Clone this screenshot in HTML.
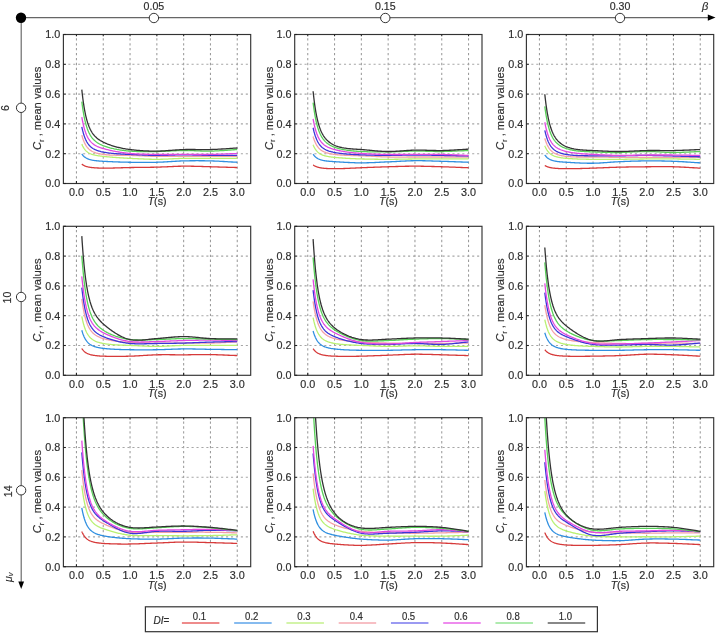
<!DOCTYPE html><html><head><meta charset="utf-8"><style>html,body{margin:0;padding:0;background:#fff;width:716px;height:635px;overflow:hidden}svg{display:block;will-change:transform;filter:blur(0.35px)}text{font-family:"Liberation Sans", sans-serif;fill:#2e2e2e;stroke:#2e2e2e;stroke-width:0.18px}</style></head><body>
<svg width="716" height="635" viewBox="0 0 716 635">
<defs>
<clipPath id="c0"><rect x="63.4" y="34.5" width="187.3" height="149"/></clipPath>
<clipPath id="c1"><rect x="294.7" y="34.5" width="187.3" height="149"/></clipPath>
<clipPath id="c2"><rect x="526.4" y="34.5" width="187.3" height="149"/></clipPath>
<clipPath id="c3"><rect x="63.4" y="226.3" width="187.3" height="149"/></clipPath>
<clipPath id="c4"><rect x="294.7" y="226.3" width="187.3" height="149"/></clipPath>
<clipPath id="c5"><rect x="526.4" y="226.3" width="187.3" height="149"/></clipPath>
<clipPath id="c6"><rect x="63.4" y="417.7" width="187.3" height="149"/></clipPath>
<clipPath id="c7"><rect x="294.7" y="417.7" width="187.3" height="149"/></clipPath>
<clipPath id="c8"><rect x="526.4" y="417.7" width="187.3" height="149"/></clipPath>
</defs>
<line x1="21" y1="17.6" x2="709" y2="17.6" stroke="#666" stroke-width="1.1"/>
<path d="M715.5 17.6 L707.8 14.4 L707.8 20.8 Z" fill="#000"/>
<text x="702.0" y="9.6" font-size="11" font-style="italic">&#946;</text>
<line x1="21.2" y1="17.6" x2="21.2" y2="583" stroke="#666" stroke-width="1.15"/>
<path d="M21.2 589 L18.3 581.5 L24.1 581.5 Z" fill="#000"/>
<circle cx="21" cy="17.8" r="5.2" fill="#000"/>
<circle cx="153.9" cy="18" r="4.7" fill="#fff" stroke="#333" stroke-width="1"/>
<text x="153.9" y="10" font-size="10.6" text-anchor="middle">0.05</text>
<circle cx="385.3" cy="18" r="4.7" fill="#fff" stroke="#333" stroke-width="1"/>
<text x="385.3" y="10" font-size="10.6" text-anchor="middle">0.15</text>
<circle cx="620" cy="18" r="4.7" fill="#fff" stroke="#333" stroke-width="1"/>
<text x="620" y="10" font-size="10.6" text-anchor="middle">0.30</text>
<circle cx="21.1" cy="107.8" r="4.7" fill="#fff" stroke="#333" stroke-width="1"/>
<text x="0" y="0" font-size="10.6" text-anchor="middle" transform="translate(9.2 108) rotate(-90)">6</text>
<circle cx="21.1" cy="297" r="4.7" fill="#fff" stroke="#333" stroke-width="1"/>
<text x="0" y="0" font-size="10.6" text-anchor="middle" transform="translate(10.7 297.6) rotate(-90)">10</text>
<circle cx="21.1" cy="490.3" r="4.7" fill="#fff" stroke="#333" stroke-width="1"/>
<text x="0" y="0" font-size="10.6" text-anchor="middle" transform="translate(11.6 491.3) rotate(-90)">14</text>
<text x="0" y="0" font-size="10.5" font-style="italic" transform="translate(12.0 581.9) rotate(-90)" style="stroke-width:0.1px">&#956;<tspan font-size="7.5" dy="0.8">v</tspan></text>
<line x1="76.45" y1="38.2" x2="76.45" y2="183.5" stroke="#9a9a9a" stroke-width="1.05" stroke-dasharray="2.3 2.63"/>
<line x1="103.25" y1="38.2" x2="103.25" y2="183.5" stroke="#9a9a9a" stroke-width="1.05" stroke-dasharray="2.3 2.63"/>
<line x1="130.05" y1="38.2" x2="130.05" y2="183.5" stroke="#9a9a9a" stroke-width="1.05" stroke-dasharray="2.3 2.63"/>
<line x1="156.85" y1="38.2" x2="156.85" y2="183.5" stroke="#9a9a9a" stroke-width="1.05" stroke-dasharray="2.3 2.63"/>
<line x1="183.65" y1="38.2" x2="183.65" y2="183.5" stroke="#9a9a9a" stroke-width="1.05" stroke-dasharray="2.3 2.63"/>
<line x1="210.45" y1="38.2" x2="210.45" y2="183.5" stroke="#9a9a9a" stroke-width="1.05" stroke-dasharray="2.3 2.63"/>
<line x1="237.25" y1="38.2" x2="237.25" y2="183.5" stroke="#9a9a9a" stroke-width="1.05" stroke-dasharray="2.3 2.63"/>
<line x1="68.3" y1="153.7" x2="248.7" y2="153.7" stroke="#a6a6a6" stroke-width="1.1" stroke-dasharray="2.1 2.83"/>
<line x1="68.3" y1="123.9" x2="248.7" y2="123.9" stroke="#a6a6a6" stroke-width="1.1" stroke-dasharray="2.1 2.83"/>
<line x1="68.3" y1="94.1" x2="248.7" y2="94.1" stroke="#a6a6a6" stroke-width="1.1" stroke-dasharray="2.1 2.83"/>
<line x1="68.3" y1="64.3" x2="248.7" y2="64.3" stroke="#a6a6a6" stroke-width="1.1" stroke-dasharray="2.1 2.83"/>
<polyline clip-path="url(#c0)" points="81.81,164.13 81.83,164.14 81.87,164.18 81.93,164.22 82.01,164.29 82.11,164.36 82.23,164.45 82.37,164.55 82.52,164.65 82.68,164.76 82.87,164.88 83.07,165.01 83.28,165.13 83.51,165.26 83.75,165.39 84.00,165.52 84.27,165.66 84.56,165.79 84.86,165.92 85.17,166.04 85.49,166.17 85.83,166.29 86.18,166.41 86.54,166.52 86.92,166.63 87.31,166.74 87.71,166.84 88.13,166.94 88.56,167.03 89.00,167.12 89.45,167.20 89.91,167.28 90.39,167.35 90.88,167.42 91.38,167.49 91.89,167.55 92.41,167.61 92.95,167.67 93.50,167.72 94.06,167.76 94.63,167.81 95.21,167.85 95.81,167.89 96.41,167.93 97.03,167.96 97.66,167.99 98.30,168.02 98.95,168.04 99.61,168.06 100.28,168.08 100.97,168.10 101.66,168.11 102.37,168.12 103.08,168.13 103.81,168.13 104.55,168.14 105.30,168.14 106.06,168.13 106.83,168.13 107.61,168.12 108.41,168.11 109.21,168.10 110.02,168.09 110.85,168.07 111.68,168.05 112.53,168.03 113.38,168.01 114.25,167.99 115.13,167.97 116.01,167.94 116.91,167.92 117.82,167.89 118.74,167.86 119.67,167.83 120.60,167.80 121.55,167.77 122.51,167.74 123.48,167.72 124.46,167.69 125.45,167.66 126.45,167.63 127.46,167.60 128.48,167.58 129.51,167.56 130.55,167.53 131.60,167.51 132.65,167.50 133.72,167.48 134.80,167.46 135.89,167.45 136.99,167.43 138.10,167.42 139.22,167.41 140.35,167.40 141.48,167.39 142.63,167.37 143.79,167.36 144.95,167.35 146.13,167.34 147.32,167.32 148.51,167.31 149.72,167.29 150.93,167.27 152.16,167.25 153.39,167.23 154.64,167.21 155.89,167.18 157.15,167.14 158.42,167.11 159.71,167.06 161.00,167.02 162.30,166.96 163.61,166.91 164.93,166.85 166.26,166.79 167.59,166.73 168.94,166.66 170.30,166.60 171.66,166.54 173.04,166.48 174.42,166.42 175.82,166.36 177.22,166.31 178.63,166.27 180.05,166.23 181.48,166.20 182.92,166.18 184.37,166.17 185.83,166.17 187.30,166.17 188.78,166.19 190.26,166.21 191.76,166.23 193.26,166.26 194.77,166.30 196.29,166.34 197.83,166.38 199.37,166.43 200.91,166.47 202.47,166.52 204.04,166.57 205.62,166.62 207.20,166.67 208.79,166.72 210.40,166.76 212.01,166.80 213.63,166.85 215.26,166.89 216.90,166.94 218.55,166.98 220.20,167.03 221.87,167.08 223.54,167.13 225.22,167.18 226.92,167.23 228.62,167.29 230.33,167.34 232.04,167.39 233.77,167.44 235.51,167.49 237.25,167.54" fill="none" stroke="#d63a3a" stroke-width="1.3" stroke-linejoin="round"/>
<polyline clip-path="url(#c0)" points="81.81,153.85 81.83,153.87 81.87,153.93 81.93,154.02 82.01,154.14 82.11,154.28 82.23,154.44 82.37,154.61 82.52,154.81 82.68,155.01 82.87,155.23 83.07,155.46 83.28,155.69 83.51,155.93 83.75,156.17 84.00,156.41 84.27,156.65 84.56,156.89 84.86,157.12 85.17,157.36 85.49,157.58 85.83,157.80 86.18,158.02 86.54,158.23 86.92,158.42 87.31,158.62 87.71,158.80 88.13,158.97 88.56,159.14 89.00,159.30 89.45,159.45 89.91,159.59 90.39,159.72 90.88,159.84 91.38,159.96 91.89,160.07 92.41,160.18 92.95,160.28 93.50,160.37 94.06,160.45 94.63,160.54 95.21,160.61 95.81,160.68 96.41,160.75 97.03,160.82 97.66,160.88 98.30,160.94 98.95,160.99 99.61,161.04 100.28,161.09 100.97,161.14 101.66,161.19 102.37,161.23 103.08,161.28 103.81,161.32 104.55,161.36 105.30,161.40 106.06,161.44 106.83,161.48 107.61,161.52 108.41,161.56 109.21,161.60 110.02,161.64 110.85,161.67 111.68,161.71 112.53,161.75 113.38,161.78 114.25,161.82 115.13,161.85 116.01,161.89 116.91,161.92 117.82,161.95 118.74,161.99 119.67,162.02 120.60,162.05 121.55,162.08 122.51,162.10 123.48,162.13 124.46,162.16 125.45,162.18 126.45,162.20 127.46,162.22 128.48,162.24 129.51,162.26 130.55,162.27 131.60,162.28 132.65,162.30 133.72,162.31 134.80,162.32 135.89,162.34 136.99,162.35 138.10,162.36 139.22,162.37 140.35,162.38 141.48,162.39 142.63,162.39 143.79,162.40 144.95,162.40 146.13,162.40 147.32,162.40 148.51,162.39 149.72,162.38 150.93,162.37 152.16,162.36 153.39,162.34 154.64,162.32 155.89,162.29 157.15,162.26 158.42,162.22 159.71,162.17 161.00,162.11 162.30,162.05 163.61,161.98 164.93,161.91 166.26,161.83 167.59,161.75 168.94,161.66 170.30,161.57 171.66,161.49 173.04,161.40 174.42,161.32 175.82,161.24 177.22,161.16 178.63,161.09 180.05,161.02 181.48,160.96 182.92,160.92 184.37,160.88 185.83,160.84 187.30,160.81 188.78,160.79 190.26,160.77 191.76,160.75 193.26,160.74 194.77,160.73 196.29,160.72 197.83,160.72 199.37,160.73 200.91,160.74 202.47,160.75 204.04,160.77 205.62,160.79 207.20,160.82 208.79,160.86 210.40,160.89 212.01,160.94 213.63,160.99 215.26,161.06 216.90,161.13 218.55,161.21 220.20,161.29 221.87,161.38 223.54,161.48 225.22,161.57 226.92,161.67 228.62,161.78 230.33,161.88 232.04,161.98 233.77,162.08 235.51,162.17 237.25,162.26" fill="none" stroke="#2f8fe0" stroke-width="1.3" stroke-linejoin="round"/>
<polyline clip-path="url(#c0)" points="81.81,144.16 81.83,144.20 81.87,144.30 81.93,144.45 82.01,144.64 82.11,144.86 82.23,145.12 82.37,145.41 82.52,145.72 82.68,146.06 82.87,146.41 83.07,146.78 83.28,147.16 83.51,147.54 83.75,147.94 84.00,148.33 84.27,148.72 84.56,149.11 84.86,149.50 85.17,149.88 85.49,150.25 85.83,150.61 86.18,150.96 86.54,151.30 86.92,151.62 87.31,151.94 87.71,152.24 88.13,152.52 88.56,152.79 89.00,153.05 89.45,153.30 89.91,153.53 90.39,153.75 90.88,153.96 91.38,154.15 91.89,154.33 92.41,154.51 92.95,154.67 93.50,154.82 94.06,154.97 94.63,155.10 95.21,155.23 95.81,155.35 96.41,155.47 97.03,155.58 97.66,155.68 98.30,155.78 98.95,155.88 99.61,155.97 100.28,156.05 100.97,156.14 101.66,156.22 102.37,156.30 103.08,156.38 103.81,156.46 104.55,156.53 105.30,156.61 106.06,156.68 106.83,156.75 107.61,156.83 108.41,156.90 109.21,156.97 110.02,157.03 110.85,157.10 111.68,157.17 112.53,157.24 113.38,157.31 114.25,157.37 115.13,157.44 116.01,157.50 116.91,157.57 117.82,157.63 118.74,157.70 119.67,157.76 120.60,157.82 121.55,157.88 122.51,157.94 123.48,158.00 124.46,158.06 125.45,158.12 126.45,158.17 127.46,158.23 128.48,158.28 129.51,158.33 130.55,158.38 131.60,158.43 132.65,158.48 133.72,158.53 134.80,158.58 135.89,158.64 136.99,158.69 138.10,158.75 139.22,158.80 140.35,158.86 141.48,158.91 142.63,158.96 143.79,159.01 144.95,159.06 146.13,159.11 147.32,159.15 148.51,159.19 149.72,159.23 150.93,159.26 152.16,159.29 153.39,159.31 154.64,159.32 155.89,159.33 157.15,159.33 158.42,159.32 159.71,159.30 161.00,159.27 162.30,159.24 163.61,159.19 164.93,159.14 166.26,159.09 167.59,159.03 168.94,158.96 170.30,158.90 171.66,158.83 173.04,158.76 174.42,158.69 175.82,158.63 177.22,158.56 178.63,158.50 180.05,158.45 181.48,158.41 182.92,158.37 184.37,158.34 185.83,158.32 187.30,158.30 188.78,158.29 190.26,158.28 191.76,158.28 193.26,158.28 194.77,158.28 196.29,158.29 197.83,158.30 199.37,158.30 200.91,158.31 202.47,158.32 204.04,158.33 205.62,158.34 207.20,158.35 208.79,158.35 210.40,158.35 212.01,158.35 213.63,158.35 215.26,158.35 216.90,158.35 218.55,158.35 220.20,158.35 221.87,158.35 223.54,158.35 225.22,158.35 226.92,158.35 228.62,158.35 230.33,158.35 232.04,158.35 233.77,158.35 235.51,158.35 237.25,158.35" fill="none" stroke="#b8f070" stroke-width="1.3" stroke-linejoin="round"/>
<polyline clip-path="url(#c0)" points="81.81,135.07 81.83,135.14 81.87,135.29 81.93,135.52 82.01,135.81 82.11,136.17 82.23,136.57 82.37,137.02 82.52,137.52 82.68,138.04 82.87,138.59 83.07,139.17 83.28,139.77 83.51,140.37 83.75,140.99 84.00,141.61 84.27,142.23 84.56,142.84 84.86,143.45 85.17,144.05 85.49,144.64 85.83,145.21 86.18,145.77 86.54,146.31 86.92,146.83 87.31,147.33 87.71,147.81 88.13,148.27 88.56,148.71 89.00,149.12 89.45,149.52 89.91,149.90 90.39,150.25 90.88,150.59 91.38,150.91 91.89,151.21 92.41,151.49 92.95,151.76 93.50,152.01 94.06,152.25 94.63,152.47 95.21,152.68 95.81,152.88 96.41,153.07 97.03,153.25 97.66,153.41 98.30,153.57 98.95,153.71 99.61,153.85 100.28,153.98 100.97,154.10 101.66,154.21 102.37,154.32 103.08,154.42 103.81,154.51 104.55,154.60 105.30,154.68 106.06,154.75 106.83,154.82 107.61,154.88 108.41,154.93 109.21,154.98 110.02,155.03 110.85,155.07 111.68,155.11 112.53,155.14 113.38,155.17 114.25,155.19 115.13,155.21 116.01,155.23 116.91,155.25 117.82,155.26 118.74,155.28 119.67,155.29 120.60,155.30 121.55,155.31 122.51,155.32 123.48,155.33 124.46,155.34 125.45,155.35 126.45,155.36 127.46,155.37 128.48,155.39 129.51,155.41 130.55,155.43 131.60,155.46 132.65,155.49 133.72,155.52 134.80,155.56 135.89,155.60 136.99,155.64 138.10,155.69 139.22,155.74 140.35,155.79 141.48,155.84 142.63,155.89 143.79,155.94 144.95,156.00 146.13,156.05 147.32,156.10 148.51,156.15 149.72,156.20 150.93,156.24 152.16,156.28 153.39,156.32 154.64,156.35 155.89,156.38 157.15,156.40 158.42,156.42 159.71,156.43 161.00,156.45 162.30,156.45 163.61,156.46 164.93,156.46 166.26,156.46 167.59,156.46 168.94,156.46 170.30,156.45 171.66,156.45 173.04,156.44 174.42,156.43 175.82,156.43 177.22,156.42 178.63,156.41 180.05,156.41 181.48,156.40 182.92,156.40 184.37,156.40 185.83,156.40 187.30,156.40 188.78,156.40 190.26,156.40 191.76,156.40 193.26,156.40 194.77,156.40 196.29,156.40 197.83,156.40 199.37,156.40 200.91,156.40 202.47,156.40 204.04,156.40 205.62,156.40 207.20,156.40 208.79,156.40 210.40,156.40 212.01,156.40 213.63,156.40 215.26,156.40 216.90,156.40 218.55,156.40 220.20,156.40 221.87,156.40 223.54,156.40 225.22,156.40 226.92,156.40 228.62,156.40 230.33,156.40 232.04,156.40 233.77,156.40 235.51,156.40 237.25,156.40" fill="none" stroke="#f4a0a6" stroke-width="1.3" stroke-linejoin="round"/>
<polyline clip-path="url(#c0)" points="81.81,126.88 81.83,126.96 81.87,127.16 81.93,127.45 82.01,127.83 82.11,128.28 82.23,128.81 82.37,129.39 82.52,130.02 82.68,130.70 82.87,131.41 83.07,132.15 83.28,132.92 83.51,133.70 83.75,134.49 84.00,135.29 84.27,136.09 84.56,136.89 84.86,137.67 85.17,138.45 85.49,139.21 85.83,139.95 86.18,140.67 86.54,141.36 86.92,142.04 87.31,142.68 87.71,143.30 88.13,143.90 88.56,144.47 89.00,145.01 89.45,145.52 89.91,146.01 90.39,146.48 90.88,146.92 91.38,147.33 91.89,147.73 92.41,148.10 92.95,148.45 93.50,148.78 94.06,149.09 94.63,149.39 95.21,149.67 95.81,149.93 96.41,150.18 97.03,150.42 97.66,150.64 98.30,150.85 98.95,151.05 99.61,151.24 100.28,151.42 100.97,151.60 101.66,151.76 102.37,151.91 103.08,152.06 103.81,152.20 104.55,152.34 105.30,152.47 106.06,152.59 106.83,152.71 107.61,152.82 108.41,152.92 109.21,153.02 110.02,153.12 110.85,153.21 111.68,153.30 112.53,153.38 113.38,153.46 114.25,153.54 115.13,153.61 116.01,153.68 116.91,153.74 117.82,153.81 118.74,153.87 119.67,153.93 120.60,153.98 121.55,154.04 122.51,154.09 123.48,154.14 124.46,154.19 125.45,154.24 126.45,154.28 127.46,154.33 128.48,154.37 129.51,154.42 130.55,154.46 131.60,154.51 132.65,154.56 133.72,154.61 134.80,154.66 135.89,154.71 136.99,154.76 138.10,154.81 139.22,154.87 140.35,154.92 141.48,154.97 142.63,155.02 143.79,155.07 144.95,155.12 146.13,155.17 147.32,155.21 148.51,155.25 149.72,155.29 150.93,155.33 152.16,155.36 153.39,155.38 154.64,155.40 155.89,155.41 157.15,155.42 158.42,155.42 159.71,155.41 161.00,155.39 162.30,155.37 163.61,155.34 164.93,155.31 166.26,155.27 167.59,155.23 168.94,155.19 170.30,155.14 171.66,155.09 173.04,155.05 174.42,155.00 175.82,154.96 177.22,154.93 178.63,154.89 180.05,154.87 181.48,154.85 182.92,154.84 184.37,154.83 185.83,154.84 187.30,154.86 188.78,154.88 190.26,154.91 191.76,154.94 193.26,154.98 194.77,155.02 196.29,155.07 197.83,155.11 199.37,155.16 200.91,155.21 202.47,155.25 204.04,155.29 205.62,155.33 207.20,155.37 208.79,155.40 210.40,155.42 212.01,155.44 213.63,155.45 215.26,155.46 216.90,155.46 218.55,155.46 220.20,155.46 221.87,155.46 223.54,155.46 225.22,155.45 226.92,155.45 228.62,155.44 230.33,155.44 232.04,155.43 233.77,155.42 235.51,155.42 237.25,155.42" fill="none" stroke="#3a36d8" stroke-width="1.3" stroke-linejoin="round"/>
<polyline clip-path="url(#c0)" points="81.81,117.05 81.83,117.14 81.87,117.39 81.93,117.75 82.01,118.22 82.11,118.78 82.23,119.43 82.37,120.14 82.52,120.93 82.68,121.76 82.87,122.64 83.07,123.56 83.28,124.51 83.51,125.48 83.75,126.46 84.00,127.45 84.27,128.43 84.56,129.42 84.86,130.39 85.17,131.35 85.49,132.29 85.83,133.21 86.18,134.10 86.54,134.96 86.92,135.80 87.31,136.60 87.71,137.37 88.13,138.11 88.56,138.82 89.00,139.49 89.45,140.13 89.91,140.74 90.39,141.32 90.88,141.87 91.38,142.39 91.89,142.88 92.41,143.35 92.95,143.79 93.50,144.20 94.06,144.60 94.63,144.97 95.21,145.33 95.81,145.66 96.41,145.98 97.03,146.29 97.66,146.58 98.30,146.85 98.95,147.12 99.61,147.37 100.28,147.62 100.97,147.86 101.66,148.09 102.37,148.31 103.08,148.53 103.81,148.74 104.55,148.95 105.30,149.15 106.06,149.35 106.83,149.55 107.61,149.74 108.41,149.93 109.21,150.12 110.02,150.31 110.85,150.49 111.68,150.67 112.53,150.85 113.38,151.02 114.25,151.19 115.13,151.36 116.01,151.53 116.91,151.69 117.82,151.85 118.74,152.01 119.67,152.16 120.60,152.31 121.55,152.46 122.51,152.60 123.48,152.73 124.46,152.86 125.45,152.99 126.45,153.11 127.46,153.22 128.48,153.32 129.51,153.42 130.55,153.51 131.60,153.59 132.65,153.67 133.72,153.74 134.80,153.81 135.89,153.87 136.99,153.93 138.10,153.98 139.22,154.03 140.35,154.08 141.48,154.12 142.63,154.16 143.79,154.19 144.95,154.23 146.13,154.26 147.32,154.28 148.51,154.31 149.72,154.33 150.93,154.35 152.16,154.37 153.39,154.39 154.64,154.41 155.89,154.43 157.15,154.45 158.42,154.46 159.71,154.47 161.00,154.48 162.30,154.49 163.61,154.50 164.93,154.50 166.26,154.50 167.59,154.50 168.94,154.49 170.30,154.49 171.66,154.49 173.04,154.48 174.42,154.47 175.82,154.47 177.22,154.46 178.63,154.46 180.05,154.45 181.48,154.45 182.92,154.44 184.37,154.44 185.83,154.44 187.30,154.45 188.78,154.45 190.26,154.46 191.76,154.47 193.26,154.48 194.77,154.49 196.29,154.50 197.83,154.50 199.37,154.51 200.91,154.51 202.47,154.51 204.04,154.51 205.62,154.50 207.20,154.49 208.79,154.47 210.40,154.44 212.01,154.41 213.63,154.37 215.26,154.33 216.90,154.27 218.55,154.22 220.20,154.16 221.87,154.09 223.54,154.03 225.22,153.96 226.92,153.89 228.62,153.81 230.33,153.74 232.04,153.67 233.77,153.60 235.51,153.53 237.25,153.46" fill="none" stroke="#e048e0" stroke-width="1.3" stroke-linejoin="round"/>
<polyline clip-path="url(#c0)" points="81.81,101.55 81.83,101.69 81.87,102.02 81.93,102.52 82.01,103.17 82.11,103.95 82.23,104.84 82.37,105.83 82.52,106.91 82.68,108.07 82.87,109.29 83.07,110.56 83.28,111.87 83.51,113.21 83.75,114.57 84.00,115.94 84.27,117.31 84.56,118.68 84.86,120.03 85.17,121.37 85.49,122.67 85.83,123.95 86.18,125.20 86.54,126.41 86.92,127.57 87.31,128.70 87.71,129.78 88.13,130.82 88.56,131.81 89.00,132.76 89.45,133.67 89.91,134.53 90.39,135.35 90.88,136.13 91.38,136.87 91.89,137.57 92.41,138.23 92.95,138.86 93.50,139.46 94.06,140.02 94.63,140.56 95.21,141.06 95.81,141.55 96.41,142.00 97.03,142.44 97.66,142.85 98.30,143.25 98.95,143.63 99.61,143.99 100.28,144.33 100.97,144.66 101.66,144.98 102.37,145.28 103.08,145.58 103.81,145.86 104.55,146.14 105.30,146.40 106.06,146.66 106.83,146.91 107.61,147.15 108.41,147.39 109.21,147.61 110.02,147.84 110.85,148.05 111.68,148.26 112.53,148.47 113.38,148.66 114.25,148.86 115.13,149.04 116.01,149.22 116.91,149.40 117.82,149.56 118.74,149.73 119.67,149.88 120.60,150.03 121.55,150.18 122.51,150.32 123.48,150.45 124.46,150.57 125.45,150.69 126.45,150.80 127.46,150.90 128.48,150.99 129.51,151.08 130.55,151.15 131.60,151.22 132.65,151.29 133.72,151.34 134.80,151.39 135.89,151.44 136.99,151.48 138.10,151.51 139.22,151.54 140.35,151.57 141.48,151.58 142.63,151.60 143.79,151.61 144.95,151.62 146.13,151.62 147.32,151.62 148.51,151.61 149.72,151.60 150.93,151.59 152.16,151.58 153.39,151.56 154.64,151.55 155.89,151.53 157.15,151.50 158.42,151.48 159.71,151.44 161.00,151.40 162.30,151.35 163.61,151.30 164.93,151.24 166.26,151.18 167.59,151.12 168.94,151.05 170.30,150.99 171.66,150.92 173.04,150.86 174.42,150.80 175.82,150.74 177.22,150.68 178.63,150.64 180.05,150.60 181.48,150.56 182.92,150.54 184.37,150.53 185.83,150.53 187.30,150.55 188.78,150.57 190.26,150.61 191.76,150.66 193.26,150.71 194.77,150.77 196.29,150.83 197.83,150.89 199.37,150.95 200.91,151.00 202.47,151.05 204.04,151.09 205.62,151.12 207.20,151.14 208.79,151.14 210.40,151.12 212.01,151.08 213.63,151.03 215.26,150.97 216.90,150.89 218.55,150.80 220.20,150.71 221.87,150.60 223.54,150.49 225.22,150.38 226.92,150.26 228.62,150.13 230.33,150.01 232.04,149.89 233.77,149.77 235.51,149.66 237.25,149.55" fill="none" stroke="#58d058" stroke-width="1.3" stroke-linejoin="round"/>
<polyline clip-path="url(#c0)" points="81.81,89.63 81.83,89.79 81.87,90.18 81.93,90.77 82.01,91.53 82.11,92.45 82.23,93.49 82.37,94.66 82.52,95.93 82.68,97.29 82.87,98.73 83.07,100.22 83.28,101.77 83.51,103.35 83.75,104.95 84.00,106.57 84.27,108.19 84.56,109.80 84.86,111.40 85.17,112.97 85.49,114.52 85.83,116.03 86.18,117.51 86.54,118.94 86.92,120.32 87.31,121.66 87.71,122.94 88.13,124.18 88.56,125.36 89.00,126.49 89.45,127.57 89.91,128.60 90.39,129.58 90.88,130.51 91.38,131.40 91.89,132.24 92.41,133.04 92.95,133.80 93.50,134.52 94.06,135.20 94.63,135.85 95.21,136.47 95.81,137.05 96.41,137.61 97.03,138.14 97.66,138.65 98.30,139.14 98.95,139.60 99.61,140.05 100.28,140.48 100.97,140.89 101.66,141.28 102.37,141.67 103.08,142.04 103.81,142.40 104.55,142.75 105.30,143.09 106.06,143.42 106.83,143.74 107.61,144.06 108.41,144.36 109.21,144.66 110.02,144.95 110.85,145.24 111.68,145.51 112.53,145.78 113.38,146.05 114.25,146.31 115.13,146.56 116.01,146.80 116.91,147.04 117.82,147.27 118.74,147.50 119.67,147.72 120.60,147.93 121.55,148.13 122.51,148.33 123.48,148.52 124.46,148.70 125.45,148.88 126.45,149.04 127.46,149.20 128.48,149.35 129.51,149.49 130.55,149.61 131.60,149.74 132.65,149.86 133.72,149.97 134.80,150.08 135.89,150.18 136.99,150.28 138.10,150.38 139.22,150.47 140.35,150.56 141.48,150.64 142.63,150.71 143.79,150.78 144.95,150.85 146.13,150.90 147.32,150.95 148.51,151.00 149.72,151.04 150.93,151.07 152.16,151.10 153.39,151.11 154.64,151.12 155.89,151.12 157.15,151.12 158.42,151.09 159.71,151.06 161.00,151.01 162.30,150.95 163.61,150.88 164.93,150.80 166.26,150.71 167.59,150.61 168.94,150.51 170.30,150.41 171.66,150.30 173.04,150.19 174.42,150.09 175.82,149.98 177.22,149.88 178.63,149.79 180.05,149.71 181.48,149.64 182.92,149.58 184.37,149.53 185.83,149.50 187.30,149.48 188.78,149.47 190.26,149.48 191.76,149.48 193.26,149.50 194.77,149.52 196.29,149.54 197.83,149.56 199.37,149.58 200.91,149.60 202.47,149.62 204.04,149.63 205.62,149.63 207.20,149.62 208.79,149.59 210.40,149.56 212.01,149.50 213.63,149.44 215.26,149.37 216.90,149.29 218.55,149.20 220.20,149.10 221.87,149.00 223.54,148.89 225.22,148.78 226.92,148.66 228.62,148.55 230.33,148.43 232.04,148.32 233.77,148.20 235.51,148.09 237.25,147.99" fill="none" stroke="#333333" stroke-width="1.3" stroke-linejoin="round"/>
<rect x="63.4" y="34.5" width="187.3" height="149" fill="none" stroke="#333" stroke-width="1.15"/>
<line x1="76.45" y1="183.5" x2="76.45" y2="181" stroke="#222" stroke-width="1.1"/>
<line x1="76.45" y1="34.5" x2="76.45" y2="36.3" stroke="#222" stroke-width="1.1"/>
<text x="76.45" y="195.7" font-size="10.8" text-anchor="middle">0.0</text>
<line x1="103.25" y1="183.5" x2="103.25" y2="181" stroke="#222" stroke-width="1.1"/>
<line x1="103.25" y1="34.5" x2="103.25" y2="36.3" stroke="#222" stroke-width="1.1"/>
<text x="103.25" y="195.7" font-size="10.8" text-anchor="middle">0.5</text>
<line x1="130.05" y1="183.5" x2="130.05" y2="181" stroke="#222" stroke-width="1.1"/>
<line x1="130.05" y1="34.5" x2="130.05" y2="36.3" stroke="#222" stroke-width="1.1"/>
<text x="130.05" y="195.7" font-size="10.8" text-anchor="middle">1.0</text>
<line x1="156.85" y1="183.5" x2="156.85" y2="181" stroke="#222" stroke-width="1.1"/>
<line x1="156.85" y1="34.5" x2="156.85" y2="36.3" stroke="#222" stroke-width="1.1"/>
<text x="156.85" y="195.7" font-size="10.8" text-anchor="middle">1.5</text>
<line x1="183.65" y1="183.5" x2="183.65" y2="181" stroke="#222" stroke-width="1.1"/>
<line x1="183.65" y1="34.5" x2="183.65" y2="36.3" stroke="#222" stroke-width="1.1"/>
<text x="183.65" y="195.7" font-size="10.8" text-anchor="middle">2.0</text>
<line x1="210.45" y1="183.5" x2="210.45" y2="181" stroke="#222" stroke-width="1.1"/>
<line x1="210.45" y1="34.5" x2="210.45" y2="36.3" stroke="#222" stroke-width="1.1"/>
<text x="210.45" y="195.7" font-size="10.8" text-anchor="middle">2.5</text>
<line x1="237.25" y1="183.5" x2="237.25" y2="181" stroke="#222" stroke-width="1.1"/>
<line x1="237.25" y1="34.5" x2="237.25" y2="36.3" stroke="#222" stroke-width="1.1"/>
<text x="237.25" y="195.7" font-size="10.8" text-anchor="middle">3.0</text>
<line x1="63.4" y1="183.5" x2="65.9" y2="183.5" stroke="#222" stroke-width="1.1"/>
<text x="60.2" y="187.4" font-size="10.8" text-anchor="end">0.0</text>
<line x1="63.4" y1="153.7" x2="65.9" y2="153.7" stroke="#222" stroke-width="1.1"/>
<text x="60.2" y="157.6" font-size="10.8" text-anchor="end">0.2</text>
<line x1="63.4" y1="123.9" x2="65.9" y2="123.9" stroke="#222" stroke-width="1.1"/>
<text x="60.2" y="127.8" font-size="10.8" text-anchor="end">0.4</text>
<line x1="63.4" y1="94.1" x2="65.9" y2="94.1" stroke="#222" stroke-width="1.1"/>
<text x="60.2" y="98" font-size="10.8" text-anchor="end">0.6</text>
<line x1="63.4" y1="64.3" x2="65.9" y2="64.3" stroke="#222" stroke-width="1.1"/>
<text x="60.2" y="68.2" font-size="10.8" text-anchor="end">0.8</text>
<line x1="63.4" y1="34.5" x2="65.9" y2="34.5" stroke="#222" stroke-width="1.1"/>
<text x="60.2" y="38.4" font-size="10.8" text-anchor="end">1.0</text>
<text x="157.05" y="205.3" font-size="10.6" text-anchor="middle"><tspan font-style="italic">T</tspan>(s)</text>
<text x="0" y="0" font-size="11.2" text-anchor="middle" transform="translate(41.2 108.4) rotate(-90)"><tspan font-style="italic">C</tspan><tspan font-size="7.5" dy="2.5">r</tspan><tspan dy="-2.5"> , mean values</tspan></text>
<line x1="307.75" y1="38.2" x2="307.75" y2="183.5" stroke="#9a9a9a" stroke-width="1.05" stroke-dasharray="2.3 2.63"/>
<line x1="334.55" y1="38.2" x2="334.55" y2="183.5" stroke="#9a9a9a" stroke-width="1.05" stroke-dasharray="2.3 2.63"/>
<line x1="361.35" y1="38.2" x2="361.35" y2="183.5" stroke="#9a9a9a" stroke-width="1.05" stroke-dasharray="2.3 2.63"/>
<line x1="388.15" y1="38.2" x2="388.15" y2="183.5" stroke="#9a9a9a" stroke-width="1.05" stroke-dasharray="2.3 2.63"/>
<line x1="414.95" y1="38.2" x2="414.95" y2="183.5" stroke="#9a9a9a" stroke-width="1.05" stroke-dasharray="2.3 2.63"/>
<line x1="441.75" y1="38.2" x2="441.75" y2="183.5" stroke="#9a9a9a" stroke-width="1.05" stroke-dasharray="2.3 2.63"/>
<line x1="468.55" y1="38.2" x2="468.55" y2="183.5" stroke="#9a9a9a" stroke-width="1.05" stroke-dasharray="2.3 2.63"/>
<line x1="299.6" y1="153.7" x2="480" y2="153.7" stroke="#a6a6a6" stroke-width="1.1" stroke-dasharray="2.1 2.83"/>
<line x1="299.6" y1="123.9" x2="480" y2="123.9" stroke="#a6a6a6" stroke-width="1.1" stroke-dasharray="2.1 2.83"/>
<line x1="299.6" y1="94.1" x2="480" y2="94.1" stroke="#a6a6a6" stroke-width="1.1" stroke-dasharray="2.1 2.83"/>
<line x1="299.6" y1="64.3" x2="480" y2="64.3" stroke="#a6a6a6" stroke-width="1.1" stroke-dasharray="2.1 2.83"/>
<polyline clip-path="url(#c1)" points="313.11,164.88 313.13,164.89 313.17,164.92 313.23,164.97 313.31,165.03 313.41,165.10 313.53,165.18 313.67,165.28 313.82,165.38 313.98,165.48 314.17,165.60 314.37,165.72 314.58,165.84 314.81,165.96 315.05,166.09 315.30,166.22 315.57,166.34 315.86,166.47 316.16,166.59 316.47,166.72 316.79,166.84 317.13,166.96 317.48,167.07 317.84,167.18 318.22,167.29 318.61,167.39 319.01,167.49 319.43,167.58 319.86,167.67 320.30,167.76 320.75,167.84 321.21,167.91 321.69,167.99 322.18,168.06 322.68,168.12 323.19,168.18 323.71,168.24 324.25,168.29 324.80,168.34 325.36,168.39 325.93,168.43 326.51,168.48 327.11,168.51 327.71,168.55 328.33,168.58 328.96,168.61 329.60,168.63 330.25,168.65 330.91,168.67 331.58,168.69 332.27,168.70 332.96,168.71 333.67,168.72 334.38,168.72 335.11,168.72 335.85,168.71 336.60,168.70 337.36,168.69 338.13,168.68 338.91,168.66 339.71,168.65 340.51,168.62 341.32,168.60 342.15,168.57 342.98,168.55 343.83,168.52 344.68,168.48 345.55,168.45 346.43,168.41 347.31,168.37 348.21,168.33 349.12,168.29 350.04,168.25 350.97,168.21 351.90,168.16 352.85,168.12 353.81,168.07 354.78,168.03 355.76,167.98 356.75,167.94 357.75,167.89 358.76,167.85 359.78,167.80 360.81,167.76 361.85,167.72 362.90,167.68 363.95,167.64 365.02,167.60 366.10,167.55 367.19,167.51 368.29,167.47 369.40,167.42 370.52,167.38 371.65,167.34 372.78,167.29 373.93,167.25 375.09,167.21 376.25,167.16 377.43,167.12 378.62,167.08 379.81,167.03 381.02,166.99 382.23,166.95 383.46,166.91 384.69,166.87 385.94,166.83 387.19,166.79 388.45,166.75 389.72,166.71 391.01,166.68 392.30,166.64 393.60,166.60 394.91,166.56 396.23,166.52 397.56,166.48 398.89,166.44 400.24,166.40 401.60,166.37 402.96,166.33 404.34,166.30 405.72,166.27 407.12,166.25 408.52,166.23 409.93,166.21 411.35,166.19 412.78,166.18 414.22,166.18 415.67,166.18 417.13,166.18 418.60,166.19 420.08,166.21 421.56,166.23 423.06,166.25 424.56,166.28 426.07,166.32 427.59,166.35 429.13,166.39 430.67,166.43 432.21,166.48 433.77,166.52 435.34,166.57 436.92,166.62 438.50,166.66 440.09,166.71 441.70,166.76 443.31,166.81 444.93,166.86 446.56,166.91 448.20,166.97 449.85,167.03 451.50,167.09 453.17,167.15 454.84,167.21 456.52,167.28 458.22,167.34 459.92,167.41 461.63,167.48 463.34,167.54 465.07,167.61 466.81,167.68 468.55,167.74" fill="none" stroke="#d63a3a" stroke-width="1.3" stroke-linejoin="round"/>
<polyline clip-path="url(#c1)" points="313.11,154.15 313.13,154.17 313.17,154.23 313.23,154.32 313.31,154.44 313.41,154.58 313.53,154.74 313.67,154.92 313.82,155.12 313.98,155.33 314.17,155.55 314.37,155.77 314.58,156.01 314.81,156.25 315.05,156.49 315.30,156.74 315.57,156.98 315.86,157.22 316.16,157.46 316.47,157.70 316.79,157.93 317.13,158.15 317.48,158.37 317.84,158.58 318.22,158.78 318.61,158.97 319.01,159.15 319.43,159.33 319.86,159.50 320.30,159.66 320.75,159.81 321.21,159.95 321.69,160.08 322.18,160.21 322.68,160.33 323.19,160.44 323.71,160.54 324.25,160.64 324.80,160.74 325.36,160.82 325.93,160.91 326.51,160.98 327.11,161.06 327.71,161.12 328.33,161.19 328.96,161.25 329.60,161.31 330.25,161.37 330.91,161.42 331.58,161.47 332.27,161.52 332.96,161.57 333.67,161.62 334.38,161.67 335.11,161.71 335.85,161.76 336.60,161.81 337.36,161.85 338.13,161.90 338.91,161.95 339.71,162.00 340.51,162.05 341.32,162.09 342.15,162.14 342.98,162.19 343.83,162.24 344.68,162.29 345.55,162.34 346.43,162.38 347.31,162.43 348.21,162.48 349.12,162.52 350.04,162.56 350.97,162.61 351.90,162.65 352.85,162.68 353.81,162.72 354.78,162.75 355.76,162.78 356.75,162.80 357.75,162.82 358.76,162.84 359.78,162.85 360.81,162.85 361.85,162.85 362.90,162.84 363.95,162.83 365.02,162.81 366.10,162.79 367.19,162.77 368.29,162.74 369.40,162.70 370.52,162.66 371.65,162.62 372.78,162.58 373.93,162.53 375.09,162.48 376.25,162.43 377.43,162.37 378.62,162.31 379.81,162.26 381.02,162.20 382.23,162.14 383.46,162.08 384.69,162.02 385.94,161.97 387.19,161.91 388.45,161.86 389.72,161.81 391.01,161.75 392.30,161.68 393.60,161.62 394.91,161.55 396.23,161.48 397.56,161.40 398.89,161.33 400.24,161.26 401.60,161.18 402.96,161.11 404.34,161.05 405.72,160.98 407.12,160.92 408.52,160.86 409.93,160.81 411.35,160.77 412.78,160.74 414.22,160.71 415.67,160.69 417.13,160.69 418.60,160.69 420.08,160.70 421.56,160.71 423.06,160.73 424.56,160.76 426.07,160.80 427.59,160.84 429.13,160.88 430.67,160.93 432.21,160.98 433.77,161.03 435.34,161.08 436.92,161.13 438.50,161.19 440.09,161.24 441.70,161.29 443.31,161.33 444.93,161.38 446.56,161.44 448.20,161.49 449.85,161.55 451.50,161.61 453.17,161.68 454.84,161.74 456.52,161.80 458.22,161.87 459.92,161.94 461.63,162.00 463.34,162.07 465.07,162.13 466.81,162.20 468.55,162.26" fill="none" stroke="#2f8fe0" stroke-width="1.3" stroke-linejoin="round"/>
<polyline clip-path="url(#c1)" points="313.11,144.76 313.13,144.80 313.17,144.90 313.23,145.05 313.31,145.25 313.41,145.48 313.53,145.75 313.67,146.04 313.82,146.37 313.98,146.71 314.17,147.08 314.37,147.46 314.58,147.85 314.81,148.25 315.05,148.65 315.30,149.06 315.57,149.46 315.86,149.87 316.16,150.26 316.47,150.66 316.79,151.04 317.13,151.41 317.48,151.77 317.84,152.12 318.22,152.46 318.61,152.79 319.01,153.10 319.43,153.39 319.86,153.67 320.30,153.94 320.75,154.20 321.21,154.44 321.69,154.66 322.18,154.88 322.68,155.08 323.19,155.27 323.71,155.45 324.25,155.62 324.80,155.78 325.36,155.93 325.93,156.07 326.51,156.20 327.11,156.33 327.71,156.45 328.33,156.56 328.96,156.67 329.60,156.77 330.25,156.86 330.91,156.95 331.58,157.04 332.27,157.13 332.96,157.21 333.67,157.28 334.38,157.36 335.11,157.43 335.85,157.50 336.60,157.57 337.36,157.64 338.13,157.70 338.91,157.77 339.71,157.83 340.51,157.89 341.32,157.95 342.15,158.01 342.98,158.07 343.83,158.12 344.68,158.18 345.55,158.23 346.43,158.28 347.31,158.34 348.21,158.39 349.12,158.44 350.04,158.49 350.97,158.53 351.90,158.58 352.85,158.62 353.81,158.67 354.78,158.71 355.76,158.75 356.75,158.79 357.75,158.83 358.76,158.86 359.78,158.89 360.81,158.92 361.85,158.95 362.90,158.98 363.95,159.01 365.02,159.04 366.10,159.06 367.19,159.09 368.29,159.11 369.40,159.13 370.52,159.16 371.65,159.18 372.78,159.20 373.93,159.22 375.09,159.24 376.25,159.25 377.43,159.27 378.62,159.28 379.81,159.29 381.02,159.31 382.23,159.31 383.46,159.32 384.69,159.33 385.94,159.33 387.19,159.33 388.45,159.33 389.72,159.33 391.01,159.32 392.30,159.31 393.60,159.29 394.91,159.27 396.23,159.25 397.56,159.23 398.89,159.21 400.24,159.18 401.60,159.15 402.96,159.13 404.34,159.10 405.72,159.07 407.12,159.05 408.52,159.02 409.93,159.00 411.35,158.98 412.78,158.96 414.22,158.95 415.67,158.93 417.13,158.93 418.60,158.92 420.08,158.91 421.56,158.91 423.06,158.91 424.56,158.91 426.07,158.91 427.59,158.91 429.13,158.92 430.67,158.92 432.21,158.92 433.77,158.93 435.34,158.93 436.92,158.93 438.50,158.94 440.09,158.94 441.70,158.94 443.31,158.94 444.93,158.94 446.56,158.94 448.20,158.94 449.85,158.94 451.50,158.94 453.17,158.94 454.84,158.94 456.52,158.94 458.22,158.94 459.92,158.94 461.63,158.94 463.34,158.94 465.07,158.94 466.81,158.94 468.55,158.94" fill="none" stroke="#b8f070" stroke-width="1.3" stroke-linejoin="round"/>
<polyline clip-path="url(#c1)" points="313.11,136.56 313.13,136.62 313.17,136.76 313.23,136.97 313.31,137.25 313.41,137.57 313.53,137.95 313.67,138.36 313.82,138.82 313.98,139.30 314.17,139.81 314.37,140.35 314.58,140.89 314.81,141.45 315.05,142.02 315.30,142.59 315.57,143.17 315.86,143.73 316.16,144.30 316.47,144.85 316.79,145.39 317.13,145.92 317.48,146.43 317.84,146.93 318.22,147.41 318.61,147.87 319.01,148.31 319.43,148.73 319.86,149.13 320.30,149.52 320.75,149.88 321.21,150.23 321.69,150.55 322.18,150.86 322.68,151.16 323.19,151.43 323.71,151.69 324.25,151.94 324.80,152.17 325.36,152.39 325.93,152.60 326.51,152.79 327.11,152.97 327.71,153.14 328.33,153.31 328.96,153.46 329.60,153.61 330.25,153.74 330.91,153.87 331.58,153.99 332.27,154.11 332.96,154.22 333.67,154.32 334.38,154.42 335.11,154.51 335.85,154.60 336.60,154.68 337.36,154.76 338.13,154.83 338.91,154.90 339.71,154.96 340.51,155.02 341.32,155.08 342.15,155.13 342.98,155.18 343.83,155.22 344.68,155.27 345.55,155.31 346.43,155.34 347.31,155.38 348.21,155.41 349.12,155.44 350.04,155.47 350.97,155.50 351.90,155.53 352.85,155.56 353.81,155.59 354.78,155.61 355.76,155.64 356.75,155.67 357.75,155.70 358.76,155.73 359.78,155.76 360.81,155.79 361.85,155.83 362.90,155.87 363.95,155.91 365.02,155.96 366.10,156.00 367.19,156.06 368.29,156.11 369.40,156.17 370.52,156.22 371.65,156.28 372.78,156.34 373.93,156.40 375.09,156.46 376.25,156.52 377.43,156.58 378.62,156.64 379.81,156.70 381.02,156.75 382.23,156.80 383.46,156.85 384.69,156.89 385.94,156.93 387.19,156.96 388.45,156.99 389.72,157.01 391.01,157.03 392.30,157.04 393.60,157.05 394.91,157.06 396.23,157.06 397.56,157.06 398.89,157.06 400.24,157.06 401.60,157.05 402.96,157.04 404.34,157.04 405.72,157.03 407.12,157.02 408.52,157.01 409.93,157.00 411.35,156.99 412.78,156.99 414.22,156.99 415.67,156.98 417.13,156.98 418.60,156.98 420.08,156.98 421.56,156.98 423.06,156.98 424.56,156.98 426.07,156.98 427.59,156.98 429.13,156.98 430.67,156.98 432.21,156.98 433.77,156.98 435.34,156.98 436.92,156.98 438.50,156.98 440.09,156.98 441.70,156.98 443.31,156.98 444.93,156.98 446.56,156.98 448.20,156.98 449.85,156.98 451.50,156.98 453.17,156.98 454.84,156.98 456.52,156.98 458.22,156.98 459.92,156.98 461.63,156.98 463.34,156.98 465.07,156.98 466.81,156.98 468.55,156.98" fill="none" stroke="#f4a0a6" stroke-width="1.3" stroke-linejoin="round"/>
<polyline clip-path="url(#c1)" points="313.11,127.77 313.13,127.85 313.17,128.05 313.23,128.33 313.31,128.70 313.41,129.15 313.53,129.66 313.67,130.23 313.82,130.85 313.98,131.51 314.17,132.21 314.37,132.94 314.58,133.69 314.81,134.46 315.05,135.24 315.30,136.02 315.57,136.80 315.86,137.58 316.16,138.35 316.47,139.11 316.79,139.85 317.13,140.58 317.48,141.28 317.84,141.97 318.22,142.63 318.61,143.26 319.01,143.87 319.43,144.45 319.86,145.01 320.30,145.54 320.75,146.05 321.21,146.52 321.69,146.98 322.18,147.41 322.68,147.82 323.19,148.20 323.71,148.57 324.25,148.91 324.80,149.24 325.36,149.54 325.93,149.83 326.51,150.10 327.11,150.36 327.71,150.61 328.33,150.84 328.96,151.06 329.60,151.26 330.25,151.46 330.91,151.65 331.58,151.83 332.27,151.99 332.96,152.16 333.67,152.31 334.38,152.45 335.11,152.59 335.85,152.73 336.60,152.85 337.36,152.98 338.13,153.09 338.91,153.20 339.71,153.31 340.51,153.41 341.32,153.51 342.15,153.60 342.98,153.69 343.83,153.78 344.68,153.86 345.55,153.94 346.43,154.01 347.31,154.08 348.21,154.15 349.12,154.22 350.04,154.28 350.97,154.34 351.90,154.40 352.85,154.45 353.81,154.50 354.78,154.55 355.76,154.60 356.75,154.65 357.75,154.69 358.76,154.73 359.78,154.78 360.81,154.81 361.85,154.85 362.90,154.89 363.95,154.92 365.02,154.96 366.10,155.00 367.19,155.03 368.29,155.06 369.40,155.10 370.52,155.13 371.65,155.16 372.78,155.19 373.93,155.22 375.09,155.25 376.25,155.28 377.43,155.30 378.62,155.32 379.81,155.34 381.02,155.36 382.23,155.38 383.46,155.39 384.69,155.41 385.94,155.41 387.19,155.42 388.45,155.42 389.72,155.42 391.01,155.41 392.30,155.40 393.60,155.38 394.91,155.36 396.23,155.34 397.56,155.31 398.89,155.28 400.24,155.26 401.60,155.23 402.96,155.20 404.34,155.17 405.72,155.14 407.12,155.11 408.52,155.09 409.93,155.07 411.35,155.05 412.78,155.04 414.22,155.03 415.67,155.03 417.13,155.03 418.60,155.04 420.08,155.05 421.56,155.06 423.06,155.08 424.56,155.10 426.07,155.12 427.59,155.15 429.13,155.18 430.67,155.20 432.21,155.23 433.77,155.26 435.34,155.30 436.92,155.33 438.50,155.36 440.09,155.39 441.70,155.42 443.31,155.45 444.93,155.48 446.56,155.51 448.20,155.55 449.85,155.58 451.50,155.62 453.17,155.66 454.84,155.69 456.52,155.73 458.22,155.77 459.92,155.81 461.63,155.85 463.34,155.89 465.07,155.93 466.81,155.97 468.55,156.01" fill="none" stroke="#3a36d8" stroke-width="1.3" stroke-linejoin="round"/>
<polyline clip-path="url(#c1)" points="313.11,118.83 313.13,118.93 313.17,119.17 313.23,119.52 313.31,119.98 313.41,120.52 313.53,121.15 313.67,121.85 313.82,122.61 313.98,123.43 314.17,124.29 314.37,125.18 314.58,126.11 314.81,127.05 315.05,128.01 315.30,128.97 315.57,129.93 315.86,130.89 316.16,131.84 316.47,132.78 316.79,133.70 317.13,134.59 317.48,135.46 317.84,136.31 318.22,137.12 318.61,137.91 319.01,138.66 319.43,139.38 319.86,140.07 320.30,140.73 320.75,141.36 321.21,141.96 321.69,142.52 322.18,143.06 322.68,143.57 323.19,144.05 323.71,144.51 324.25,144.94 324.80,145.35 325.36,145.73 325.93,146.10 326.51,146.44 327.11,146.77 327.71,147.08 328.33,147.38 328.96,147.66 329.60,147.93 330.25,148.18 330.91,148.43 331.58,148.66 332.27,148.89 332.96,149.10 333.67,149.31 334.38,149.51 335.11,149.70 335.85,149.89 336.60,150.07 337.36,150.25 338.13,150.42 338.91,150.59 339.71,150.75 340.51,150.90 341.32,151.06 342.15,151.21 342.98,151.35 343.83,151.49 344.68,151.63 345.55,151.77 346.43,151.90 347.31,152.02 348.21,152.15 349.12,152.27 350.04,152.38 350.97,152.50 351.90,152.61 352.85,152.72 353.81,152.82 354.78,152.92 355.76,153.01 356.75,153.10 357.75,153.19 358.76,153.27 359.78,153.35 360.81,153.43 361.85,153.50 362.90,153.56 363.95,153.63 365.02,153.69 366.10,153.75 367.19,153.81 368.29,153.86 369.40,153.91 370.52,153.96 371.65,154.01 372.78,154.05 373.93,154.10 375.09,154.14 376.25,154.17 377.43,154.21 378.62,154.24 379.81,154.28 381.02,154.31 382.23,154.34 383.46,154.36 384.69,154.39 385.94,154.41 387.19,154.43 388.45,154.45 389.72,154.46 391.01,154.47 392.30,154.48 393.60,154.49 394.91,154.50 396.23,154.50 397.56,154.50 398.89,154.50 400.24,154.50 401.60,154.49 402.96,154.49 404.34,154.48 405.72,154.47 407.12,154.47 408.52,154.46 409.93,154.46 411.35,154.45 412.78,154.45 414.22,154.44 415.67,154.44 417.13,154.44 418.60,154.43 420.08,154.43 421.56,154.42 423.06,154.41 424.56,154.40 426.07,154.39 427.59,154.38 429.13,154.38 430.67,154.37 432.21,154.37 433.77,154.37 435.34,154.37 436.92,154.38 438.50,154.40 440.09,154.42 441.70,154.44 443.31,154.47 444.93,154.51 446.56,154.56 448.20,154.61 449.85,154.67 451.50,154.73 453.17,154.79 454.84,154.86 456.52,154.93 458.22,155.00 459.92,155.07 461.63,155.14 463.34,155.22 465.07,155.29 466.81,155.35 468.55,155.42" fill="none" stroke="#e048e0" stroke-width="1.3" stroke-linejoin="round"/>
<polyline clip-path="url(#c1)" points="313.11,102.59 313.13,102.73 313.17,103.07 313.23,103.58 313.31,104.23 313.41,105.02 313.53,105.92 313.67,106.92 313.82,108.02 313.98,109.19 314.17,110.42 314.37,111.71 314.58,113.03 314.81,114.39 315.05,115.77 315.30,117.16 315.57,118.55 315.86,119.93 316.16,121.30 316.47,122.65 316.79,123.98 317.13,125.28 317.48,126.54 317.84,127.76 318.22,128.95 318.61,130.09 319.01,131.19 319.43,132.24 319.86,133.25 320.30,134.22 320.75,135.14 321.21,136.01 321.69,136.85 322.18,137.64 322.68,138.39 323.19,139.10 323.71,139.78 324.25,140.42 324.80,141.02 325.36,141.60 325.93,142.14 326.51,142.66 327.11,143.14 327.71,143.61 328.33,144.05 328.96,144.46 329.60,144.86 330.25,145.24 330.91,145.60 331.58,145.94 332.27,146.26 332.96,146.57 333.67,146.86 334.38,147.15 335.11,147.41 335.85,147.67 336.60,147.91 337.36,148.14 338.13,148.37 338.91,148.58 339.71,148.78 340.51,148.98 341.32,149.16 342.15,149.34 342.98,149.51 343.83,149.67 344.68,149.82 345.55,149.97 346.43,150.11 347.31,150.24 348.21,150.36 349.12,150.48 350.04,150.59 350.97,150.70 351.90,150.80 352.85,150.90 353.81,150.99 354.78,151.07 355.76,151.15 356.75,151.23 357.75,151.30 358.76,151.36 359.78,151.42 360.81,151.48 361.85,151.53 362.90,151.58 363.95,151.63 365.02,151.67 366.10,151.71 367.19,151.75 368.29,151.78 369.40,151.81 370.52,151.84 371.65,151.86 372.78,151.88 373.93,151.90 375.09,151.92 376.25,151.93 377.43,151.94 378.62,151.94 379.81,151.95 381.02,151.95 382.23,151.95 383.46,151.94 384.69,151.94 385.94,151.93 387.19,151.91 388.45,151.90 389.72,151.87 391.01,151.85 392.30,151.81 393.60,151.78 394.91,151.73 396.23,151.69 397.56,151.64 398.89,151.59 400.24,151.54 401.60,151.49 402.96,151.44 404.34,151.39 405.72,151.34 407.12,151.29 408.52,151.25 409.93,151.21 411.35,151.17 412.78,151.15 414.22,151.13 415.67,151.11 417.13,151.11 418.60,151.12 420.08,151.14 421.56,151.16 423.06,151.19 424.56,151.22 426.07,151.26 427.59,151.30 429.13,151.34 430.67,151.38 432.21,151.42 433.77,151.46 435.34,151.48 436.92,151.51 438.50,151.52 440.09,151.52 441.70,151.51 443.31,151.49 444.93,151.46 446.56,151.42 448.20,151.37 449.85,151.31 451.50,151.25 453.17,151.19 454.84,151.12 456.52,151.05 458.22,150.97 459.92,150.90 461.63,150.82 463.34,150.74 465.07,150.67 466.81,150.60 468.55,150.53" fill="none" stroke="#58d058" stroke-width="1.3" stroke-linejoin="round"/>
<polyline clip-path="url(#c1)" points="313.11,91.27 313.13,91.43 313.17,91.84 313.23,92.45 313.31,93.23 313.41,94.17 313.53,95.24 313.67,96.44 313.82,97.75 313.98,99.15 314.17,100.63 314.37,102.17 314.58,103.76 314.81,105.38 315.05,107.03 315.30,108.70 315.57,110.37 315.86,112.03 316.16,113.68 316.47,115.30 316.79,116.90 317.13,118.46 317.48,119.99 317.84,121.46 318.22,122.90 318.61,124.28 319.01,125.61 319.43,126.89 319.86,128.12 320.30,129.29 320.75,130.41 321.21,131.48 321.69,132.50 322.18,133.47 322.68,134.39 323.19,135.26 323.71,136.09 324.25,136.88 324.80,137.63 325.36,138.34 325.93,139.01 326.51,139.65 327.11,140.26 327.71,140.83 328.33,141.38 328.96,141.89 329.60,142.38 330.25,142.85 330.91,143.29 331.58,143.71 332.27,144.11 332.96,144.48 333.67,144.84 334.38,145.18 335.11,145.50 335.85,145.80 336.60,146.08 337.36,146.34 338.13,146.59 338.91,146.82 339.71,147.04 340.51,147.25 341.32,147.44 342.15,147.62 342.98,147.78 343.83,147.94 344.68,148.08 345.55,148.21 346.43,148.33 347.31,148.45 348.21,148.55 349.12,148.65 350.04,148.74 350.97,148.83 351.90,148.91 352.85,148.98 353.81,149.05 354.78,149.12 355.76,149.19 356.75,149.25 357.75,149.32 358.76,149.38 359.78,149.45 360.81,149.52 361.85,149.59 362.90,149.67 363.95,149.75 365.02,149.84 366.10,149.94 367.19,150.03 368.29,150.14 369.40,150.24 370.52,150.35 371.65,150.45 372.78,150.56 373.93,150.67 375.09,150.78 376.25,150.88 377.43,150.98 378.62,151.08 379.81,151.17 381.02,151.25 382.23,151.32 383.46,151.39 384.69,151.44 385.94,151.48 387.19,151.50 388.45,151.51 389.72,151.50 391.01,151.48 392.30,151.44 393.60,151.39 394.91,151.33 396.23,151.26 397.56,151.17 398.89,151.09 400.24,150.99 401.60,150.90 402.96,150.80 404.34,150.70 405.72,150.60 407.12,150.50 408.52,150.42 409.93,150.33 411.35,150.26 412.78,150.20 414.22,150.16 415.67,150.13 417.13,150.11 418.60,150.11 420.08,150.13 421.56,150.15 423.06,150.18 424.56,150.22 426.07,150.26 427.59,150.31 429.13,150.36 430.67,150.40 432.21,150.45 433.77,150.49 435.34,150.52 436.92,150.54 438.50,150.56 440.09,150.55 441.70,150.53 443.31,150.50 444.93,150.45 446.56,150.39 448.20,150.32 449.85,150.25 451.50,150.16 453.17,150.07 454.84,149.98 456.52,149.87 458.22,149.77 459.92,149.67 461.63,149.56 463.34,149.46 465.07,149.35 466.81,149.26 468.55,149.16" fill="none" stroke="#333333" stroke-width="1.3" stroke-linejoin="round"/>
<rect x="294.7" y="34.5" width="187.3" height="149" fill="none" stroke="#333" stroke-width="1.15"/>
<line x1="307.75" y1="183.5" x2="307.75" y2="181" stroke="#222" stroke-width="1.1"/>
<line x1="307.75" y1="34.5" x2="307.75" y2="36.3" stroke="#222" stroke-width="1.1"/>
<text x="307.75" y="195.7" font-size="10.8" text-anchor="middle">0.0</text>
<line x1="334.55" y1="183.5" x2="334.55" y2="181" stroke="#222" stroke-width="1.1"/>
<line x1="334.55" y1="34.5" x2="334.55" y2="36.3" stroke="#222" stroke-width="1.1"/>
<text x="334.55" y="195.7" font-size="10.8" text-anchor="middle">0.5</text>
<line x1="361.35" y1="183.5" x2="361.35" y2="181" stroke="#222" stroke-width="1.1"/>
<line x1="361.35" y1="34.5" x2="361.35" y2="36.3" stroke="#222" stroke-width="1.1"/>
<text x="361.35" y="195.7" font-size="10.8" text-anchor="middle">1.0</text>
<line x1="388.15" y1="183.5" x2="388.15" y2="181" stroke="#222" stroke-width="1.1"/>
<line x1="388.15" y1="34.5" x2="388.15" y2="36.3" stroke="#222" stroke-width="1.1"/>
<text x="388.15" y="195.7" font-size="10.8" text-anchor="middle">1.5</text>
<line x1="414.95" y1="183.5" x2="414.95" y2="181" stroke="#222" stroke-width="1.1"/>
<line x1="414.95" y1="34.5" x2="414.95" y2="36.3" stroke="#222" stroke-width="1.1"/>
<text x="414.95" y="195.7" font-size="10.8" text-anchor="middle">2.0</text>
<line x1="441.75" y1="183.5" x2="441.75" y2="181" stroke="#222" stroke-width="1.1"/>
<line x1="441.75" y1="34.5" x2="441.75" y2="36.3" stroke="#222" stroke-width="1.1"/>
<text x="441.75" y="195.7" font-size="10.8" text-anchor="middle">2.5</text>
<line x1="468.55" y1="183.5" x2="468.55" y2="181" stroke="#222" stroke-width="1.1"/>
<line x1="468.55" y1="34.5" x2="468.55" y2="36.3" stroke="#222" stroke-width="1.1"/>
<text x="468.55" y="195.7" font-size="10.8" text-anchor="middle">3.0</text>
<line x1="294.7" y1="183.5" x2="297.2" y2="183.5" stroke="#222" stroke-width="1.1"/>
<text x="291.5" y="187.4" font-size="10.8" text-anchor="end">0.0</text>
<line x1="294.7" y1="153.7" x2="297.2" y2="153.7" stroke="#222" stroke-width="1.1"/>
<text x="291.5" y="157.6" font-size="10.8" text-anchor="end">0.2</text>
<line x1="294.7" y1="123.9" x2="297.2" y2="123.9" stroke="#222" stroke-width="1.1"/>
<text x="291.5" y="127.8" font-size="10.8" text-anchor="end">0.4</text>
<line x1="294.7" y1="94.1" x2="297.2" y2="94.1" stroke="#222" stroke-width="1.1"/>
<text x="291.5" y="98" font-size="10.8" text-anchor="end">0.6</text>
<line x1="294.7" y1="64.3" x2="297.2" y2="64.3" stroke="#222" stroke-width="1.1"/>
<text x="291.5" y="68.2" font-size="10.8" text-anchor="end">0.8</text>
<line x1="294.7" y1="34.5" x2="297.2" y2="34.5" stroke="#222" stroke-width="1.1"/>
<text x="291.5" y="38.4" font-size="10.8" text-anchor="end">1.0</text>
<text x="388.35" y="205.3" font-size="10.6" text-anchor="middle"><tspan font-style="italic">T</tspan>(s)</text>
<text x="0" y="0" font-size="11.2" text-anchor="middle" transform="translate(272.5 108.4) rotate(-90)"><tspan font-style="italic">C</tspan><tspan font-size="7.5" dy="2.5">r</tspan><tspan dy="-2.5"> , mean values</tspan></text>
<line x1="539.45" y1="38.2" x2="539.45" y2="183.5" stroke="#9a9a9a" stroke-width="1.05" stroke-dasharray="2.3 2.63"/>
<line x1="566.25" y1="38.2" x2="566.25" y2="183.5" stroke="#9a9a9a" stroke-width="1.05" stroke-dasharray="2.3 2.63"/>
<line x1="593.05" y1="38.2" x2="593.05" y2="183.5" stroke="#9a9a9a" stroke-width="1.05" stroke-dasharray="2.3 2.63"/>
<line x1="619.85" y1="38.2" x2="619.85" y2="183.5" stroke="#9a9a9a" stroke-width="1.05" stroke-dasharray="2.3 2.63"/>
<line x1="646.65" y1="38.2" x2="646.65" y2="183.5" stroke="#9a9a9a" stroke-width="1.05" stroke-dasharray="2.3 2.63"/>
<line x1="673.45" y1="38.2" x2="673.45" y2="183.5" stroke="#9a9a9a" stroke-width="1.05" stroke-dasharray="2.3 2.63"/>
<line x1="700.25" y1="38.2" x2="700.25" y2="183.5" stroke="#9a9a9a" stroke-width="1.05" stroke-dasharray="2.3 2.63"/>
<line x1="531.3" y1="153.7" x2="711.7" y2="153.7" stroke="#a6a6a6" stroke-width="1.1" stroke-dasharray="2.1 2.83"/>
<line x1="531.3" y1="123.9" x2="711.7" y2="123.9" stroke="#a6a6a6" stroke-width="1.1" stroke-dasharray="2.1 2.83"/>
<line x1="531.3" y1="94.1" x2="711.7" y2="94.1" stroke="#a6a6a6" stroke-width="1.1" stroke-dasharray="2.1 2.83"/>
<line x1="531.3" y1="64.3" x2="711.7" y2="64.3" stroke="#a6a6a6" stroke-width="1.1" stroke-dasharray="2.1 2.83"/>
<polyline clip-path="url(#c2)" points="544.81,165.47 544.83,165.48 544.87,165.51 544.93,165.55 545.01,165.60 545.11,165.66 545.23,165.73 545.37,165.81 545.52,165.89 545.68,165.99 545.87,166.08 546.07,166.18 546.28,166.28 546.51,166.39 546.75,166.50 547.00,166.60 547.27,166.71 547.56,166.82 547.86,166.92 548.17,167.03 548.49,167.13 548.83,167.23 549.18,167.32 549.54,167.41 549.92,167.50 550.31,167.59 550.71,167.67 551.13,167.75 551.56,167.83 552.00,167.90 552.45,167.97 552.91,168.03 553.39,168.09 553.88,168.15 554.38,168.20 554.89,168.25 555.41,168.30 555.95,168.35 556.50,168.39 557.06,168.43 557.63,168.46 558.21,168.50 558.81,168.53 559.41,168.56 560.03,168.58 560.66,168.61 561.30,168.63 561.95,168.65 562.61,168.67 563.28,168.68 563.97,168.69 564.66,168.70 565.37,168.71 566.08,168.72 566.81,168.72 567.55,168.72 568.30,168.72 569.06,168.72 569.83,168.71 570.61,168.70 571.41,168.70 572.21,168.69 573.02,168.67 573.85,168.66 574.68,168.65 575.53,168.63 576.38,168.61 577.25,168.59 578.13,168.57 579.01,168.55 579.91,168.53 580.82,168.50 581.74,168.48 582.67,168.45 583.60,168.42 584.55,168.40 585.51,168.37 586.48,168.34 587.46,168.31 588.45,168.28 589.45,168.24 590.46,168.21 591.48,168.18 592.51,168.15 593.55,168.11 594.60,168.08 595.65,168.04 596.72,168.01 597.80,167.97 598.89,167.93 599.99,167.88 601.10,167.84 602.22,167.79 603.35,167.75 604.48,167.70 605.63,167.66 606.79,167.61 607.95,167.56 609.13,167.52 610.32,167.47 611.51,167.42 612.72,167.38 613.93,167.34 615.16,167.29 616.39,167.25 617.64,167.21 618.89,167.18 620.15,167.15 621.42,167.11 622.71,167.08 624.00,167.06 625.30,167.03 626.61,167.00 627.93,166.98 629.26,166.96 630.59,166.93 631.94,166.91 633.30,166.89 634.66,166.88 636.04,166.86 637.42,166.84 638.82,166.83 640.22,166.82 641.63,166.80 643.05,166.79 644.48,166.78 645.92,166.77 647.37,166.76 648.83,166.74 650.30,166.73 651.78,166.72 653.26,166.70 654.76,166.69 656.26,166.68 657.77,166.66 659.29,166.66 660.83,166.65 662.37,166.64 663.91,166.64 665.47,166.65 667.04,166.66 668.62,166.67 670.20,166.70 671.79,166.72 673.40,166.76 675.01,166.81 676.63,166.86 678.26,166.92 679.90,167.00 681.55,167.07 683.20,167.16 684.87,167.25 686.54,167.34 688.22,167.44 689.92,167.54 691.62,167.64 693.33,167.74 695.04,167.84 696.77,167.94 698.51,168.04 700.25,168.13" fill="none" stroke="#d63a3a" stroke-width="1.3" stroke-linejoin="round"/>
<polyline clip-path="url(#c2)" points="544.81,154.89 544.83,154.92 544.87,154.98 544.93,155.06 545.01,155.18 545.11,155.32 545.23,155.48 545.37,155.65 545.52,155.84 545.68,156.05 545.87,156.26 546.07,156.48 546.28,156.72 546.51,156.95 546.75,157.19 547.00,157.43 547.27,157.67 547.56,157.90 547.86,158.14 548.17,158.37 548.49,158.59 548.83,158.81 549.18,159.03 549.54,159.23 549.92,159.43 550.31,159.62 550.71,159.80 551.13,159.97 551.56,160.13 552.00,160.29 552.45,160.44 552.91,160.58 553.39,160.71 553.88,160.83 554.38,160.95 554.89,161.06 555.41,161.16 555.95,161.26 556.50,161.35 557.06,161.44 557.63,161.52 558.21,161.60 558.81,161.67 559.41,161.73 560.03,161.80 560.66,161.86 561.30,161.92 561.95,161.97 562.61,162.02 563.28,162.07 563.97,162.12 564.66,162.17 565.37,162.21 566.08,162.25 566.81,162.30 567.55,162.34 568.30,162.38 569.06,162.43 569.83,162.47 570.61,162.52 571.41,162.56 572.21,162.61 573.02,162.65 573.85,162.69 574.68,162.74 575.53,162.78 576.38,162.83 577.25,162.87 578.13,162.91 579.01,162.96 579.91,163.00 580.82,163.04 581.74,163.07 582.67,163.11 583.60,163.14 584.55,163.17 585.51,163.19 586.48,163.22 587.46,163.24 588.45,163.25 589.45,163.26 590.46,163.26 591.48,163.26 592.51,163.25 593.55,163.23 594.60,163.21 595.65,163.18 596.72,163.14 597.80,163.09 598.89,163.04 599.99,162.98 601.10,162.92 602.22,162.85 603.35,162.77 604.48,162.69 605.63,162.61 606.79,162.53 607.95,162.45 609.13,162.36 610.32,162.27 611.51,162.18 612.72,162.10 613.93,162.02 615.16,161.94 616.39,161.86 617.64,161.79 618.89,161.72 620.15,161.66 621.42,161.61 622.71,161.55 624.00,161.50 625.30,161.45 626.61,161.39 627.93,161.34 629.26,161.30 630.59,161.25 631.94,161.20 633.30,161.16 634.66,161.12 636.04,161.08 637.42,161.05 638.82,161.01 640.22,160.98 641.63,160.96 643.05,160.94 644.48,160.92 645.92,160.90 647.37,160.89 648.83,160.88 650.30,160.88 651.78,160.88 653.26,160.88 654.76,160.89 656.26,160.90 657.77,160.91 659.29,160.93 660.83,160.96 662.37,160.98 663.91,161.01 665.47,161.05 667.04,161.09 668.62,161.13 670.20,161.18 671.79,161.23 673.40,161.28 675.01,161.35 676.63,161.42 678.26,161.50 679.90,161.58 681.55,161.67 683.20,161.77 684.87,161.87 686.54,161.98 688.22,162.08 689.92,162.19 691.62,162.31 693.33,162.42 695.04,162.53 696.77,162.64 698.51,162.75 700.25,162.85" fill="none" stroke="#2f8fe0" stroke-width="1.3" stroke-linejoin="round"/>
<polyline clip-path="url(#c2)" points="544.81,145.80 544.83,145.84 544.87,145.94 544.93,146.09 545.01,146.29 545.11,146.52 545.23,146.78 545.37,147.08 545.52,147.40 545.68,147.75 545.87,148.11 546.07,148.49 546.28,148.88 546.51,149.27 546.75,149.68 547.00,150.08 547.27,150.48 547.56,150.89 547.86,151.28 548.17,151.67 548.49,152.06 548.83,152.43 549.18,152.79 549.54,153.14 549.92,153.48 550.31,153.80 550.71,154.11 551.13,154.41 551.56,154.69 552.00,154.96 552.45,155.21 552.91,155.45 553.39,155.68 553.88,155.90 554.38,156.10 554.89,156.29 555.41,156.47 555.95,156.64 556.50,156.80 557.06,156.95 557.63,157.09 558.21,157.23 558.81,157.35 559.41,157.47 560.03,157.58 560.66,157.68 561.30,157.78 561.95,157.88 562.61,157.96 563.28,158.05 563.97,158.13 564.66,158.20 565.37,158.27 566.08,158.34 566.81,158.40 567.55,158.46 568.30,158.52 569.06,158.57 569.83,158.63 570.61,158.68 571.41,158.72 572.21,158.77 573.02,158.81 573.85,158.85 574.68,158.89 575.53,158.93 576.38,158.96 577.25,159.00 578.13,159.03 579.01,159.06 579.91,159.08 580.82,159.11 581.74,159.14 582.67,159.16 583.60,159.18 584.55,159.20 585.51,159.22 586.48,159.24 587.46,159.26 588.45,159.27 589.45,159.29 590.46,159.30 591.48,159.31 592.51,159.33 593.55,159.34 594.60,159.34 595.65,159.35 596.72,159.36 597.80,159.37 598.89,159.37 599.99,159.38 601.10,159.38 602.22,159.39 603.35,159.39 604.48,159.39 605.63,159.39 606.79,159.39 607.95,159.39 609.13,159.39 610.32,159.38 611.51,159.38 612.72,159.38 613.93,159.37 615.16,159.36 616.39,159.36 617.64,159.35 618.89,159.34 620.15,159.33 621.42,159.32 622.71,159.30 624.00,159.28 625.30,159.27 626.61,159.25 627.93,159.22 629.26,159.20 630.59,159.18 631.94,159.15 633.30,159.13 634.66,159.11 636.04,159.08 637.42,159.06 638.82,159.04 640.22,159.01 641.63,158.99 643.05,158.98 644.48,158.96 645.92,158.95 647.37,158.93 648.83,158.93 650.30,158.92 651.78,158.91 653.26,158.90 654.76,158.90 656.26,158.89 657.77,158.89 659.29,158.89 660.83,158.89 662.37,158.89 663.91,158.89 665.47,158.90 667.04,158.90 668.62,158.91 670.20,158.92 671.79,158.93 673.40,158.94 675.01,158.95 676.63,158.97 678.26,158.99 679.90,159.01 681.55,159.03 683.20,159.05 684.87,159.08 686.54,159.11 688.22,159.13 689.92,159.16 691.62,159.19 693.33,159.22 695.04,159.25 696.77,159.28 698.51,159.31 700.25,159.33" fill="none" stroke="#b8f070" stroke-width="1.3" stroke-linejoin="round"/>
<polyline clip-path="url(#c2)" points="544.81,138.35 544.83,138.41 544.87,138.55 544.93,138.77 545.01,139.04 545.11,139.37 545.23,139.75 545.37,140.17 545.52,140.63 545.68,141.12 545.87,141.63 546.07,142.17 546.28,142.72 546.51,143.29 546.75,143.86 547.00,144.44 547.27,145.02 547.56,145.59 547.86,146.16 548.17,146.72 548.49,147.27 548.83,147.80 549.18,148.32 549.54,148.83 549.92,149.31 550.31,149.78 550.71,150.22 551.13,150.65 551.56,151.06 552.00,151.45 552.45,151.82 552.91,152.17 553.39,152.51 553.88,152.82 554.38,153.12 554.89,153.40 555.41,153.67 555.95,153.92 556.50,154.15 557.06,154.38 557.63,154.58 558.21,154.78 558.81,154.97 559.41,155.14 560.03,155.30 560.66,155.46 561.30,155.60 561.95,155.74 562.61,155.86 563.28,155.98 563.97,156.09 564.66,156.19 565.37,156.29 566.08,156.38 566.81,156.46 567.55,156.53 568.30,156.60 569.06,156.66 569.83,156.72 570.61,156.77 571.41,156.81 572.21,156.85 573.02,156.89 573.85,156.92 574.68,156.94 575.53,156.96 576.38,156.98 577.25,156.99 578.13,157.00 579.01,157.01 579.91,157.01 580.82,157.02 581.74,157.02 582.67,157.01 583.60,157.01 584.55,157.01 585.51,157.00 586.48,157.00 587.46,156.99 588.45,156.99 589.45,156.98 590.46,156.98 591.48,156.98 592.51,156.98 593.55,156.99 594.60,156.99 595.65,157.00 596.72,157.02 597.80,157.03 598.89,157.04 599.99,157.06 601.10,157.08 602.22,157.10 603.35,157.12 604.48,157.14 605.63,157.16 606.79,157.18 607.95,157.21 609.13,157.23 610.32,157.25 611.51,157.27 612.72,157.29 613.93,157.31 615.16,157.33 616.39,157.35 617.64,157.36 618.89,157.37 620.15,157.38 621.42,157.38 622.71,157.39 624.00,157.39 625.30,157.39 626.61,157.40 627.93,157.40 629.26,157.40 630.59,157.40 631.94,157.40 633.30,157.39 634.66,157.39 636.04,157.39 637.42,157.39 638.82,157.39 640.22,157.38 641.63,157.38 643.05,157.38 644.48,157.38 645.92,157.38 647.37,157.38 648.83,157.38 650.30,157.37 651.78,157.37 653.26,157.37 654.76,157.37 656.26,157.37 657.77,157.37 659.29,157.37 660.83,157.37 662.37,157.37 663.91,157.38 665.47,157.38 667.04,157.38 668.62,157.38 670.20,157.38 671.79,157.38 673.40,157.38 675.01,157.38 676.63,157.38 678.26,157.38 679.90,157.38 681.55,157.38 683.20,157.38 684.87,157.38 686.54,157.38 688.22,157.38 689.92,157.38 691.62,157.38 693.33,157.38 695.04,157.38 696.77,157.38 698.51,157.38 700.25,157.38" fill="none" stroke="#f4a0a6" stroke-width="1.3" stroke-linejoin="round"/>
<polyline clip-path="url(#c2)" points="544.81,130.31 544.83,130.38 544.87,130.57 544.93,130.85 545.01,131.22 545.11,131.65 545.23,132.15 545.37,132.71 545.52,133.31 545.68,133.96 545.87,134.64 546.07,135.35 546.28,136.09 546.51,136.84 546.75,137.60 547.00,138.36 547.27,139.13 547.56,139.89 547.86,140.64 548.17,141.39 548.49,142.11 548.83,142.82 549.18,143.51 549.54,144.18 549.92,144.83 550.31,145.45 550.71,146.05 551.13,146.62 551.56,147.17 552.00,147.69 552.45,148.18 552.91,148.66 553.39,149.10 553.88,149.53 554.38,149.93 554.89,150.31 555.41,150.66 555.95,151.00 556.50,151.32 557.06,151.62 557.63,151.91 558.21,152.18 558.81,152.43 559.41,152.67 560.03,152.89 560.66,153.10 561.30,153.30 561.95,153.49 562.61,153.67 563.28,153.84 563.97,154.00 564.66,154.14 565.37,154.28 566.08,154.41 566.81,154.54 567.55,154.65 568.30,154.76 569.06,154.86 569.83,154.95 570.61,155.03 571.41,155.11 572.21,155.19 573.02,155.26 573.85,155.32 574.68,155.38 575.53,155.43 576.38,155.48 577.25,155.52 578.13,155.56 579.01,155.59 579.91,155.62 580.82,155.65 581.74,155.68 582.67,155.70 583.60,155.72 584.55,155.73 585.51,155.75 586.48,155.76 587.46,155.77 588.45,155.78 589.45,155.79 590.46,155.79 591.48,155.80 592.51,155.81 593.55,155.81 594.60,155.82 595.65,155.83 596.72,155.83 597.80,155.84 598.89,155.85 599.99,155.85 601.10,155.85 602.22,155.86 603.35,155.86 604.48,155.86 605.63,155.86 606.79,155.87 607.95,155.87 609.13,155.87 610.32,155.86 611.51,155.86 612.72,155.86 613.93,155.85 615.16,155.85 616.39,155.84 617.64,155.83 618.89,155.82 620.15,155.81 621.42,155.79 622.71,155.77 624.00,155.75 625.30,155.73 626.61,155.71 627.93,155.68 629.26,155.65 630.59,155.62 631.94,155.60 633.30,155.57 634.66,155.54 636.04,155.52 637.42,155.49 638.82,155.47 640.22,155.45 641.63,155.44 643.05,155.43 644.48,155.42 645.92,155.42 647.37,155.42 648.83,155.43 650.30,155.45 651.78,155.47 653.26,155.49 654.76,155.52 656.26,155.55 657.77,155.58 659.29,155.62 660.83,155.66 662.37,155.70 663.91,155.74 665.47,155.79 667.04,155.83 668.62,155.88 670.20,155.92 671.79,155.96 673.40,156.01 675.01,156.05 676.63,156.09 678.26,156.14 679.90,156.18 681.55,156.23 683.20,156.28 684.87,156.33 686.54,156.38 688.22,156.43 689.92,156.48 691.62,156.53 693.33,156.58 695.04,156.63 696.77,156.69 698.51,156.74 700.25,156.79" fill="none" stroke="#3a36d8" stroke-width="1.3" stroke-linejoin="round"/>
<polyline clip-path="url(#c2)" points="544.81,122.26 544.83,122.35 544.87,122.58 544.93,122.91 545.01,123.35 545.11,123.87 545.23,124.47 545.37,125.13 545.52,125.86 545.68,126.64 545.87,127.45 546.07,128.31 546.28,129.19 546.51,130.08 546.75,131.00 547.00,131.91 547.27,132.83 547.56,133.75 547.86,134.65 548.17,135.55 548.49,136.42 548.83,137.27 549.18,138.10 549.54,138.91 549.92,139.69 550.31,140.44 550.71,141.16 551.13,141.85 551.56,142.51 552.00,143.14 552.45,143.74 552.91,144.31 553.39,144.85 553.88,145.36 554.38,145.85 554.89,146.31 555.41,146.75 555.95,147.16 556.50,147.55 557.06,147.92 557.63,148.27 558.21,148.60 558.81,148.91 559.41,149.21 560.03,149.49 560.66,149.76 561.30,150.01 561.95,150.25 562.61,150.48 563.28,150.70 563.97,150.90 564.66,151.10 565.37,151.29 566.08,151.47 566.81,151.64 567.55,151.81 568.30,151.96 569.06,152.11 569.83,152.26 570.61,152.39 571.41,152.52 572.21,152.65 573.02,152.77 573.85,152.89 574.68,153.00 575.53,153.10 576.38,153.20 577.25,153.30 578.13,153.39 579.01,153.48 579.91,153.57 580.82,153.65 581.74,153.73 582.67,153.80 583.60,153.87 584.55,153.94 585.51,154.01 586.48,154.07 587.46,154.13 588.45,154.19 589.45,154.25 590.46,154.31 591.48,154.36 592.51,154.42 593.55,154.47 594.60,154.52 595.65,154.57 596.72,154.62 597.80,154.68 598.89,154.73 599.99,154.78 601.10,154.83 602.22,154.89 603.35,154.94 604.48,154.99 605.63,155.04 606.79,155.08 607.95,155.13 609.13,155.17 610.32,155.21 611.51,155.25 612.72,155.29 613.93,155.32 615.16,155.35 616.39,155.38 617.64,155.40 618.89,155.41 620.15,155.42 621.42,155.43 622.71,155.43 624.00,155.42 625.30,155.41 626.61,155.39 627.93,155.38 629.26,155.35 630.59,155.33 631.94,155.30 633.30,155.27 634.66,155.24 636.04,155.21 637.42,155.18 638.82,155.15 640.22,155.12 641.63,155.10 643.05,155.07 644.48,155.05 645.92,155.04 647.37,155.02 648.83,155.01 650.30,155.00 651.78,155.00 653.26,154.99 654.76,154.99 656.26,154.98 657.77,154.98 659.29,154.98 660.83,154.98 662.37,154.98 663.91,154.98 665.47,154.99 667.04,154.99 668.62,155.00 670.20,155.01 671.79,155.02 673.40,155.03 675.01,155.04 676.63,155.06 678.26,155.08 679.90,155.10 681.55,155.12 683.20,155.14 684.87,155.17 686.54,155.20 688.22,155.22 689.92,155.25 691.62,155.28 693.33,155.31 695.04,155.34 696.77,155.37 698.51,155.39 700.25,155.42" fill="none" stroke="#e048e0" stroke-width="1.3" stroke-linejoin="round"/>
<polyline clip-path="url(#c2)" points="544.81,106.47 544.83,106.60 544.87,106.92 544.93,107.40 545.01,108.01 545.11,108.76 545.23,109.61 545.37,110.55 545.52,111.59 545.68,112.69 545.87,113.86 546.07,115.07 546.28,116.32 546.51,117.61 546.75,118.91 547.00,120.22 547.27,121.53 547.56,122.84 547.86,124.13 548.17,125.41 548.49,126.66 548.83,127.89 549.18,129.08 549.54,130.24 549.92,131.36 550.31,132.44 550.71,133.48 551.13,134.47 551.56,135.43 552.00,136.34 552.45,137.21 552.91,138.04 553.39,138.83 553.88,139.58 554.38,140.29 554.89,140.96 555.41,141.60 555.95,142.21 556.50,142.78 557.06,143.33 557.63,143.84 558.21,144.33 558.81,144.79 559.41,145.23 560.03,145.64 560.66,146.03 561.30,146.41 561.95,146.76 562.61,147.09 563.28,147.41 563.97,147.71 564.66,148.00 565.37,148.26 566.08,148.52 566.81,148.76 567.55,148.99 568.30,149.20 569.06,149.41 569.83,149.60 570.61,149.78 571.41,149.95 572.21,150.11 573.02,150.26 573.85,150.40 574.68,150.53 575.53,150.65 576.38,150.77 577.25,150.88 578.13,150.98 579.01,151.07 579.91,151.16 580.82,151.24 581.74,151.31 582.67,151.38 583.60,151.45 584.55,151.51 585.51,151.56 586.48,151.62 587.46,151.67 588.45,151.71 589.45,151.76 590.46,151.80 591.48,151.84 592.51,151.88 593.55,151.92 594.60,151.96 595.65,152.00 596.72,152.04 597.80,152.08 598.89,152.12 599.99,152.16 601.10,152.19 602.22,152.23 603.35,152.27 604.48,152.30 605.63,152.33 606.79,152.37 607.95,152.40 609.13,152.42 610.32,152.45 611.51,152.47 612.72,152.48 613.93,152.50 615.16,152.51 616.39,152.51 617.64,152.51 618.89,152.50 620.15,152.48 621.42,152.46 622.71,152.43 624.00,152.39 625.30,152.34 626.61,152.28 627.93,152.22 629.26,152.16 630.59,152.09 631.94,152.02 633.30,151.95 634.66,151.88 636.04,151.82 637.42,151.75 638.82,151.69 640.22,151.64 641.63,151.59 643.05,151.55 644.48,151.53 645.92,151.51 647.37,151.51 648.83,151.53 650.30,151.56 651.78,151.60 653.26,151.65 654.76,151.72 656.26,151.79 657.77,151.87 659.29,151.95 660.83,152.04 662.37,152.12 663.91,152.20 665.47,152.28 667.04,152.35 668.62,152.40 670.20,152.45 671.79,152.48 673.40,152.49 675.01,152.48 676.63,152.46 678.26,152.43 679.90,152.39 681.55,152.34 683.20,152.27 684.87,152.21 686.54,152.13 688.22,152.06 689.92,151.98 691.62,151.89 693.33,151.81 695.04,151.73 696.77,151.65 698.51,151.58 700.25,151.51" fill="none" stroke="#58d058" stroke-width="1.3" stroke-linejoin="round"/>
<polyline clip-path="url(#c2)" points="544.81,94.25 544.83,94.41 544.87,94.80 544.93,95.39 545.01,96.15 545.11,97.06 545.23,98.10 545.37,99.27 545.52,100.54 545.68,101.90 545.87,103.33 546.07,104.82 546.28,106.36 546.51,107.94 546.75,109.55 547.00,111.16 547.27,112.78 547.56,114.39 547.86,115.99 548.17,117.57 548.49,119.12 548.83,120.63 549.18,122.11 549.54,123.55 549.92,124.94 550.31,126.28 550.71,127.57 551.13,128.81 551.56,130.00 552.00,131.14 552.45,132.23 552.91,133.27 553.39,134.26 553.88,135.20 554.38,136.09 554.89,136.94 555.41,137.75 555.95,138.52 556.50,139.24 557.06,139.93 557.63,140.58 558.21,141.20 558.81,141.79 559.41,142.35 560.03,142.88 560.66,143.38 561.30,143.85 561.95,144.30 562.61,144.73 563.28,145.14 563.97,145.52 564.66,145.88 565.37,146.23 566.08,146.55 566.81,146.85 567.55,147.14 568.30,147.41 569.06,147.66 569.83,147.90 570.61,148.12 571.41,148.33 572.21,148.53 573.02,148.71 573.85,148.88 574.68,149.03 575.53,149.18 576.38,149.31 577.25,149.43 578.13,149.55 579.01,149.65 579.91,149.75 580.82,149.83 581.74,149.91 582.67,149.99 583.60,150.05 584.55,150.12 585.51,150.17 586.48,150.23 587.46,150.28 588.45,150.32 589.45,150.37 590.46,150.42 591.48,150.46 592.51,150.51 593.55,150.55 594.60,150.60 595.65,150.66 596.72,150.71 597.80,150.76 598.89,150.82 599.99,150.87 601.10,150.93 602.22,150.99 603.35,151.04 604.48,151.10 605.63,151.15 606.79,151.20 607.95,151.26 609.13,151.30 610.32,151.35 611.51,151.39 612.72,151.43 613.93,151.46 615.16,151.48 616.39,151.50 617.64,151.51 618.89,151.51 620.15,151.51 621.42,151.49 622.71,151.47 624.00,151.43 625.30,151.39 626.61,151.35 627.93,151.30 629.26,151.24 630.59,151.18 631.94,151.12 633.30,151.06 634.66,150.99 636.04,150.93 637.42,150.86 638.82,150.80 640.22,150.74 641.63,150.68 643.05,150.63 644.48,150.58 645.92,150.55 647.37,150.52 648.83,150.50 650.30,150.49 651.78,150.48 653.26,150.48 654.76,150.49 656.26,150.49 657.77,150.51 659.29,150.52 660.83,150.53 662.37,150.55 663.91,150.56 665.47,150.57 667.04,150.58 668.62,150.58 670.20,150.57 671.79,150.56 673.40,150.53 675.01,150.50 676.63,150.46 678.26,150.41 679.90,150.36 681.55,150.31 683.20,150.25 684.87,150.18 686.54,150.12 688.22,150.05 689.92,149.98 691.62,149.90 693.33,149.83 695.04,149.76 696.77,149.69 698.51,149.62 700.25,149.55" fill="none" stroke="#333333" stroke-width="1.3" stroke-linejoin="round"/>
<rect x="526.4" y="34.5" width="187.3" height="149" fill="none" stroke="#333" stroke-width="1.15"/>
<line x1="539.45" y1="183.5" x2="539.45" y2="181" stroke="#222" stroke-width="1.1"/>
<line x1="539.45" y1="34.5" x2="539.45" y2="36.3" stroke="#222" stroke-width="1.1"/>
<text x="539.45" y="195.7" font-size="10.8" text-anchor="middle">0.0</text>
<line x1="566.25" y1="183.5" x2="566.25" y2="181" stroke="#222" stroke-width="1.1"/>
<line x1="566.25" y1="34.5" x2="566.25" y2="36.3" stroke="#222" stroke-width="1.1"/>
<text x="566.25" y="195.7" font-size="10.8" text-anchor="middle">0.5</text>
<line x1="593.05" y1="183.5" x2="593.05" y2="181" stroke="#222" stroke-width="1.1"/>
<line x1="593.05" y1="34.5" x2="593.05" y2="36.3" stroke="#222" stroke-width="1.1"/>
<text x="593.05" y="195.7" font-size="10.8" text-anchor="middle">1.0</text>
<line x1="619.85" y1="183.5" x2="619.85" y2="181" stroke="#222" stroke-width="1.1"/>
<line x1="619.85" y1="34.5" x2="619.85" y2="36.3" stroke="#222" stroke-width="1.1"/>
<text x="619.85" y="195.7" font-size="10.8" text-anchor="middle">1.5</text>
<line x1="646.65" y1="183.5" x2="646.65" y2="181" stroke="#222" stroke-width="1.1"/>
<line x1="646.65" y1="34.5" x2="646.65" y2="36.3" stroke="#222" stroke-width="1.1"/>
<text x="646.65" y="195.7" font-size="10.8" text-anchor="middle">2.0</text>
<line x1="673.45" y1="183.5" x2="673.45" y2="181" stroke="#222" stroke-width="1.1"/>
<line x1="673.45" y1="34.5" x2="673.45" y2="36.3" stroke="#222" stroke-width="1.1"/>
<text x="673.45" y="195.7" font-size="10.8" text-anchor="middle">2.5</text>
<line x1="700.25" y1="183.5" x2="700.25" y2="181" stroke="#222" stroke-width="1.1"/>
<line x1="700.25" y1="34.5" x2="700.25" y2="36.3" stroke="#222" stroke-width="1.1"/>
<text x="700.25" y="195.7" font-size="10.8" text-anchor="middle">3.0</text>
<line x1="526.4" y1="183.5" x2="528.9" y2="183.5" stroke="#222" stroke-width="1.1"/>
<text x="523.2" y="187.4" font-size="10.8" text-anchor="end">0.0</text>
<line x1="526.4" y1="153.7" x2="528.9" y2="153.7" stroke="#222" stroke-width="1.1"/>
<text x="523.2" y="157.6" font-size="10.8" text-anchor="end">0.2</text>
<line x1="526.4" y1="123.9" x2="528.9" y2="123.9" stroke="#222" stroke-width="1.1"/>
<text x="523.2" y="127.8" font-size="10.8" text-anchor="end">0.4</text>
<line x1="526.4" y1="94.1" x2="528.9" y2="94.1" stroke="#222" stroke-width="1.1"/>
<text x="523.2" y="98" font-size="10.8" text-anchor="end">0.6</text>
<line x1="526.4" y1="64.3" x2="528.9" y2="64.3" stroke="#222" stroke-width="1.1"/>
<text x="523.2" y="68.2" font-size="10.8" text-anchor="end">0.8</text>
<line x1="526.4" y1="34.5" x2="528.9" y2="34.5" stroke="#222" stroke-width="1.1"/>
<text x="523.2" y="38.4" font-size="10.8" text-anchor="end">1.0</text>
<text x="620.05" y="205.3" font-size="10.6" text-anchor="middle"><tspan font-style="italic">T</tspan>(s)</text>
<text x="0" y="0" font-size="11.2" text-anchor="middle" transform="translate(504.2 108.4) rotate(-90)"><tspan font-style="italic">C</tspan><tspan font-size="7.5" dy="2.5">r</tspan><tspan dy="-2.5"> , mean values</tspan></text>
<line x1="76.45" y1="230" x2="76.45" y2="375.3" stroke="#9a9a9a" stroke-width="1.05" stroke-dasharray="2.3 2.63"/>
<line x1="103.25" y1="230" x2="103.25" y2="375.3" stroke="#9a9a9a" stroke-width="1.05" stroke-dasharray="2.3 2.63"/>
<line x1="130.05" y1="230" x2="130.05" y2="375.3" stroke="#9a9a9a" stroke-width="1.05" stroke-dasharray="2.3 2.63"/>
<line x1="156.85" y1="230" x2="156.85" y2="375.3" stroke="#9a9a9a" stroke-width="1.05" stroke-dasharray="2.3 2.63"/>
<line x1="183.65" y1="230" x2="183.65" y2="375.3" stroke="#9a9a9a" stroke-width="1.05" stroke-dasharray="2.3 2.63"/>
<line x1="210.45" y1="230" x2="210.45" y2="375.3" stroke="#9a9a9a" stroke-width="1.05" stroke-dasharray="2.3 2.63"/>
<line x1="237.25" y1="230" x2="237.25" y2="375.3" stroke="#9a9a9a" stroke-width="1.05" stroke-dasharray="2.3 2.63"/>
<line x1="68.3" y1="345.5" x2="248.7" y2="345.5" stroke="#a6a6a6" stroke-width="1.1" stroke-dasharray="2.1 2.83"/>
<line x1="68.3" y1="315.7" x2="248.7" y2="315.7" stroke="#a6a6a6" stroke-width="1.1" stroke-dasharray="2.1 2.83"/>
<line x1="68.3" y1="285.9" x2="248.7" y2="285.9" stroke="#a6a6a6" stroke-width="1.1" stroke-dasharray="2.1 2.83"/>
<line x1="68.3" y1="256.1" x2="248.7" y2="256.1" stroke="#a6a6a6" stroke-width="1.1" stroke-dasharray="2.1 2.83"/>
<polyline clip-path="url(#c3)" points="81.81,348.48 81.83,348.51 81.87,348.57 81.93,348.66 82.01,348.78 82.11,348.93 82.23,349.10 82.37,349.28 82.52,349.48 82.68,349.70 82.87,349.93 83.07,350.16 83.28,350.41 83.51,350.65 83.75,350.91 84.00,351.16 84.27,351.41 84.56,351.66 84.86,351.91 85.17,352.15 85.49,352.39 85.83,352.62 86.18,352.85 86.54,353.06 86.92,353.27 87.31,353.47 87.71,353.66 88.13,353.85 88.56,354.02 89.00,354.19 89.45,354.34 89.91,354.49 90.39,354.63 90.88,354.76 91.38,354.89 91.89,355.00 92.41,355.11 92.95,355.21 93.50,355.31 94.06,355.40 94.63,355.48 95.21,355.56 95.81,355.64 96.41,355.71 97.03,355.77 97.66,355.83 98.30,355.88 98.95,355.94 99.61,355.98 100.28,356.03 100.97,356.07 101.66,356.10 102.37,356.14 103.08,356.17 103.81,356.20 104.55,356.22 105.30,356.24 106.06,356.27 106.83,356.29 107.61,356.30 108.41,356.32 109.21,356.33 110.02,356.35 110.85,356.36 111.68,356.37 112.53,356.37 113.38,356.38 114.25,356.38 115.13,356.39 116.01,356.39 116.91,356.39 117.82,356.38 118.74,356.38 119.67,356.37 120.60,356.36 121.55,356.35 122.51,356.34 123.48,356.33 124.46,356.31 125.45,356.29 126.45,356.27 127.46,356.25 128.48,356.22 129.51,356.19 130.55,356.16 131.60,356.12 132.65,356.08 133.72,356.03 134.80,355.98 135.89,355.93 136.99,355.87 138.10,355.80 139.22,355.74 140.35,355.67 141.48,355.60 142.63,355.53 143.79,355.45 144.95,355.38 146.13,355.31 147.32,355.24 148.51,355.17 149.72,355.10 150.93,355.04 152.16,354.98 153.39,354.93 154.64,354.88 155.89,354.83 157.15,354.80 158.42,354.77 159.71,354.75 161.00,354.73 162.30,354.72 163.61,354.71 164.93,354.71 166.26,354.71 167.59,354.71 168.94,354.72 170.30,354.73 171.66,354.74 173.04,354.75 174.42,354.77 175.82,354.78 177.22,354.79 178.63,354.80 180.05,354.81 181.48,354.81 182.92,354.81 184.37,354.80 185.83,354.79 187.30,354.78 188.78,354.76 190.26,354.74 191.76,354.72 193.26,354.70 194.77,354.68 196.29,354.66 197.83,354.64 199.37,354.62 200.91,354.60 202.47,354.59 204.04,354.58 205.62,354.58 207.20,354.58 208.79,354.59 210.40,354.61 212.01,354.64 213.63,354.67 215.26,354.72 216.90,354.76 218.55,354.82 220.20,354.88 221.87,354.94 223.54,355.01 225.22,355.08 226.92,355.16 228.62,355.23 230.33,355.31 232.04,355.38 233.77,355.45 235.51,355.52 237.25,355.59" fill="none" stroke="#d63a3a" stroke-width="1.3" stroke-linejoin="round"/>
<polyline clip-path="url(#c3)" points="81.81,330.30 81.83,330.36 81.87,330.51 81.93,330.73 82.01,331.01 82.11,331.34 82.23,331.73 82.37,332.16 82.52,332.63 82.68,333.13 82.87,333.66 83.07,334.20 83.28,334.77 83.51,335.35 83.75,335.93 84.00,336.52 84.27,337.10 84.56,337.68 84.86,338.26 85.17,338.82 85.49,339.38 85.83,339.92 86.18,340.44 86.54,340.94 86.92,341.43 87.31,341.89 87.71,342.34 88.13,342.77 88.56,343.17 89.00,343.56 89.45,343.92 89.91,344.27 90.39,344.59 90.88,344.90 91.38,345.19 91.89,345.46 92.41,345.72 92.95,345.96 93.50,346.18 94.06,346.40 94.63,346.59 95.21,346.78 95.81,346.96 96.41,347.12 97.03,347.28 97.66,347.42 98.30,347.56 98.95,347.69 99.61,347.81 100.28,347.93 100.97,348.04 101.66,348.14 102.37,348.24 103.08,348.33 103.81,348.42 104.55,348.50 105.30,348.58 106.06,348.66 106.83,348.73 107.61,348.80 108.41,348.87 109.21,348.93 110.02,348.99 110.85,349.04 111.68,349.10 112.53,349.15 113.38,349.20 114.25,349.24 115.13,349.29 116.01,349.33 116.91,349.37 117.82,349.41 118.74,349.44 119.67,349.48 120.60,349.51 121.55,349.54 122.51,349.57 123.48,349.59 124.46,349.62 125.45,349.64 126.45,349.66 127.46,349.68 128.48,349.70 129.51,349.71 130.55,349.73 131.60,349.74 132.65,349.75 133.72,349.77 134.80,349.78 135.89,349.79 136.99,349.79 138.10,349.80 139.22,349.81 140.35,349.81 141.48,349.82 142.63,349.82 143.79,349.82 144.95,349.82 146.13,349.82 147.32,349.82 148.51,349.81 149.72,349.80 150.93,349.79 152.16,349.78 153.39,349.77 154.64,349.76 155.89,349.74 157.15,349.72 158.42,349.69 159.71,349.66 161.00,349.63 162.30,349.59 163.61,349.55 164.93,349.50 166.26,349.45 167.59,349.40 168.94,349.35 170.30,349.30 171.66,349.25 173.04,349.20 174.42,349.15 175.82,349.10 177.22,349.06 178.63,349.02 180.05,348.99 181.48,348.97 182.92,348.95 184.37,348.94 185.83,348.93 187.30,348.93 188.78,348.94 190.26,348.95 191.76,348.97 193.26,348.99 194.77,349.02 196.29,349.05 197.83,349.08 199.37,349.11 200.91,349.14 202.47,349.18 204.04,349.21 205.62,349.24 207.20,349.28 208.79,349.31 210.40,349.33 212.01,349.35 213.63,349.38 215.26,349.40 216.90,349.43 218.55,349.45 220.20,349.47 221.87,349.50 223.54,349.52 225.22,349.55 226.92,349.57 228.62,349.60 230.33,349.62 232.04,349.65 233.77,349.67 235.51,349.70 237.25,349.72" fill="none" stroke="#2f8fe0" stroke-width="1.3" stroke-linejoin="round"/>
<polyline clip-path="url(#c3)" points="81.81,316.44 81.83,316.53 81.87,316.75 81.93,317.07 82.01,317.49 82.11,317.99 82.23,318.56 82.37,319.20 82.52,319.89 82.68,320.63 82.87,321.41 83.07,322.22 83.28,323.06 83.51,323.92 83.75,324.78 84.00,325.65 84.27,326.52 84.56,327.39 84.86,328.24 85.17,329.08 85.49,329.91 85.83,330.71 86.18,331.49 86.54,332.24 86.92,332.97 87.31,333.66 87.71,334.33 88.13,334.97 88.56,335.58 89.00,336.16 89.45,336.70 89.91,337.22 90.39,337.72 90.88,338.18 91.38,338.62 91.89,339.03 92.41,339.42 92.95,339.79 93.50,340.13 94.06,340.45 94.63,340.76 95.21,341.05 95.81,341.32 96.41,341.57 97.03,341.81 97.66,342.03 98.30,342.25 98.95,342.45 99.61,342.64 100.28,342.81 100.97,342.98 101.66,343.14 102.37,343.29 103.08,343.43 103.81,343.57 104.55,343.69 105.30,343.81 106.06,343.92 106.83,344.03 107.61,344.13 108.41,344.22 109.21,344.31 110.02,344.39 110.85,344.47 111.68,344.54 112.53,344.61 113.38,344.68 114.25,344.74 115.13,344.80 116.01,344.85 116.91,344.90 117.82,344.95 118.74,344.99 119.67,345.04 120.60,345.08 121.55,345.11 122.51,345.15 123.48,345.19 124.46,345.22 125.45,345.26 126.45,345.29 127.46,345.33 128.48,345.36 129.51,345.40 130.55,345.44 131.60,345.48 132.65,345.52 133.72,345.57 134.80,345.62 135.89,345.67 136.99,345.72 138.10,345.78 139.22,345.83 140.35,345.89 141.48,345.94 142.63,346.00 143.79,346.05 144.95,346.10 146.13,346.15 147.32,346.20 148.51,346.25 149.72,346.29 150.93,346.32 152.16,346.35 153.39,346.37 154.64,346.39 155.89,346.40 157.15,346.40 158.42,346.39 159.71,346.37 161.00,346.34 162.30,346.30 163.61,346.25 164.93,346.20 166.26,346.15 167.59,346.09 168.94,346.02 170.30,345.96 171.66,345.89 173.04,345.82 174.42,345.76 175.82,345.69 177.22,345.63 178.63,345.57 180.05,345.52 181.48,345.47 182.92,345.44 184.37,345.41 185.83,345.39 187.30,345.37 188.78,345.36 190.26,345.35 191.76,345.35 193.26,345.35 194.77,345.35 196.29,345.35 197.83,345.36 199.37,345.37 200.91,345.38 202.47,345.39 204.04,345.40 205.62,345.41 207.20,345.41 208.79,345.42 210.40,345.42 212.01,345.42 213.63,345.42 215.26,345.42 216.90,345.42 218.55,345.42 220.20,345.42 221.87,345.42 223.54,345.42 225.22,345.42 226.92,345.42 228.62,345.42 230.33,345.42 232.04,345.42 233.77,345.42 235.51,345.42 237.25,345.42" fill="none" stroke="#b8f070" stroke-width="1.3" stroke-linejoin="round"/>
<polyline clip-path="url(#c3)" points="81.81,298.86 81.83,298.99 81.87,299.30 81.93,299.77 82.01,300.38 82.11,301.10 82.23,301.93 82.37,302.86 82.52,303.87 82.68,304.94 82.87,306.08 83.07,307.26 83.28,308.48 83.51,309.72 83.75,310.98 84.00,312.25 84.27,313.52 84.56,314.78 84.86,316.03 85.17,317.26 85.49,318.46 85.83,319.63 86.18,320.77 86.54,321.87 86.92,322.93 87.31,323.95 87.71,324.93 88.13,325.86 88.56,326.75 89.00,327.60 89.45,328.41 89.91,329.18 90.39,329.90 90.88,330.59 91.38,331.23 91.89,331.85 92.41,332.42 92.95,332.97 93.50,333.48 94.06,333.96 94.63,334.42 95.21,334.85 95.81,335.25 96.41,335.63 97.03,336.00 97.66,336.34 98.30,336.66 98.95,336.97 99.61,337.26 100.28,337.54 100.97,337.80 101.66,338.06 102.37,338.30 103.08,338.53 103.81,338.74 104.55,338.96 105.30,339.16 106.06,339.35 106.83,339.54 107.61,339.72 108.41,339.89 109.21,340.06 110.02,340.22 110.85,340.37 111.68,340.52 112.53,340.67 113.38,340.81 114.25,340.94 115.13,341.07 116.01,341.19 116.91,341.31 117.82,341.42 118.74,341.53 119.67,341.64 120.60,341.74 121.55,341.84 122.51,341.93 123.48,342.02 124.46,342.10 125.45,342.18 126.45,342.26 127.46,342.33 128.48,342.39 129.51,342.46 130.55,342.51 131.60,342.57 132.65,342.62 133.72,342.66 134.80,342.71 135.89,342.75 136.99,342.78 138.10,342.82 139.22,342.85 140.35,342.87 141.48,342.90 142.63,342.92 143.79,342.94 144.95,342.96 146.13,342.98 147.32,342.99 148.51,343.01 149.72,343.02 150.93,343.03 152.16,343.04 153.39,343.05 154.64,343.06 155.89,343.07 157.15,343.08 158.42,343.08 159.71,343.09 161.00,343.09 162.30,343.10 163.61,343.10 164.93,343.10 166.26,343.10 167.59,343.10 168.94,343.10 170.30,343.10 171.66,343.09 173.04,343.09 174.42,343.09 175.82,343.09 177.22,343.08 178.63,343.08 180.05,343.08 181.48,343.08 182.92,343.07 184.37,343.07 185.83,343.08 187.30,343.08 188.78,343.09 190.26,343.10 191.76,343.11 193.26,343.12 194.77,343.13 196.29,343.14 197.83,343.15 199.37,343.16 200.91,343.16 202.47,343.16 204.04,343.15 205.62,343.14 207.20,343.13 208.79,343.11 210.40,343.08 212.01,343.04 213.63,342.99 215.26,342.93 216.90,342.87 218.55,342.81 220.20,342.73 221.87,342.66 223.54,342.58 225.22,342.49 226.92,342.41 228.62,342.32 230.33,342.23 232.04,342.15 233.77,342.06 235.51,341.98 237.25,341.90" fill="none" stroke="#f4a0a6" stroke-width="1.3" stroke-linejoin="round"/>
<polyline clip-path="url(#c3)" points="81.81,287.54 81.83,287.69 81.87,288.08 81.93,288.65 82.01,289.39 82.11,290.27 82.23,291.29 82.37,292.42 82.52,293.65 82.68,294.97 82.87,296.35 83.07,297.80 83.28,299.29 83.51,300.81 83.75,302.35 84.00,303.91 84.27,305.46 84.56,307.00 84.86,308.53 85.17,310.03 85.49,311.51 85.83,312.94 86.18,314.34 86.54,315.69 86.92,316.99 87.31,318.25 87.71,319.45 88.13,320.60 88.56,321.70 89.00,322.75 89.45,323.75 89.91,324.69 90.39,325.59 90.88,326.44 91.38,327.24 91.89,328.00 92.41,328.71 92.95,329.39 93.50,330.03 94.06,330.64 94.63,331.21 95.21,331.75 95.81,332.26 96.41,332.74 97.03,333.20 97.66,333.64 98.30,334.06 98.95,334.46 99.61,334.84 100.28,335.21 100.97,335.56 101.66,335.90 102.37,336.23 103.08,336.55 103.81,336.86 104.55,337.16 105.30,337.46 106.06,337.75 106.83,338.04 107.61,338.32 108.41,338.60 109.21,338.87 110.02,339.14 110.85,339.41 111.68,339.67 112.53,339.92 113.38,340.17 114.25,340.42 115.13,340.66 116.01,340.90 116.91,341.13 117.82,341.36 118.74,341.58 119.67,341.79 120.60,341.99 121.55,342.19 122.51,342.38 123.48,342.56 124.46,342.73 125.45,342.89 126.45,343.04 127.46,343.18 128.48,343.30 129.51,343.41 130.55,343.51 131.60,343.59 132.65,343.66 133.72,343.72 134.80,343.76 135.89,343.80 136.99,343.82 138.10,343.84 139.22,343.84 140.35,343.84 141.48,343.83 142.63,343.82 143.79,343.80 144.95,343.77 146.13,343.74 147.32,343.71 148.51,343.67 149.72,343.64 150.93,343.60 152.16,343.57 153.39,343.53 154.64,343.50 155.89,343.48 157.15,343.46 158.42,343.44 159.71,343.43 161.00,343.41 162.30,343.40 163.61,343.38 164.93,343.37 166.26,343.36 167.59,343.34 168.94,343.33 170.30,343.31 171.66,343.29 173.04,343.28 174.42,343.26 175.82,343.24 177.22,343.21 178.63,343.19 180.05,343.16 181.48,343.13 182.92,343.09 184.37,343.05 185.83,343.01 187.30,342.96 188.78,342.91 190.26,342.86 191.76,342.80 193.26,342.75 194.77,342.69 196.29,342.62 197.83,342.56 199.37,342.50 200.91,342.44 202.47,342.38 204.04,342.32 205.62,342.26 207.20,342.20 208.79,342.15 210.40,342.10 212.01,342.05 213.63,342.01 215.26,341.97 216.90,341.93 218.55,341.89 220.20,341.85 221.87,341.82 223.54,341.78 225.22,341.75 226.92,341.72 228.62,341.68 230.33,341.65 232.04,341.62 233.77,341.58 235.51,341.55 237.25,341.51" fill="none" stroke="#3a36d8" stroke-width="1.3" stroke-linejoin="round"/>
<polyline clip-path="url(#c3)" points="81.81,276.36 81.83,276.54 81.87,276.98 81.93,277.62 82.01,278.46 82.11,279.46 82.23,280.62 82.37,281.90 82.52,283.30 82.68,284.79 82.87,286.37 83.07,288.01 83.28,289.70 83.51,291.43 83.75,293.18 84.00,294.95 84.27,296.72 84.56,298.47 84.86,300.21 85.17,301.93 85.49,303.61 85.83,305.24 86.18,306.84 86.54,308.38 86.92,309.87 87.31,311.31 87.71,312.69 88.13,314.01 88.56,315.27 89.00,316.48 89.45,317.62 89.91,318.71 90.39,319.74 90.88,320.72 91.38,321.65 91.89,322.53 92.41,323.36 92.95,324.15 93.50,324.89 94.06,325.60 94.63,326.27 95.21,326.90 95.81,327.50 96.41,328.07 97.03,328.61 97.66,329.13 98.30,329.63 98.95,330.10 99.61,330.56 100.28,331.00 100.97,331.42 101.66,331.83 102.37,332.23 103.08,332.62 103.81,333.00 104.55,333.38 105.30,333.75 106.06,334.11 106.83,334.47 107.61,334.82 108.41,335.17 109.21,335.52 110.02,335.86 110.85,336.19 111.68,336.53 112.53,336.86 113.38,337.18 114.25,337.50 115.13,337.81 116.01,338.12 116.91,338.42 117.82,338.72 118.74,339.01 119.67,339.29 120.60,339.56 121.55,339.82 122.51,340.07 123.48,340.31 124.46,340.54 125.45,340.75 126.45,340.95 127.46,341.13 128.48,341.30 129.51,341.44 130.55,341.57 131.60,341.67 132.65,341.77 133.72,341.84 134.80,341.91 135.89,341.96 136.99,341.99 138.10,342.02 139.22,342.03 140.35,342.03 141.48,342.02 142.63,342.00 143.79,341.98 144.95,341.94 146.13,341.91 147.32,341.86 148.51,341.82 149.72,341.77 150.93,341.72 152.16,341.67 153.39,341.62 154.64,341.58 155.89,341.54 157.15,341.50 158.42,341.47 159.71,341.43 161.00,341.38 162.30,341.34 163.61,341.29 164.93,341.24 166.26,341.19 167.59,341.13 168.94,341.08 170.30,341.02 171.66,340.96 173.04,340.91 174.42,340.85 175.82,340.80 177.22,340.74 178.63,340.69 180.05,340.64 181.48,340.60 182.92,340.55 184.37,340.51 185.83,340.47 187.30,340.44 188.78,340.40 190.26,340.37 191.76,340.34 193.26,340.31 194.77,340.28 196.29,340.26 197.83,340.24 199.37,340.21 200.91,340.20 202.47,340.18 204.04,340.17 205.62,340.16 207.20,340.15 208.79,340.14 210.40,340.14 212.01,340.14 213.63,340.15 215.26,340.16 216.90,340.18 218.55,340.20 220.20,340.22 221.87,340.25 223.54,340.28 225.22,340.31 226.92,340.35 228.62,340.38 230.33,340.41 232.04,340.44 233.77,340.48 235.51,340.51 237.25,340.53" fill="none" stroke="#e048e0" stroke-width="1.3" stroke-linejoin="round"/>
<polyline clip-path="url(#c3)" points="81.81,255.65 81.83,255.88 81.87,256.45 81.93,257.30 82.01,258.39 82.11,259.70 82.23,261.21 82.37,262.88 82.52,264.71 82.68,266.66 82.87,268.72 83.07,270.87 83.28,273.09 83.51,275.35 83.75,277.65 84.00,279.97 84.27,282.29 84.56,284.60 84.86,286.89 85.17,289.14 85.49,291.35 85.83,293.51 86.18,295.62 86.54,297.66 86.92,299.63 87.31,301.53 87.71,303.36 88.13,305.11 88.56,306.79 89.00,308.40 89.45,309.93 89.91,311.38 90.39,312.77 90.88,314.08 91.38,315.33 91.89,316.51 92.41,317.63 92.95,318.70 93.50,319.70 94.06,320.66 94.63,321.56 95.21,322.42 95.81,323.24 96.41,324.01 97.03,324.75 97.66,325.45 98.30,326.11 98.95,326.75 99.61,327.36 100.28,327.94 100.97,328.50 101.66,329.04 102.37,329.56 103.08,330.06 103.81,330.54 104.55,331.00 105.30,331.46 106.06,331.90 106.83,332.32 107.61,332.74 108.41,333.14 109.21,333.54 110.02,333.92 110.85,334.29 111.68,334.65 112.53,335.01 113.38,335.35 114.25,335.68 115.13,336.00 116.01,336.32 116.91,336.62 117.82,336.91 118.74,337.20 119.67,337.47 120.60,337.73 121.55,337.98 122.51,338.22 123.48,338.44 124.46,338.65 125.45,338.85 126.45,339.03 127.46,339.20 128.48,339.35 129.51,339.49 130.55,339.61 131.60,339.71 132.65,339.80 133.72,339.87 134.80,339.93 135.89,339.98 136.99,340.01 138.10,340.04 139.22,340.05 140.35,340.05 141.48,340.05 142.63,340.03 143.79,340.01 144.95,339.98 146.13,339.94 147.32,339.90 148.51,339.86 149.72,339.81 150.93,339.77 152.16,339.72 153.39,339.67 154.64,339.63 155.89,339.58 157.15,339.55 158.42,339.50 159.71,339.46 161.00,339.41 162.30,339.36 163.61,339.30 164.93,339.24 166.26,339.18 167.59,339.12 168.94,339.06 170.30,339.00 171.66,338.93 173.04,338.88 174.42,338.82 175.82,338.77 177.22,338.72 178.63,338.67 180.05,338.64 181.48,338.61 182.92,338.58 184.37,338.57 185.83,338.57 187.30,338.57 188.78,338.59 190.26,338.61 191.76,338.64 193.26,338.67 194.77,338.71 196.29,338.76 197.83,338.80 199.37,338.85 200.91,338.90 202.47,338.95 204.04,339.00 205.62,339.05 207.20,339.09 208.79,339.13 210.40,339.16 212.01,339.19 213.63,339.22 215.26,339.24 216.90,339.27 218.55,339.29 220.20,339.32 221.87,339.34 223.54,339.37 225.22,339.39 226.92,339.41 228.62,339.44 230.33,339.46 232.04,339.48 233.77,339.51 235.51,339.53 237.25,339.55" fill="none" stroke="#58d058" stroke-width="1.3" stroke-linejoin="round"/>
<polyline clip-path="url(#c3)" points="81.81,236.13 81.83,236.40 81.87,237.06 81.93,238.05 82.01,239.32 82.11,240.84 82.23,242.59 82.37,244.54 82.52,246.67 82.68,248.94 82.87,251.34 83.07,253.84 83.28,256.42 83.51,259.06 83.75,261.74 84.00,264.44 84.27,267.15 84.56,269.84 84.86,272.51 85.17,275.14 85.49,277.72 85.83,280.24 86.18,282.70 86.54,285.09 86.92,287.39 87.31,289.62 87.71,291.76 88.13,293.82 88.56,295.79 89.00,297.67 89.45,299.46 89.91,301.17 90.39,302.80 90.88,304.35 91.38,305.82 91.89,307.22 92.41,308.54 92.95,309.80 93.50,311.00 94.06,312.13 94.63,313.21 95.21,314.24 95.81,315.22 96.41,316.15 97.03,317.05 97.66,317.90 98.30,318.72 98.95,319.51 99.61,320.27 100.28,321.01 100.97,321.72 101.66,322.42 102.37,323.10 103.08,323.76 103.81,324.41 104.55,325.06 105.30,325.70 106.06,326.33 106.83,326.96 107.61,327.58 108.41,328.20 109.21,328.81 110.02,329.41 110.85,330.02 111.68,330.61 112.53,331.20 113.38,331.78 114.25,332.36 115.13,332.93 116.01,333.48 116.91,334.03 117.82,334.57 118.74,335.09 119.67,335.60 120.60,336.09 121.55,336.56 122.51,337.02 123.48,337.45 124.46,337.86 125.45,338.24 126.45,338.59 127.46,338.91 128.48,339.19 129.51,339.44 130.55,339.65 131.60,339.82 132.65,339.96 133.72,340.07 134.80,340.15 135.89,340.20 136.99,340.22 138.10,340.22 139.22,340.20 140.35,340.15 141.48,340.09 142.63,340.00 143.79,339.91 144.95,339.80 146.13,339.67 147.32,339.54 148.51,339.41 149.72,339.27 150.93,339.13 152.16,339.00 153.39,338.87 154.64,338.75 155.89,338.65 157.15,338.56 158.42,338.46 159.71,338.36 161.00,338.25 162.30,338.13 163.61,338.01 164.93,337.89 166.26,337.76 167.59,337.63 168.94,337.50 170.30,337.37 171.66,337.25 173.04,337.13 174.42,337.02 175.82,336.92 177.22,336.83 178.63,336.76 180.05,336.69 181.48,336.65 182.92,336.63 184.37,336.62 185.83,336.65 187.30,336.69 188.78,336.77 190.26,336.86 191.76,336.97 193.26,337.09 194.77,337.22 196.29,337.37 197.83,337.52 199.37,337.68 200.91,337.83 202.47,337.98 204.04,338.13 205.62,338.27 207.20,338.39 208.79,338.49 210.40,338.57 212.01,338.64 213.63,338.69 215.26,338.74 216.90,338.78 218.55,338.81 220.20,338.83 221.87,338.85 223.54,338.87 225.22,338.88 226.92,338.89 228.62,338.90 230.33,338.91 232.04,338.92 233.77,338.93 235.51,338.95 237.25,338.97" fill="none" stroke="#333333" stroke-width="1.3" stroke-linejoin="round"/>
<rect x="63.4" y="226.3" width="187.3" height="149" fill="none" stroke="#333" stroke-width="1.15"/>
<line x1="76.45" y1="375.3" x2="76.45" y2="372.8" stroke="#222" stroke-width="1.1"/>
<line x1="76.45" y1="226.3" x2="76.45" y2="228.1" stroke="#222" stroke-width="1.1"/>
<text x="76.45" y="387.5" font-size="10.8" text-anchor="middle">0.0</text>
<line x1="103.25" y1="375.3" x2="103.25" y2="372.8" stroke="#222" stroke-width="1.1"/>
<line x1="103.25" y1="226.3" x2="103.25" y2="228.1" stroke="#222" stroke-width="1.1"/>
<text x="103.25" y="387.5" font-size="10.8" text-anchor="middle">0.5</text>
<line x1="130.05" y1="375.3" x2="130.05" y2="372.8" stroke="#222" stroke-width="1.1"/>
<line x1="130.05" y1="226.3" x2="130.05" y2="228.1" stroke="#222" stroke-width="1.1"/>
<text x="130.05" y="387.5" font-size="10.8" text-anchor="middle">1.0</text>
<line x1="156.85" y1="375.3" x2="156.85" y2="372.8" stroke="#222" stroke-width="1.1"/>
<line x1="156.85" y1="226.3" x2="156.85" y2="228.1" stroke="#222" stroke-width="1.1"/>
<text x="156.85" y="387.5" font-size="10.8" text-anchor="middle">1.5</text>
<line x1="183.65" y1="375.3" x2="183.65" y2="372.8" stroke="#222" stroke-width="1.1"/>
<line x1="183.65" y1="226.3" x2="183.65" y2="228.1" stroke="#222" stroke-width="1.1"/>
<text x="183.65" y="387.5" font-size="10.8" text-anchor="middle">2.0</text>
<line x1="210.45" y1="375.3" x2="210.45" y2="372.8" stroke="#222" stroke-width="1.1"/>
<line x1="210.45" y1="226.3" x2="210.45" y2="228.1" stroke="#222" stroke-width="1.1"/>
<text x="210.45" y="387.5" font-size="10.8" text-anchor="middle">2.5</text>
<line x1="237.25" y1="375.3" x2="237.25" y2="372.8" stroke="#222" stroke-width="1.1"/>
<line x1="237.25" y1="226.3" x2="237.25" y2="228.1" stroke="#222" stroke-width="1.1"/>
<text x="237.25" y="387.5" font-size="10.8" text-anchor="middle">3.0</text>
<line x1="63.4" y1="375.3" x2="65.9" y2="375.3" stroke="#222" stroke-width="1.1"/>
<text x="60.2" y="379.2" font-size="10.8" text-anchor="end">0.0</text>
<line x1="63.4" y1="345.5" x2="65.9" y2="345.5" stroke="#222" stroke-width="1.1"/>
<text x="60.2" y="349.4" font-size="10.8" text-anchor="end">0.2</text>
<line x1="63.4" y1="315.7" x2="65.9" y2="315.7" stroke="#222" stroke-width="1.1"/>
<text x="60.2" y="319.6" font-size="10.8" text-anchor="end">0.4</text>
<line x1="63.4" y1="285.9" x2="65.9" y2="285.9" stroke="#222" stroke-width="1.1"/>
<text x="60.2" y="289.8" font-size="10.8" text-anchor="end">0.6</text>
<line x1="63.4" y1="256.1" x2="65.9" y2="256.1" stroke="#222" stroke-width="1.1"/>
<text x="60.2" y="260" font-size="10.8" text-anchor="end">0.8</text>
<line x1="63.4" y1="226.3" x2="65.9" y2="226.3" stroke="#222" stroke-width="1.1"/>
<text x="60.2" y="230.2" font-size="10.8" text-anchor="end">1.0</text>
<text x="157.05" y="397.1" font-size="10.6" text-anchor="middle"><tspan font-style="italic">T</tspan>(s)</text>
<text x="0" y="0" font-size="11.2" text-anchor="middle" transform="translate(41.2 300.2) rotate(-90)"><tspan font-style="italic">C</tspan><tspan font-size="7.5" dy="2.5">r</tspan><tspan dy="-2.5"> , mean values</tspan></text>
<line x1="307.75" y1="230" x2="307.75" y2="375.3" stroke="#9a9a9a" stroke-width="1.05" stroke-dasharray="2.3 2.63"/>
<line x1="334.55" y1="230" x2="334.55" y2="375.3" stroke="#9a9a9a" stroke-width="1.05" stroke-dasharray="2.3 2.63"/>
<line x1="361.35" y1="230" x2="361.35" y2="375.3" stroke="#9a9a9a" stroke-width="1.05" stroke-dasharray="2.3 2.63"/>
<line x1="388.15" y1="230" x2="388.15" y2="375.3" stroke="#9a9a9a" stroke-width="1.05" stroke-dasharray="2.3 2.63"/>
<line x1="414.95" y1="230" x2="414.95" y2="375.3" stroke="#9a9a9a" stroke-width="1.05" stroke-dasharray="2.3 2.63"/>
<line x1="441.75" y1="230" x2="441.75" y2="375.3" stroke="#9a9a9a" stroke-width="1.05" stroke-dasharray="2.3 2.63"/>
<line x1="468.55" y1="230" x2="468.55" y2="375.3" stroke="#9a9a9a" stroke-width="1.05" stroke-dasharray="2.3 2.63"/>
<line x1="299.6" y1="345.5" x2="480" y2="345.5" stroke="#a6a6a6" stroke-width="1.1" stroke-dasharray="2.1 2.83"/>
<line x1="299.6" y1="315.7" x2="480" y2="315.7" stroke="#a6a6a6" stroke-width="1.1" stroke-dasharray="2.1 2.83"/>
<line x1="299.6" y1="285.9" x2="480" y2="285.9" stroke="#a6a6a6" stroke-width="1.1" stroke-dasharray="2.1 2.83"/>
<line x1="299.6" y1="256.1" x2="480" y2="256.1" stroke="#a6a6a6" stroke-width="1.1" stroke-dasharray="2.1 2.83"/>
<polyline clip-path="url(#c4)" points="313.11,348.63 313.13,348.65 313.17,348.72 313.23,348.81 313.31,348.93 313.41,349.07 313.53,349.23 313.67,349.41 313.82,349.61 313.98,349.82 314.17,350.05 314.37,350.28 314.58,350.52 314.81,350.76 315.05,351.01 315.30,351.25 315.57,351.50 315.86,351.75 316.16,351.99 316.47,352.23 316.79,352.46 317.13,352.69 317.48,352.91 317.84,353.12 318.22,353.33 318.61,353.52 319.01,353.71 319.43,353.89 319.86,354.06 320.30,354.22 320.75,354.38 321.21,354.52 321.69,354.66 322.18,354.79 322.68,354.91 323.19,355.03 323.71,355.13 324.25,355.23 324.80,355.33 325.36,355.42 325.93,355.50 326.51,355.58 327.11,355.65 327.71,355.71 328.33,355.78 328.96,355.84 329.60,355.89 330.25,355.94 330.91,355.99 331.58,356.03 332.27,356.07 332.96,356.11 333.67,356.14 334.38,356.17 335.11,356.20 335.85,356.22 336.60,356.24 337.36,356.26 338.13,356.28 338.91,356.30 339.71,356.31 340.51,356.32 341.32,356.33 342.15,356.34 342.98,356.35 343.83,356.36 344.68,356.36 345.55,356.36 346.43,356.36 347.31,356.36 348.21,356.36 349.12,356.36 350.04,356.35 350.97,356.34 351.90,356.33 352.85,356.32 353.81,356.31 354.78,356.30 355.76,356.28 356.75,356.27 357.75,356.25 358.76,356.23 359.78,356.21 360.81,356.19 361.85,356.16 362.90,356.14 363.95,356.11 365.02,356.08 366.10,356.05 367.19,356.01 368.29,355.97 369.40,355.94 370.52,355.89 371.65,355.85 372.78,355.81 373.93,355.77 375.09,355.72 376.25,355.67 377.43,355.63 378.62,355.58 379.81,355.53 381.02,355.48 382.23,355.43 383.46,355.38 384.69,355.33 385.94,355.28 387.19,355.23 388.45,355.19 389.72,355.14 391.01,355.08 392.30,355.03 393.60,354.97 394.91,354.91 396.23,354.85 397.56,354.79 398.89,354.73 400.24,354.67 401.60,354.61 402.96,354.55 404.34,354.49 405.72,354.44 407.12,354.39 408.52,354.35 409.93,354.31 411.35,354.27 412.78,354.25 414.22,354.23 415.67,354.22 417.13,354.21 418.60,354.22 420.08,354.23 421.56,354.25 423.06,354.28 424.56,354.31 426.07,354.34 427.59,354.38 429.13,354.42 430.67,354.47 432.21,354.52 433.77,354.57 435.34,354.62 436.92,354.67 438.50,354.72 440.09,354.76 441.70,354.81 443.31,354.85 444.93,354.89 446.56,354.93 448.20,354.98 449.85,355.03 451.50,355.08 453.17,355.13 454.84,355.18 456.52,355.23 458.22,355.28 459.92,355.33 461.63,355.38 463.34,355.43 465.07,355.49 466.81,355.54 468.55,355.59" fill="none" stroke="#d63a3a" stroke-width="1.3" stroke-linejoin="round"/>
<polyline clip-path="url(#c4)" points="313.11,331.05 313.13,331.11 313.17,331.25 313.23,331.47 313.31,331.75 313.41,332.08 313.53,332.46 313.67,332.89 313.82,333.35 313.98,333.85 314.17,334.37 314.37,334.91 314.58,335.47 314.81,336.05 315.05,336.62 315.30,337.21 315.57,337.79 315.86,338.36 316.16,338.93 316.47,339.49 316.79,340.04 317.13,340.58 317.48,341.09 317.84,341.59 318.22,342.07 318.61,342.54 319.01,342.98 319.43,343.40 319.86,343.80 320.30,344.18 320.75,344.55 321.21,344.89 321.69,345.21 322.18,345.51 322.68,345.80 323.19,346.07 323.71,346.33 324.25,346.56 324.80,346.79 325.36,347.00 325.93,347.20 326.51,347.38 327.11,347.56 327.71,347.72 328.33,347.87 328.96,348.02 329.60,348.15 330.25,348.28 330.91,348.41 331.58,348.52 332.27,348.63 332.96,348.73 333.67,348.83 334.38,348.92 335.11,349.01 335.85,349.09 336.60,349.17 337.36,349.24 338.13,349.32 338.91,349.38 339.71,349.45 340.51,349.51 341.32,349.57 342.15,349.63 342.98,349.68 343.83,349.73 344.68,349.78 345.55,349.83 346.43,349.87 347.31,349.91 348.21,349.95 349.12,349.99 350.04,350.03 350.97,350.06 351.90,350.09 352.85,350.12 353.81,350.15 354.78,350.18 355.76,350.20 356.75,350.23 357.75,350.25 358.76,350.27 359.78,350.29 360.81,350.30 361.85,350.32 362.90,350.33 363.95,350.34 365.02,350.35 366.10,350.36 367.19,350.37 368.29,350.38 369.40,350.38 370.52,350.39 371.65,350.39 372.78,350.39 373.93,350.39 375.09,350.39 376.25,350.39 377.43,350.39 378.62,350.39 379.81,350.38 381.02,350.38 382.23,350.37 383.46,350.36 384.69,350.35 385.94,350.34 387.19,350.32 388.45,350.30 389.72,350.29 391.01,350.26 392.30,350.24 393.60,350.21 394.91,350.18 396.23,350.15 397.56,350.12 398.89,350.08 400.24,350.04 401.60,350.01 402.96,349.97 404.34,349.94 405.72,349.90 407.12,349.87 408.52,349.83 409.93,349.80 411.35,349.78 412.78,349.75 414.22,349.73 415.67,349.71 417.13,349.70 418.60,349.69 420.08,349.68 421.56,349.67 423.06,349.66 424.56,349.65 426.07,349.65 427.59,349.65 429.13,349.65 430.67,349.65 432.21,349.65 433.77,349.66 435.34,349.67 436.92,349.68 438.50,349.69 440.09,349.71 441.70,349.72 443.31,349.74 444.93,349.76 446.56,349.79 448.20,349.82 449.85,349.86 451.50,349.89 453.17,349.93 454.84,349.97 456.52,350.01 458.22,350.06 459.92,350.10 461.63,350.14 463.34,350.19 465.07,350.23 466.81,350.27 468.55,350.31" fill="none" stroke="#2f8fe0" stroke-width="1.3" stroke-linejoin="round"/>
<polyline clip-path="url(#c4)" points="313.11,317.64 313.13,317.72 313.17,317.93 313.23,318.24 313.31,318.63 313.41,319.11 313.53,319.66 313.67,320.27 313.82,320.93 313.98,321.64 314.17,322.38 314.37,323.16 314.58,323.96 314.81,324.78 315.05,325.61 315.30,326.44 315.57,327.27 315.86,328.10 316.16,328.91 316.47,329.72 316.79,330.50 317.13,331.27 317.48,332.01 317.84,332.73 318.22,333.43 318.61,334.09 319.01,334.73 319.43,335.34 319.86,335.92 320.30,336.47 320.75,337.00 321.21,337.50 321.69,337.97 322.18,338.41 322.68,338.83 323.19,339.22 323.71,339.59 324.25,339.94 324.80,340.27 325.36,340.58 325.93,340.87 326.51,341.15 327.11,341.41 327.71,341.65 328.33,341.88 328.96,342.09 329.60,342.29 330.25,342.49 330.91,342.67 331.58,342.84 332.27,343.00 332.96,343.15 333.67,343.30 334.38,343.43 335.11,343.56 335.85,343.69 336.60,343.80 337.36,343.91 338.13,344.01 338.91,344.11 339.71,344.20 340.51,344.29 341.32,344.37 342.15,344.45 342.98,344.52 343.83,344.59 344.68,344.65 345.55,344.71 346.43,344.77 347.31,344.83 348.21,344.88 349.12,344.93 350.04,344.97 350.97,345.02 351.90,345.06 352.85,345.10 353.81,345.14 354.78,345.18 355.76,345.22 356.75,345.25 357.75,345.29 358.76,345.33 359.78,345.36 360.81,345.40 361.85,345.44 362.90,345.48 363.95,345.52 365.02,345.57 366.10,345.62 367.19,345.66 368.29,345.71 369.40,345.77 370.52,345.82 371.65,345.87 372.78,345.92 373.93,345.98 375.09,346.03 376.25,346.08 377.43,346.13 378.62,346.17 379.81,346.22 381.02,346.26 382.23,346.30 383.46,346.33 384.69,346.36 385.94,346.38 387.19,346.39 388.45,346.40 389.72,346.40 391.01,346.39 392.30,346.37 393.60,346.35 394.91,346.32 396.23,346.29 397.56,346.25 398.89,346.21 400.24,346.16 401.60,346.12 402.96,346.07 404.34,346.03 405.72,345.98 407.12,345.94 408.52,345.90 409.93,345.87 411.35,345.84 412.78,345.82 414.22,345.81 415.67,345.81 417.13,345.82 418.60,345.83 420.08,345.86 421.56,345.89 423.06,345.92 424.56,345.96 426.07,346.00 427.59,346.04 429.13,346.09 430.67,346.14 432.21,346.18 433.77,346.23 435.34,346.27 436.92,346.31 438.50,346.35 440.09,346.38 441.70,346.40 443.31,346.41 444.93,346.42 446.56,346.43 448.20,346.44 449.85,346.44 451.50,346.44 453.17,346.44 454.84,346.44 456.52,346.43 458.22,346.42 459.92,346.42 461.63,346.41 463.34,346.41 465.07,346.40 466.81,346.40 468.55,346.40" fill="none" stroke="#b8f070" stroke-width="1.3" stroke-linejoin="round"/>
<polyline clip-path="url(#c4)" points="313.11,301.40 313.13,301.52 313.17,301.81 313.23,302.25 313.31,302.81 313.41,303.49 313.53,304.27 313.67,305.14 313.82,306.08 313.98,307.09 314.17,308.15 314.37,309.26 314.58,310.40 314.81,311.56 315.05,312.75 315.30,313.93 315.57,315.12 315.86,316.30 316.16,317.47 316.47,318.62 316.79,319.74 317.13,320.84 317.48,321.91 317.84,322.94 318.22,323.93 318.61,324.89 319.01,325.81 319.43,326.68 319.86,327.52 320.30,328.32 320.75,329.07 321.21,329.79 321.69,330.47 322.18,331.11 322.68,331.72 323.19,332.29 323.71,332.83 324.25,333.34 324.80,333.82 325.36,334.28 325.93,334.70 326.51,335.11 327.11,335.49 327.71,335.84 328.33,336.18 328.96,336.50 329.60,336.81 330.25,337.09 330.91,337.36 331.58,337.62 332.27,337.87 332.96,338.10 333.67,338.32 334.38,338.53 335.11,338.73 335.85,338.92 336.60,339.10 337.36,339.28 338.13,339.44 338.91,339.60 339.71,339.75 340.51,339.89 341.32,340.03 342.15,340.16 342.98,340.28 343.83,340.40 344.68,340.51 345.55,340.62 346.43,340.73 347.31,340.83 348.21,340.92 349.12,341.01 350.04,341.10 350.97,341.18 351.90,341.26 352.85,341.34 353.81,341.41 354.78,341.48 355.76,341.55 356.75,341.62 357.75,341.69 358.76,341.75 359.78,341.81 360.81,341.87 361.85,341.93 362.90,341.99 363.95,342.05 365.02,342.10 366.10,342.16 367.19,342.22 368.29,342.28 369.40,342.33 370.52,342.39 371.65,342.44 372.78,342.50 373.93,342.55 375.09,342.60 376.25,342.66 377.43,342.71 378.62,342.76 379.81,342.80 381.02,342.85 382.23,342.89 383.46,342.94 384.69,342.98 385.94,343.01 387.19,343.05 388.45,343.08 389.72,343.11 391.01,343.14 392.30,343.17 393.60,343.19 394.91,343.22 396.23,343.24 397.56,343.27 398.89,343.29 400.24,343.31 401.60,343.33 402.96,343.35 404.34,343.37 405.72,343.38 407.12,343.40 408.52,343.41 409.93,343.43 411.35,343.44 412.78,343.45 414.22,343.46 415.67,343.47 417.13,343.48 418.60,343.49 420.08,343.49 421.56,343.50 423.06,343.50 424.56,343.51 426.07,343.51 427.59,343.51 429.13,343.51 430.67,343.51 432.21,343.51 433.77,343.50 435.34,343.50 436.92,343.49 438.50,343.49 440.09,343.48 441.70,343.47 443.31,343.45 444.93,343.44 446.56,343.42 448.20,343.40 449.85,343.38 451.50,343.35 453.17,343.33 454.84,343.30 456.52,343.27 458.22,343.24 459.92,343.21 461.63,343.18 463.34,343.16 465.07,343.13 466.81,343.10 468.55,343.07" fill="none" stroke="#f4a0a6" stroke-width="1.3" stroke-linejoin="round"/>
<polyline clip-path="url(#c4)" points="313.11,290.07 313.13,290.22 313.17,290.58 313.23,291.13 313.31,291.83 313.41,292.66 313.53,293.63 313.67,294.70 313.82,295.87 313.98,297.12 314.17,298.43 314.37,299.80 314.58,301.21 314.81,302.66 315.05,304.12 315.30,305.59 315.57,307.07 315.86,308.53 316.16,309.98 316.47,311.40 316.79,312.80 317.13,314.16 317.48,315.48 317.84,316.76 318.22,318.00 318.61,319.19 319.01,320.33 319.43,321.42 319.86,322.46 320.30,323.46 320.75,324.40 321.21,325.29 321.69,326.14 322.18,326.95 322.68,327.71 323.19,328.42 323.71,329.10 324.25,329.74 324.80,330.35 325.36,330.92 325.93,331.46 326.51,331.98 327.11,332.46 327.71,332.92 328.33,333.36 328.96,333.77 329.60,334.17 330.25,334.55 330.91,334.91 331.58,335.26 332.27,335.60 332.96,335.93 333.67,336.24 334.38,336.55 335.11,336.85 335.85,337.15 336.60,337.43 337.36,337.72 338.13,338.00 338.91,338.27 339.71,338.54 340.51,338.80 341.32,339.06 342.15,339.32 342.98,339.58 343.83,339.83 344.68,340.07 345.55,340.32 346.43,340.55 347.31,340.79 348.21,341.02 349.12,341.24 350.04,341.46 350.97,341.68 351.90,341.89 352.85,342.09 353.81,342.28 354.78,342.47 355.76,342.65 356.75,342.82 357.75,342.98 358.76,343.14 359.78,343.28 360.81,343.40 361.85,343.52 362.90,343.63 363.95,343.73 365.02,343.82 366.10,343.90 367.19,343.98 368.29,344.05 369.40,344.12 370.52,344.17 371.65,344.22 372.78,344.27 373.93,344.31 375.09,344.34 376.25,344.37 377.43,344.40 378.62,344.42 379.81,344.43 381.02,344.44 382.23,344.45 383.46,344.45 384.69,344.46 385.94,344.45 387.19,344.45 388.45,344.44 389.72,344.42 391.01,344.40 392.30,344.36 393.60,344.32 394.91,344.27 396.23,344.21 397.56,344.14 398.89,344.08 400.24,344.01 401.60,343.93 402.96,343.86 404.34,343.79 405.72,343.72 407.12,343.66 408.52,343.60 409.93,343.55 411.35,343.51 412.78,343.48 414.22,343.47 415.67,343.47 417.13,343.49 418.60,343.52 420.08,343.58 421.56,343.65 423.06,343.72 424.56,343.81 426.07,343.91 427.59,344.00 429.13,344.10 430.67,344.19 432.21,344.27 433.77,344.35 435.34,344.41 436.92,344.45 438.50,344.48 440.09,344.47 441.70,344.44 443.31,344.39 444.93,344.30 446.56,344.20 448.20,344.07 449.85,343.93 451.50,343.78 453.17,343.61 454.84,343.43 456.52,343.24 458.22,343.04 459.92,342.84 461.63,342.64 463.34,342.45 465.07,342.26 466.81,342.07 468.55,341.90" fill="none" stroke="#3a36d8" stroke-width="1.3" stroke-linejoin="round"/>
<polyline clip-path="url(#c4)" points="313.11,279.34 313.13,279.51 313.17,279.92 313.23,280.54 313.31,281.33 313.41,282.28 313.53,283.37 313.67,284.59 313.82,285.91 313.98,287.32 314.17,288.81 314.37,290.37 314.58,291.97 314.81,293.61 315.05,295.27 315.30,296.94 315.57,298.61 315.86,300.28 316.16,301.92 316.47,303.54 316.79,305.13 317.13,306.68 317.48,308.19 317.84,309.64 318.22,311.05 318.61,312.41 319.01,313.71 319.43,314.96 319.86,316.15 320.30,317.29 320.75,318.37 321.21,319.39 321.69,320.37 322.18,321.29 322.68,322.17 323.19,322.99 323.71,323.78 324.25,324.52 324.80,325.22 325.36,325.88 325.93,326.51 326.51,327.11 327.11,327.68 327.71,328.22 328.33,328.74 328.96,329.23 329.60,329.70 330.25,330.16 330.91,330.60 331.58,331.02 332.27,331.44 332.96,331.84 333.67,332.23 334.38,332.62 335.11,333.01 335.85,333.38 336.60,333.76 337.36,334.13 338.13,334.50 338.91,334.87 339.71,335.24 340.51,335.60 341.32,335.97 342.15,336.33 342.98,336.69 343.83,337.04 344.68,337.40 345.55,337.75 346.43,338.10 347.31,338.44 348.21,338.78 349.12,339.12 350.04,339.45 350.97,339.77 351.90,340.09 352.85,340.39 353.81,340.69 354.78,340.98 355.76,341.25 356.75,341.51 357.75,341.76 358.76,341.99 359.78,342.20 360.81,342.39 361.85,342.57 362.90,342.73 363.95,342.88 365.02,343.01 366.10,343.13 367.19,343.25 368.29,343.35 369.40,343.44 370.52,343.52 371.65,343.59 372.78,343.65 373.93,343.71 375.09,343.75 376.25,343.79 377.43,343.82 378.62,343.84 379.81,343.86 381.02,343.87 382.23,343.88 383.46,343.88 384.69,343.87 385.94,343.87 387.19,343.86 388.45,343.85 389.72,343.84 391.01,343.81 392.30,343.77 393.60,343.72 394.91,343.67 396.23,343.61 397.56,343.54 398.89,343.46 400.24,343.38 401.60,343.29 402.96,343.21 404.34,343.12 405.72,343.02 407.12,342.93 408.52,342.84 409.93,342.76 411.35,342.67 412.78,342.59 414.22,342.52 415.67,342.45 417.13,342.39 418.60,342.33 420.08,342.27 421.56,342.21 423.06,342.16 424.56,342.10 426.07,342.05 427.59,342.00 429.13,341.94 430.67,341.89 432.21,341.84 433.77,341.79 435.34,341.73 436.92,341.68 438.50,341.63 440.09,341.57 441.70,341.51 443.31,341.45 444.93,341.39 446.56,341.33 448.20,341.27 449.85,341.21 451.50,341.15 453.17,341.09 454.84,341.03 456.52,340.97 458.22,340.91 459.92,340.85 461.63,340.78 463.34,340.72 465.07,340.66 466.81,340.60 468.55,340.53" fill="none" stroke="#e048e0" stroke-width="1.3" stroke-linejoin="round"/>
<polyline clip-path="url(#c4)" points="313.11,257.44 313.13,257.66 313.17,258.22 313.23,259.04 313.31,260.10 313.41,261.37 313.53,262.83 313.67,264.46 313.82,266.23 313.98,268.13 314.17,270.13 314.37,272.21 314.58,274.36 314.81,276.56 315.05,278.79 315.30,281.04 315.57,283.29 315.86,285.53 316.16,287.75 316.47,289.93 316.79,292.08 317.13,294.17 317.48,296.21 317.84,298.19 318.22,300.10 318.61,301.94 319.01,303.71 319.43,305.41 319.86,307.04 320.30,308.59 320.75,310.07 321.21,311.48 321.69,312.82 322.18,314.09 322.68,315.29 323.19,316.44 323.71,317.52 324.25,318.55 324.80,319.52 325.36,320.44 325.93,321.32 326.51,322.15 327.11,322.94 327.71,323.69 328.33,324.41 328.96,325.09 329.60,325.74 330.25,326.37 330.91,326.97 331.58,327.54 332.27,328.10 332.96,328.64 333.67,329.16 334.38,329.66 335.11,330.16 335.85,330.64 336.60,331.11 337.36,331.57 338.13,332.03 338.91,332.47 339.71,332.91 340.51,333.34 341.32,333.77 342.15,334.19 342.98,334.60 343.83,335.00 344.68,335.39 345.55,335.78 346.43,336.16 347.31,336.53 348.21,336.89 349.12,337.25 350.04,337.59 350.97,337.92 351.90,338.24 352.85,338.55 353.81,338.85 354.78,339.13 355.76,339.40 356.75,339.64 357.75,339.88 358.76,340.09 359.78,340.28 360.81,340.45 361.85,340.60 362.90,340.73 363.95,340.84 365.02,340.93 366.10,341.00 367.19,341.06 368.29,341.11 369.40,341.14 370.52,341.15 371.65,341.15 372.78,341.15 373.93,341.13 375.09,341.10 376.25,341.06 377.43,341.02 378.62,340.97 379.81,340.91 381.02,340.86 382.23,340.80 383.46,340.74 384.69,340.68 385.94,340.62 387.19,340.57 388.45,340.52 389.72,340.47 391.01,340.42 392.30,340.36 393.60,340.29 394.91,340.23 396.23,340.16 397.56,340.08 398.89,340.01 400.24,339.93 401.60,339.85 402.96,339.77 404.34,339.69 405.72,339.61 407.12,339.54 408.52,339.46 409.93,339.39 411.35,339.32 412.78,339.25 414.22,339.19 415.67,339.14 417.13,339.08 418.60,339.03 420.08,338.97 421.56,338.92 423.06,338.87 424.56,338.82 426.07,338.78 427.59,338.74 429.13,338.70 430.67,338.66 432.21,338.63 433.77,338.61 435.34,338.59 436.92,338.58 438.50,338.57 440.09,338.57 441.70,338.58 443.31,338.59 444.93,338.62 446.56,338.66 448.20,338.70 449.85,338.76 451.50,338.82 453.17,338.88 454.84,338.95 456.52,339.03 458.22,339.11 459.92,339.18 461.63,339.26 463.34,339.34 465.07,339.42 466.81,339.49 468.55,339.55" fill="none" stroke="#58d058" stroke-width="1.3" stroke-linejoin="round"/>
<polyline clip-path="url(#c4)" points="313.11,239.11 313.13,239.38 313.17,240.05 313.23,241.05 313.31,242.33 313.41,243.87 313.53,245.64 313.67,247.61 313.82,249.76 313.98,252.06 314.17,254.49 314.37,257.02 314.58,259.63 314.81,262.30 315.05,265.01 315.30,267.74 315.57,270.48 315.86,273.20 316.16,275.90 316.47,278.57 316.79,281.18 317.13,283.74 317.48,286.23 317.84,288.65 318.22,290.99 318.61,293.26 319.01,295.43 319.43,297.52 319.86,299.52 320.30,301.44 320.75,303.26 321.21,305.00 321.69,306.66 322.18,308.24 322.68,309.74 323.19,311.16 323.71,312.52 324.25,313.80 324.80,315.02 325.36,316.17 325.93,317.27 326.51,318.31 327.11,319.31 327.71,320.25 328.33,321.15 328.96,322.01 329.60,322.83 330.25,323.61 330.91,324.36 331.58,325.07 332.27,325.76 332.96,326.43 333.67,327.07 334.38,327.68 335.11,328.28 335.85,328.86 336.60,329.42 337.36,329.97 338.13,330.50 338.91,331.02 339.71,331.53 340.51,332.02 341.32,332.50 342.15,332.96 342.98,333.42 343.83,333.86 344.68,334.29 345.55,334.71 346.43,335.12 347.31,335.51 348.21,335.90 349.12,336.27 350.04,336.62 350.97,336.96 351.90,337.29 352.85,337.60 353.81,337.90 354.78,338.18 355.76,338.45 356.75,338.69 357.75,338.92 358.76,339.13 359.78,339.31 360.81,339.48 361.85,339.62 362.90,339.74 363.95,339.84 365.02,339.92 366.10,339.98 367.19,340.02 368.29,340.05 369.40,340.06 370.52,340.06 371.65,340.04 372.78,340.01 373.93,339.97 375.09,339.92 376.25,339.86 377.43,339.79 378.62,339.72 379.81,339.65 381.02,339.57 382.23,339.49 383.46,339.42 384.69,339.34 385.94,339.27 387.19,339.21 388.45,339.15 389.72,339.09 391.01,339.04 392.30,338.97 393.60,338.91 394.91,338.85 396.23,338.78 397.56,338.71 398.89,338.64 400.24,338.58 401.60,338.51 402.96,338.44 404.34,338.38 405.72,338.32 407.12,338.26 408.52,338.20 409.93,338.15 411.35,338.09 412.78,338.05 414.22,338.01 415.67,337.97 417.13,337.94 418.60,337.91 420.08,337.89 421.56,337.87 423.06,337.86 424.56,337.85 426.07,337.84 427.59,337.84 429.13,337.84 430.67,337.84 432.21,337.85 433.77,337.86 435.34,337.88 436.92,337.90 438.50,337.93 440.09,337.96 441.70,337.99 443.31,338.03 444.93,338.07 446.56,338.13 448.20,338.19 449.85,338.26 451.50,338.33 453.17,338.41 454.84,338.49 456.52,338.57 458.22,338.66 459.92,338.74 461.63,338.83 463.34,338.92 465.07,339.00 466.81,339.08 468.55,339.16" fill="none" stroke="#333333" stroke-width="1.3" stroke-linejoin="round"/>
<rect x="294.7" y="226.3" width="187.3" height="149" fill="none" stroke="#333" stroke-width="1.15"/>
<line x1="307.75" y1="375.3" x2="307.75" y2="372.8" stroke="#222" stroke-width="1.1"/>
<line x1="307.75" y1="226.3" x2="307.75" y2="228.1" stroke="#222" stroke-width="1.1"/>
<text x="307.75" y="387.5" font-size="10.8" text-anchor="middle">0.0</text>
<line x1="334.55" y1="375.3" x2="334.55" y2="372.8" stroke="#222" stroke-width="1.1"/>
<line x1="334.55" y1="226.3" x2="334.55" y2="228.1" stroke="#222" stroke-width="1.1"/>
<text x="334.55" y="387.5" font-size="10.8" text-anchor="middle">0.5</text>
<line x1="361.35" y1="375.3" x2="361.35" y2="372.8" stroke="#222" stroke-width="1.1"/>
<line x1="361.35" y1="226.3" x2="361.35" y2="228.1" stroke="#222" stroke-width="1.1"/>
<text x="361.35" y="387.5" font-size="10.8" text-anchor="middle">1.0</text>
<line x1="388.15" y1="375.3" x2="388.15" y2="372.8" stroke="#222" stroke-width="1.1"/>
<line x1="388.15" y1="226.3" x2="388.15" y2="228.1" stroke="#222" stroke-width="1.1"/>
<text x="388.15" y="387.5" font-size="10.8" text-anchor="middle">1.5</text>
<line x1="414.95" y1="375.3" x2="414.95" y2="372.8" stroke="#222" stroke-width="1.1"/>
<line x1="414.95" y1="226.3" x2="414.95" y2="228.1" stroke="#222" stroke-width="1.1"/>
<text x="414.95" y="387.5" font-size="10.8" text-anchor="middle">2.0</text>
<line x1="441.75" y1="375.3" x2="441.75" y2="372.8" stroke="#222" stroke-width="1.1"/>
<line x1="441.75" y1="226.3" x2="441.75" y2="228.1" stroke="#222" stroke-width="1.1"/>
<text x="441.75" y="387.5" font-size="10.8" text-anchor="middle">2.5</text>
<line x1="468.55" y1="375.3" x2="468.55" y2="372.8" stroke="#222" stroke-width="1.1"/>
<line x1="468.55" y1="226.3" x2="468.55" y2="228.1" stroke="#222" stroke-width="1.1"/>
<text x="468.55" y="387.5" font-size="10.8" text-anchor="middle">3.0</text>
<line x1="294.7" y1="375.3" x2="297.2" y2="375.3" stroke="#222" stroke-width="1.1"/>
<text x="291.5" y="379.2" font-size="10.8" text-anchor="end">0.0</text>
<line x1="294.7" y1="345.5" x2="297.2" y2="345.5" stroke="#222" stroke-width="1.1"/>
<text x="291.5" y="349.4" font-size="10.8" text-anchor="end">0.2</text>
<line x1="294.7" y1="315.7" x2="297.2" y2="315.7" stroke="#222" stroke-width="1.1"/>
<text x="291.5" y="319.6" font-size="10.8" text-anchor="end">0.4</text>
<line x1="294.7" y1="285.9" x2="297.2" y2="285.9" stroke="#222" stroke-width="1.1"/>
<text x="291.5" y="289.8" font-size="10.8" text-anchor="end">0.6</text>
<line x1="294.7" y1="256.1" x2="297.2" y2="256.1" stroke="#222" stroke-width="1.1"/>
<text x="291.5" y="260" font-size="10.8" text-anchor="end">0.8</text>
<line x1="294.7" y1="226.3" x2="297.2" y2="226.3" stroke="#222" stroke-width="1.1"/>
<text x="291.5" y="230.2" font-size="10.8" text-anchor="end">1.0</text>
<text x="388.35" y="397.1" font-size="10.6" text-anchor="middle"><tspan font-style="italic">T</tspan>(s)</text>
<text x="0" y="0" font-size="11.2" text-anchor="middle" transform="translate(272.5 300.2) rotate(-90)"><tspan font-style="italic">C</tspan><tspan font-size="7.5" dy="2.5">r</tspan><tspan dy="-2.5"> , mean values</tspan></text>
<line x1="539.45" y1="230" x2="539.45" y2="375.3" stroke="#9a9a9a" stroke-width="1.05" stroke-dasharray="2.3 2.63"/>
<line x1="566.25" y1="230" x2="566.25" y2="375.3" stroke="#9a9a9a" stroke-width="1.05" stroke-dasharray="2.3 2.63"/>
<line x1="593.05" y1="230" x2="593.05" y2="375.3" stroke="#9a9a9a" stroke-width="1.05" stroke-dasharray="2.3 2.63"/>
<line x1="619.85" y1="230" x2="619.85" y2="375.3" stroke="#9a9a9a" stroke-width="1.05" stroke-dasharray="2.3 2.63"/>
<line x1="646.65" y1="230" x2="646.65" y2="375.3" stroke="#9a9a9a" stroke-width="1.05" stroke-dasharray="2.3 2.63"/>
<line x1="673.45" y1="230" x2="673.45" y2="375.3" stroke="#9a9a9a" stroke-width="1.05" stroke-dasharray="2.3 2.63"/>
<line x1="700.25" y1="230" x2="700.25" y2="375.3" stroke="#9a9a9a" stroke-width="1.05" stroke-dasharray="2.3 2.63"/>
<line x1="531.3" y1="345.5" x2="711.7" y2="345.5" stroke="#a6a6a6" stroke-width="1.1" stroke-dasharray="2.1 2.83"/>
<line x1="531.3" y1="315.7" x2="711.7" y2="315.7" stroke="#a6a6a6" stroke-width="1.1" stroke-dasharray="2.1 2.83"/>
<line x1="531.3" y1="285.9" x2="711.7" y2="285.9" stroke="#a6a6a6" stroke-width="1.1" stroke-dasharray="2.1 2.83"/>
<line x1="531.3" y1="256.1" x2="711.7" y2="256.1" stroke="#a6a6a6" stroke-width="1.1" stroke-dasharray="2.1 2.83"/>
<polyline clip-path="url(#c5)" points="544.81,349.67 544.83,349.69 544.87,349.75 544.93,349.83 545.01,349.93 545.11,350.05 545.23,350.19 545.37,350.35 545.52,350.52 545.68,350.70 545.87,350.89 546.07,351.09 546.28,351.30 546.51,351.51 546.75,351.72 547.00,351.94 547.27,352.15 547.56,352.36 547.86,352.57 548.17,352.77 548.49,352.98 548.83,353.17 549.18,353.36 549.54,353.54 549.92,353.72 550.31,353.89 550.71,354.05 551.13,354.21 551.56,354.35 552.00,354.49 552.45,354.63 552.91,354.75 553.39,354.87 553.88,354.98 554.38,355.09 554.89,355.18 555.41,355.28 555.95,355.36 556.50,355.44 557.06,355.52 557.63,355.59 558.21,355.66 558.81,355.72 559.41,355.78 560.03,355.83 560.66,355.88 561.30,355.93 561.95,355.97 562.61,356.01 563.28,356.05 563.97,356.08 564.66,356.12 565.37,356.14 566.08,356.17 566.81,356.19 567.55,356.21 568.30,356.23 569.06,356.25 569.83,356.26 570.61,356.28 571.41,356.29 572.21,356.30 573.02,356.31 573.85,356.31 574.68,356.32 575.53,356.32 576.38,356.32 577.25,356.32 578.13,356.32 579.01,356.32 579.91,356.32 580.82,356.31 581.74,356.31 582.67,356.30 583.60,356.29 584.55,356.28 585.51,356.27 586.48,356.26 587.46,356.25 588.45,356.24 589.45,356.23 590.46,356.21 591.48,356.20 592.51,356.18 593.55,356.17 594.60,356.15 595.65,356.14 596.72,356.12 597.80,356.10 598.89,356.09 599.99,356.07 601.10,356.05 602.22,356.03 603.35,356.01 604.48,355.99 605.63,355.97 606.79,355.95 607.95,355.92 609.13,355.90 610.32,355.87 611.51,355.84 612.72,355.81 613.93,355.78 615.16,355.74 616.39,355.71 617.64,355.67 618.89,355.62 620.15,355.58 621.42,355.52 622.71,355.46 624.00,355.40 625.30,355.33 626.61,355.25 627.93,355.17 629.26,355.09 630.59,355.00 631.94,354.91 633.30,354.83 634.66,354.74 636.04,354.66 637.42,354.58 638.82,354.50 640.22,354.43 641.63,354.37 643.05,354.31 644.48,354.27 645.92,354.23 647.37,354.21 648.83,354.20 650.30,354.19 651.78,354.20 653.26,354.21 654.76,354.23 656.26,354.25 657.77,354.28 659.29,354.32 660.83,354.36 662.37,354.41 663.91,354.46 665.47,354.51 667.04,354.57 668.62,354.63 670.20,354.69 671.79,354.75 673.40,354.80 675.01,354.87 676.63,354.93 678.26,355.00 679.90,355.08 681.55,355.16 683.20,355.25 684.87,355.33 686.54,355.43 688.22,355.52 689.92,355.61 691.62,355.71 693.33,355.80 695.04,355.90 696.77,355.99 698.51,356.08 700.25,356.18" fill="none" stroke="#d63a3a" stroke-width="1.3" stroke-linejoin="round"/>
<polyline clip-path="url(#c5)" points="544.81,332.84 544.83,332.89 544.87,333.02 544.93,333.22 545.01,333.48 545.11,333.79 545.23,334.14 545.37,334.53 545.52,334.96 545.68,335.42 545.87,335.90 546.07,336.40 546.28,336.92 546.51,337.44 546.75,337.98 547.00,338.51 547.27,339.05 547.56,339.58 547.86,340.11 548.17,340.63 548.49,341.13 548.83,341.62 549.18,342.10 549.54,342.56 549.92,343.01 550.31,343.43 550.71,343.84 551.13,344.23 551.56,344.60 552.00,344.96 552.45,345.29 552.91,345.61 553.39,345.90 553.88,346.19 554.38,346.45 554.89,346.70 555.41,346.94 555.95,347.16 556.50,347.36 557.06,347.56 557.63,347.74 558.21,347.91 558.81,348.07 559.41,348.22 560.03,348.37 560.66,348.50 561.30,348.62 561.95,348.74 562.61,348.85 563.28,348.96 563.97,349.05 564.66,349.15 565.37,349.23 566.08,349.31 566.81,349.39 567.55,349.46 568.30,349.53 569.06,349.59 569.83,349.65 570.61,349.71 571.41,349.76 572.21,349.81 573.02,349.85 573.85,349.89 574.68,349.93 575.53,349.97 576.38,350.01 577.25,350.04 578.13,350.07 579.01,350.09 579.91,350.12 580.82,350.14 581.74,350.16 582.67,350.18 583.60,350.20 584.55,350.22 585.51,350.23 586.48,350.25 587.46,350.26 588.45,350.27 589.45,350.28 590.46,350.29 591.48,350.30 592.51,350.30 593.55,350.31 594.60,350.32 595.65,350.33 596.72,350.33 597.80,350.34 598.89,350.35 599.99,350.35 601.10,350.36 602.22,350.36 603.35,350.37 604.48,350.37 605.63,350.37 606.79,350.37 607.95,350.37 609.13,350.37 610.32,350.37 611.51,350.37 612.72,350.37 613.93,350.36 615.16,350.35 616.39,350.34 617.64,350.33 618.89,350.32 620.15,350.31 621.42,350.29 622.71,350.26 624.00,350.24 625.30,350.21 626.61,350.18 627.93,350.15 629.26,350.12 630.59,350.08 631.94,350.05 633.30,350.01 634.66,349.97 636.04,349.94 637.42,349.90 638.82,349.87 640.22,349.83 641.63,349.80 643.05,349.78 644.48,349.75 645.92,349.73 647.37,349.71 648.83,349.70 650.30,349.69 651.78,349.68 653.26,349.67 654.76,349.66 656.26,349.65 657.77,349.65 659.29,349.65 660.83,349.65 662.37,349.65 663.91,349.65 665.47,349.66 667.04,349.67 668.62,349.68 670.20,349.69 671.79,349.71 673.40,349.72 675.01,349.74 676.63,349.76 678.26,349.79 679.90,349.82 681.55,349.86 683.20,349.89 684.87,349.93 686.54,349.97 688.22,350.01 689.92,350.06 691.62,350.10 693.33,350.14 695.04,350.19 696.77,350.23 698.51,350.27 700.25,350.31" fill="none" stroke="#2f8fe0" stroke-width="1.3" stroke-linejoin="round"/>
<polyline clip-path="url(#c5)" points="544.81,319.57 544.83,319.65 544.87,319.85 544.93,320.15 545.01,320.53 545.11,320.99 545.23,321.52 545.37,322.11 545.52,322.74 545.68,323.43 545.87,324.14 546.07,324.89 546.28,325.66 546.51,326.45 546.75,327.25 547.00,328.05 547.27,328.85 547.56,329.65 547.86,330.43 548.17,331.21 548.49,331.96 548.83,332.70 549.18,333.42 549.54,334.11 549.92,334.78 550.31,335.42 550.71,336.03 551.13,336.62 551.56,337.18 552.00,337.71 552.45,338.21 552.91,338.69 553.39,339.14 553.88,339.57 554.38,339.97 554.89,340.35 555.41,340.71 555.95,341.05 556.50,341.36 557.06,341.66 557.63,341.94 558.21,342.21 558.81,342.45 559.41,342.69 560.03,342.91 560.66,343.12 561.30,343.31 561.95,343.50 562.61,343.67 563.28,343.84 563.97,343.99 564.66,344.14 565.37,344.28 566.08,344.41 566.81,344.54 567.55,344.66 568.30,344.77 569.06,344.88 569.83,344.98 570.61,345.08 571.41,345.17 572.21,345.26 573.02,345.34 573.85,345.42 574.68,345.49 575.53,345.56 576.38,345.63 577.25,345.69 578.13,345.75 579.01,345.81 579.91,345.86 580.82,345.92 581.74,345.96 582.67,346.01 583.60,346.06 584.55,346.10 585.51,346.14 586.48,346.18 587.46,346.21 588.45,346.25 589.45,346.28 590.46,346.32 591.48,346.35 592.51,346.38 593.55,346.41 594.60,346.45 595.65,346.48 596.72,346.51 597.80,346.54 598.89,346.58 599.99,346.61 601.10,346.65 602.22,346.68 603.35,346.71 604.48,346.74 605.63,346.78 606.79,346.81 607.95,346.84 609.13,346.86 610.32,346.89 611.51,346.91 612.72,346.93 613.93,346.95 615.16,346.97 616.39,346.98 617.64,346.98 618.89,346.99 620.15,346.98 621.42,346.98 622.71,346.96 624.00,346.94 625.30,346.92 626.61,346.90 627.93,346.86 629.26,346.83 630.59,346.80 631.94,346.76 633.30,346.72 634.66,346.68 636.04,346.64 637.42,346.60 638.82,346.56 640.22,346.52 641.63,346.49 643.05,346.46 644.48,346.43 645.92,346.41 647.37,346.39 648.83,346.38 650.30,346.36 651.78,346.35 653.26,346.34 654.76,346.33 656.26,346.33 657.77,346.32 659.29,346.32 660.83,346.32 662.37,346.33 663.91,346.33 665.47,346.34 667.04,346.34 668.62,346.35 670.20,346.37 671.79,346.38 673.40,346.40 675.01,346.42 676.63,346.44 678.26,346.47 679.90,346.50 681.55,346.53 683.20,346.57 684.87,346.61 686.54,346.65 688.22,346.69 689.92,346.73 691.62,346.78 693.33,346.82 695.04,346.86 696.77,346.90 698.51,346.95 700.25,346.98" fill="none" stroke="#b8f070" stroke-width="1.3" stroke-linejoin="round"/>
<polyline clip-path="url(#c5)" points="544.81,305.12 544.83,305.23 544.87,305.50 544.93,305.91 545.01,306.43 545.11,307.06 545.23,307.78 545.37,308.59 545.52,309.46 545.68,310.39 545.87,311.38 546.07,312.40 546.28,313.46 546.51,314.54 546.75,315.63 547.00,316.73 547.27,317.83 547.56,318.93 547.86,320.01 548.17,321.07 548.49,322.11 548.83,323.13 549.18,324.12 549.54,325.07 549.92,325.99 550.31,326.88 550.71,327.73 551.13,328.54 551.56,329.32 552.00,330.06 552.45,330.76 552.91,331.42 553.39,332.05 553.88,332.65 554.38,333.21 554.89,333.74 555.41,334.24 555.95,334.72 556.50,335.16 557.06,335.58 557.63,335.98 558.21,336.35 558.81,336.70 559.41,337.03 560.03,337.35 560.66,337.64 561.30,337.92 561.95,338.19 562.61,338.44 563.28,338.68 563.97,338.90 564.66,339.12 565.37,339.32 566.08,339.51 566.81,339.69 567.55,339.87 568.30,340.03 569.06,340.19 569.83,340.34 570.61,340.48 571.41,340.62 572.21,340.75 573.02,340.87 573.85,340.99 574.68,341.10 575.53,341.20 576.38,341.30 577.25,341.40 578.13,341.49 579.01,341.57 579.91,341.66 580.82,341.74 581.74,341.81 582.67,341.88 583.60,341.95 584.55,342.02 585.51,342.08 586.48,342.14 587.46,342.20 588.45,342.25 589.45,342.31 590.46,342.36 591.48,342.41 592.51,342.46 593.55,342.51 594.60,342.56 595.65,342.61 596.72,342.66 597.80,342.71 598.89,342.76 599.99,342.81 601.10,342.86 602.22,342.91 603.35,342.96 604.48,343.00 605.63,343.05 606.79,343.10 607.95,343.14 609.13,343.18 610.32,343.23 611.51,343.27 612.72,343.30 613.93,343.34 615.16,343.37 616.39,343.40 617.64,343.43 618.89,343.45 620.15,343.47 621.42,343.49 622.71,343.50 624.00,343.51 625.30,343.52 626.61,343.53 627.93,343.53 629.26,343.54 630.59,343.54 631.94,343.54 633.30,343.54 634.66,343.54 636.04,343.53 637.42,343.53 638.82,343.52 640.22,343.51 641.63,343.50 643.05,343.49 644.48,343.48 645.92,343.47 647.37,343.46 648.83,343.44 650.30,343.42 651.78,343.40 653.26,343.38 654.76,343.35 656.26,343.32 657.77,343.29 659.29,343.26 660.83,343.23 662.37,343.20 663.91,343.17 665.47,343.14 667.04,343.12 668.62,343.10 670.20,343.09 671.79,343.08 673.40,343.07 675.01,343.08 676.63,343.08 678.26,343.10 679.90,343.11 681.55,343.13 683.20,343.16 684.87,343.19 686.54,343.21 688.22,343.25 689.92,343.28 691.62,343.31 693.33,343.34 695.04,343.38 696.77,343.41 698.51,343.44 700.25,343.46" fill="none" stroke="#f4a0a6" stroke-width="1.3" stroke-linejoin="round"/>
<polyline clip-path="url(#c5)" points="544.81,292.61 544.83,292.74 544.87,293.09 544.93,293.60 545.01,294.26 545.11,295.06 545.23,295.97 545.37,296.98 545.52,298.08 545.68,299.26 545.87,300.51 546.07,301.80 546.28,303.14 546.51,304.50 546.75,305.88 547.00,307.28 547.27,308.67 547.56,310.05 547.86,311.42 548.17,312.76 548.49,314.08 548.83,315.37 549.18,316.61 549.54,317.82 549.92,318.99 550.31,320.11 550.71,321.18 551.13,322.21 551.56,323.19 552.00,324.13 552.45,325.01 552.91,325.86 553.39,326.66 553.88,327.41 554.38,328.13 554.89,328.80 555.41,329.44 555.95,330.04 556.50,330.61 557.06,331.15 557.63,331.66 558.21,332.14 558.81,332.60 559.41,333.03 560.03,333.45 560.66,333.84 561.30,334.22 561.95,334.59 562.61,334.94 563.28,335.28 563.97,335.61 564.66,335.93 565.37,336.24 566.08,336.55 566.81,336.86 567.55,337.16 568.30,337.46 569.06,337.76 569.83,338.05 570.61,338.35 571.41,338.64 572.21,338.94 573.02,339.23 573.85,339.52 574.68,339.81 575.53,340.10 576.38,340.38 577.25,340.67 578.13,340.95 579.01,341.23 579.91,341.50 580.82,341.77 581.74,342.04 582.67,342.30 583.60,342.55 584.55,342.80 585.51,343.04 586.48,343.26 587.46,343.48 588.45,343.69 589.45,343.88 590.46,344.06 591.48,344.23 592.51,344.37 593.55,344.50 594.60,344.62 595.65,344.72 596.72,344.81 597.80,344.89 598.89,344.96 599.99,345.01 601.10,345.06 602.22,345.10 603.35,345.12 604.48,345.14 605.63,345.16 606.79,345.16 607.95,345.16 609.13,345.15 610.32,345.14 611.51,345.13 612.72,345.12 613.93,345.10 615.16,345.08 616.39,345.06 617.64,345.05 618.89,345.04 620.15,345.03 621.42,345.02 622.71,345.00 624.00,344.97 625.30,344.95 626.61,344.92 627.93,344.88 629.26,344.84 630.59,344.80 631.94,344.76 633.30,344.72 634.66,344.68 636.04,344.63 637.42,344.59 638.82,344.56 640.22,344.52 641.63,344.50 643.05,344.47 644.48,344.45 645.92,344.44 647.37,344.44 648.83,344.46 650.30,344.48 651.78,344.52 653.26,344.56 654.76,344.61 656.26,344.67 657.77,344.73 659.29,344.79 660.83,344.85 662.37,344.91 663.91,344.96 665.47,345.00 667.04,345.04 668.62,345.06 670.20,345.07 671.79,345.06 673.40,345.03 675.01,344.98 676.63,344.91 678.26,344.83 679.90,344.73 681.55,344.63 683.20,344.50 684.87,344.37 686.54,344.24 688.22,344.09 689.92,343.94 691.62,343.79 693.33,343.64 695.04,343.49 696.77,343.35 698.51,343.21 700.25,343.07" fill="none" stroke="#3a36d8" stroke-width="1.3" stroke-linejoin="round"/>
<polyline clip-path="url(#c5)" points="544.81,283.37 544.83,283.53 544.87,283.92 544.93,284.51 545.01,285.28 545.11,286.19 545.23,287.24 545.37,288.41 545.52,289.68 545.68,291.04 545.87,292.47 546.07,293.97 546.28,295.51 546.51,297.08 546.75,298.68 547.00,300.28 547.27,301.89 547.56,303.49 547.86,305.07 548.17,306.63 548.49,308.16 548.83,309.65 549.18,311.10 549.54,312.50 549.92,313.86 550.31,315.17 550.71,316.42 551.13,317.62 551.56,318.77 552.00,319.86 552.45,320.90 552.91,321.89 553.39,322.83 553.88,323.72 554.38,324.56 554.89,325.36 555.41,326.11 555.95,326.83 556.50,327.50 557.06,328.14 557.63,328.75 558.21,329.32 558.81,329.87 559.41,330.39 560.03,330.89 560.66,331.36 561.30,331.81 561.95,332.25 562.61,332.67 563.28,333.07 563.97,333.46 564.66,333.84 565.37,334.22 566.08,334.58 566.81,334.94 567.55,335.30 568.30,335.65 569.06,336.00 569.83,336.34 570.61,336.68 571.41,337.02 572.21,337.36 573.02,337.69 573.85,338.02 574.68,338.35 575.53,338.68 576.38,339.00 577.25,339.32 578.13,339.64 579.01,339.95 579.91,340.25 580.82,340.55 581.74,340.85 582.67,341.13 583.60,341.41 584.55,341.68 585.51,341.94 586.48,342.19 587.46,342.43 588.45,342.66 589.45,342.86 590.46,343.06 591.48,343.23 592.51,343.39 593.55,343.53 594.60,343.65 595.65,343.75 596.72,343.85 597.80,343.92 598.89,343.99 599.99,344.04 601.10,344.08 602.22,344.11 603.35,344.13 604.48,344.14 605.63,344.14 606.79,344.13 607.95,344.12 609.13,344.10 610.32,344.08 611.51,344.05 612.72,344.02 613.93,343.99 615.16,343.96 616.39,343.92 617.64,343.90 618.89,343.87 620.15,343.85 621.42,343.83 622.71,343.81 624.00,343.78 625.30,343.76 626.61,343.73 627.93,343.69 629.26,343.66 630.59,343.62 631.94,343.58 633.30,343.54 634.66,343.50 636.04,343.45 637.42,343.41 638.82,343.36 640.22,343.31 641.63,343.26 643.05,343.21 644.48,343.16 645.92,343.10 647.37,343.05 648.83,342.99 650.30,342.93 651.78,342.87 653.26,342.81 654.76,342.75 656.26,342.69 657.77,342.62 659.29,342.55 660.83,342.49 662.37,342.42 663.91,342.35 665.47,342.27 667.04,342.20 668.62,342.13 670.20,342.05 671.79,341.98 673.40,341.90 675.01,341.83 676.63,341.75 678.26,341.67 679.90,341.58 681.55,341.50 683.20,341.42 684.87,341.33 686.54,341.24 688.22,341.16 689.92,341.07 691.62,340.98 693.33,340.89 695.04,340.80 696.77,340.71 698.51,340.62 700.25,340.53" fill="none" stroke="#e048e0" stroke-width="1.3" stroke-linejoin="round"/>
<polyline clip-path="url(#c5)" points="544.81,262.36 544.83,262.57 544.87,263.09 544.93,263.87 545.01,264.87 545.11,266.07 545.23,267.46 545.37,269.00 545.52,270.67 545.68,272.46 545.87,274.36 546.07,276.33 546.28,278.36 546.51,280.44 546.75,282.55 547.00,284.67 547.27,286.80 547.56,288.92 547.86,291.02 548.17,293.08 548.49,295.11 548.83,297.09 549.18,299.02 549.54,300.89 549.92,302.70 550.31,304.44 550.71,306.12 551.13,307.73 551.56,309.26 552.00,310.73 552.45,312.13 552.91,313.47 553.39,314.73 553.88,315.94 554.38,317.08 554.89,318.16 555.41,319.19 555.95,320.16 556.50,321.08 557.06,321.95 557.63,322.78 558.21,323.57 558.81,324.32 559.41,325.03 560.03,325.70 560.66,326.35 561.30,326.96 561.95,327.55 562.61,328.12 563.28,328.66 563.97,329.18 564.66,329.69 565.37,330.18 566.08,330.65 566.81,331.11 567.55,331.56 568.30,332.00 569.06,332.42 569.83,332.85 570.61,333.26 571.41,333.66 572.21,334.06 573.02,334.45 573.85,334.83 574.68,335.20 575.53,335.57 576.38,335.93 577.25,336.28 578.13,336.62 579.01,336.95 579.91,337.28 580.82,337.60 581.74,337.91 582.67,338.20 583.60,338.49 584.55,338.77 585.51,339.03 586.48,339.28 587.46,339.52 588.45,339.74 589.45,339.95 590.46,340.14 591.48,340.31 592.51,340.46 593.55,340.59 594.60,340.71 595.65,340.80 596.72,340.88 597.80,340.95 598.89,341.00 599.99,341.04 601.10,341.06 602.22,341.08 603.35,341.08 604.48,341.07 605.63,341.05 606.79,341.02 607.95,340.99 609.13,340.95 610.32,340.91 611.51,340.86 612.72,340.81 613.93,340.75 615.16,340.70 616.39,340.65 617.64,340.60 618.89,340.56 620.15,340.52 621.42,340.48 622.71,340.44 624.00,340.40 625.30,340.35 626.61,340.30 627.93,340.24 629.26,340.19 630.59,340.13 631.94,340.07 633.30,340.01 634.66,339.95 636.04,339.90 637.42,339.84 638.82,339.79 640.22,339.74 641.63,339.69 643.05,339.64 644.48,339.60 645.92,339.57 647.37,339.54 648.83,339.52 650.30,339.50 651.78,339.48 653.26,339.47 654.76,339.46 656.26,339.46 657.77,339.46 659.29,339.46 660.83,339.47 662.37,339.47 663.91,339.48 665.47,339.49 667.04,339.50 668.62,339.52 670.20,339.53 671.79,339.54 673.40,339.55 675.01,339.57 676.63,339.58 678.26,339.60 679.90,339.62 681.55,339.64 683.20,339.67 684.87,339.69 686.54,339.72 688.22,339.75 689.92,339.78 691.62,339.81 693.33,339.83 695.04,339.86 696.77,339.89 698.51,339.92 700.25,339.95" fill="none" stroke="#58d058" stroke-width="1.3" stroke-linejoin="round"/>
<polyline clip-path="url(#c5)" points="544.81,247.46 544.83,247.70 544.87,248.29 544.93,249.17 545.01,250.30 545.11,251.66 545.23,253.23 545.37,254.97 545.52,256.87 545.68,258.90 545.87,261.04 546.07,263.27 546.28,265.58 546.51,267.94 546.75,270.33 547.00,272.74 547.27,275.16 547.56,277.56 547.86,279.94 548.17,282.29 548.49,284.60 548.83,286.85 549.18,289.04 549.54,291.17 549.92,293.23 550.31,295.22 550.71,297.13 551.13,298.97 551.56,300.72 552.00,302.40 552.45,304.00 552.91,305.53 553.39,306.98 553.88,308.36 554.38,309.67 554.89,310.92 555.41,312.10 555.95,313.22 556.50,314.29 557.06,315.30 557.63,316.27 558.21,317.18 558.81,318.06 559.41,318.89 560.03,319.69 560.66,320.45 561.30,321.19 561.95,321.90 562.61,322.58 563.28,323.24 563.97,323.89 564.66,324.51 565.37,325.13 566.08,325.73 566.81,326.32 567.55,326.91 568.30,327.50 569.06,328.08 569.83,328.66 570.61,329.23 571.41,329.80 572.21,330.37 573.02,330.93 573.85,331.49 574.68,332.05 575.53,332.60 576.38,333.15 577.25,333.69 578.13,334.23 579.01,334.75 579.91,335.27 580.82,335.78 581.74,336.28 582.67,336.76 583.60,337.23 584.55,337.68 585.51,338.11 586.48,338.52 587.46,338.91 588.45,339.28 589.45,339.61 590.46,339.92 591.48,340.19 592.51,340.42 593.55,340.62 594.60,340.78 595.65,340.91 596.72,341.01 597.80,341.08 598.89,341.12 599.99,341.14 601.10,341.13 602.22,341.10 603.35,341.04 604.48,340.97 605.63,340.89 606.79,340.79 607.95,340.67 609.13,340.55 610.32,340.42 611.51,340.29 612.72,340.16 613.93,340.03 615.16,339.91 616.39,339.79 617.64,339.69 618.89,339.61 620.15,339.54 621.42,339.48 622.71,339.42 624.00,339.36 625.30,339.31 626.61,339.26 627.93,339.20 629.26,339.15 630.59,339.10 631.94,339.05 633.30,339.00 634.66,338.96 636.04,338.91 637.42,338.87 638.82,338.82 640.22,338.78 641.63,338.73 643.05,338.69 644.48,338.64 645.92,338.60 647.37,338.55 648.83,338.51 650.30,338.46 651.78,338.41 653.26,338.36 654.76,338.31 656.26,338.26 657.77,338.21 659.29,338.16 660.83,338.12 662.37,338.08 663.91,338.05 665.47,338.02 667.04,338.00 668.62,337.98 670.20,337.98 671.79,337.98 673.40,337.99 675.01,338.01 676.63,338.05 678.26,338.09 679.90,338.15 681.55,338.21 683.20,338.29 684.87,338.37 686.54,338.45 688.22,338.54 689.92,338.63 691.62,338.72 693.33,338.82 695.04,338.91 696.77,339.00 698.51,339.08 700.25,339.16" fill="none" stroke="#333333" stroke-width="1.3" stroke-linejoin="round"/>
<rect x="526.4" y="226.3" width="187.3" height="149" fill="none" stroke="#333" stroke-width="1.15"/>
<line x1="539.45" y1="375.3" x2="539.45" y2="372.8" stroke="#222" stroke-width="1.1"/>
<line x1="539.45" y1="226.3" x2="539.45" y2="228.1" stroke="#222" stroke-width="1.1"/>
<text x="539.45" y="387.5" font-size="10.8" text-anchor="middle">0.0</text>
<line x1="566.25" y1="375.3" x2="566.25" y2="372.8" stroke="#222" stroke-width="1.1"/>
<line x1="566.25" y1="226.3" x2="566.25" y2="228.1" stroke="#222" stroke-width="1.1"/>
<text x="566.25" y="387.5" font-size="10.8" text-anchor="middle">0.5</text>
<line x1="593.05" y1="375.3" x2="593.05" y2="372.8" stroke="#222" stroke-width="1.1"/>
<line x1="593.05" y1="226.3" x2="593.05" y2="228.1" stroke="#222" stroke-width="1.1"/>
<text x="593.05" y="387.5" font-size="10.8" text-anchor="middle">1.0</text>
<line x1="619.85" y1="375.3" x2="619.85" y2="372.8" stroke="#222" stroke-width="1.1"/>
<line x1="619.85" y1="226.3" x2="619.85" y2="228.1" stroke="#222" stroke-width="1.1"/>
<text x="619.85" y="387.5" font-size="10.8" text-anchor="middle">1.5</text>
<line x1="646.65" y1="375.3" x2="646.65" y2="372.8" stroke="#222" stroke-width="1.1"/>
<line x1="646.65" y1="226.3" x2="646.65" y2="228.1" stroke="#222" stroke-width="1.1"/>
<text x="646.65" y="387.5" font-size="10.8" text-anchor="middle">2.0</text>
<line x1="673.45" y1="375.3" x2="673.45" y2="372.8" stroke="#222" stroke-width="1.1"/>
<line x1="673.45" y1="226.3" x2="673.45" y2="228.1" stroke="#222" stroke-width="1.1"/>
<text x="673.45" y="387.5" font-size="10.8" text-anchor="middle">2.5</text>
<line x1="700.25" y1="375.3" x2="700.25" y2="372.8" stroke="#222" stroke-width="1.1"/>
<line x1="700.25" y1="226.3" x2="700.25" y2="228.1" stroke="#222" stroke-width="1.1"/>
<text x="700.25" y="387.5" font-size="10.8" text-anchor="middle">3.0</text>
<line x1="526.4" y1="375.3" x2="528.9" y2="375.3" stroke="#222" stroke-width="1.1"/>
<text x="523.2" y="379.2" font-size="10.8" text-anchor="end">0.0</text>
<line x1="526.4" y1="345.5" x2="528.9" y2="345.5" stroke="#222" stroke-width="1.1"/>
<text x="523.2" y="349.4" font-size="10.8" text-anchor="end">0.2</text>
<line x1="526.4" y1="315.7" x2="528.9" y2="315.7" stroke="#222" stroke-width="1.1"/>
<text x="523.2" y="319.6" font-size="10.8" text-anchor="end">0.4</text>
<line x1="526.4" y1="285.9" x2="528.9" y2="285.9" stroke="#222" stroke-width="1.1"/>
<text x="523.2" y="289.8" font-size="10.8" text-anchor="end">0.6</text>
<line x1="526.4" y1="256.1" x2="528.9" y2="256.1" stroke="#222" stroke-width="1.1"/>
<text x="523.2" y="260" font-size="10.8" text-anchor="end">0.8</text>
<line x1="526.4" y1="226.3" x2="528.9" y2="226.3" stroke="#222" stroke-width="1.1"/>
<text x="523.2" y="230.2" font-size="10.8" text-anchor="end">1.0</text>
<text x="620.05" y="397.1" font-size="10.6" text-anchor="middle"><tspan font-style="italic">T</tspan>(s)</text>
<text x="0" y="0" font-size="11.2" text-anchor="middle" transform="translate(504.2 300.2) rotate(-90)"><tspan font-style="italic">C</tspan><tspan font-size="7.5" dy="2.5">r</tspan><tspan dy="-2.5"> , mean values</tspan></text>
<line x1="76.45" y1="421.4" x2="76.45" y2="566.7" stroke="#9a9a9a" stroke-width="1.05" stroke-dasharray="2.3 2.63"/>
<line x1="103.25" y1="421.4" x2="103.25" y2="566.7" stroke="#9a9a9a" stroke-width="1.05" stroke-dasharray="2.3 2.63"/>
<line x1="130.05" y1="421.4" x2="130.05" y2="566.7" stroke="#9a9a9a" stroke-width="1.05" stroke-dasharray="2.3 2.63"/>
<line x1="156.85" y1="421.4" x2="156.85" y2="566.7" stroke="#9a9a9a" stroke-width="1.05" stroke-dasharray="2.3 2.63"/>
<line x1="183.65" y1="421.4" x2="183.65" y2="566.7" stroke="#9a9a9a" stroke-width="1.05" stroke-dasharray="2.3 2.63"/>
<line x1="210.45" y1="421.4" x2="210.45" y2="566.7" stroke="#9a9a9a" stroke-width="1.05" stroke-dasharray="2.3 2.63"/>
<line x1="237.25" y1="421.4" x2="237.25" y2="566.7" stroke="#9a9a9a" stroke-width="1.05" stroke-dasharray="2.3 2.63"/>
<line x1="68.3" y1="536.9" x2="248.7" y2="536.9" stroke="#a6a6a6" stroke-width="1.1" stroke-dasharray="2.1 2.83"/>
<line x1="68.3" y1="507.1" x2="248.7" y2="507.1" stroke="#a6a6a6" stroke-width="1.1" stroke-dasharray="2.1 2.83"/>
<line x1="68.3" y1="477.3" x2="248.7" y2="477.3" stroke="#a6a6a6" stroke-width="1.1" stroke-dasharray="2.1 2.83"/>
<line x1="68.3" y1="447.5" x2="248.7" y2="447.5" stroke="#a6a6a6" stroke-width="1.1" stroke-dasharray="2.1 2.83"/>
<polyline clip-path="url(#c6)" points="81.81,531.54 81.83,531.58 81.87,531.67 81.93,531.82 82.01,532.00 82.11,532.23 82.23,532.49 82.37,532.77 82.52,533.08 82.68,533.42 82.87,533.77 83.07,534.13 83.28,534.51 83.51,534.89 83.75,535.28 84.00,535.67 84.27,536.05 84.56,536.44 84.86,536.82 85.17,537.20 85.49,537.56 85.83,537.92 86.18,538.26 86.54,538.60 86.92,538.92 87.31,539.23 87.71,539.52 88.13,539.80 88.56,540.07 89.00,540.32 89.45,540.56 89.91,540.79 90.39,541.00 90.88,541.20 91.38,541.39 91.89,541.57 92.41,541.74 92.95,541.89 93.50,542.04 94.06,542.18 94.63,542.31 95.21,542.43 95.81,542.54 96.41,542.65 97.03,542.75 97.66,542.84 98.30,542.93 98.95,543.01 99.61,543.08 100.28,543.16 100.97,543.22 101.66,543.28 102.37,543.34 103.08,543.40 103.81,543.45 104.55,543.50 105.30,543.54 106.06,543.59 106.83,543.63 107.61,543.67 108.41,543.70 109.21,543.74 110.02,543.77 110.85,543.80 111.68,543.83 112.53,543.86 113.38,543.89 114.25,543.91 115.13,543.93 116.01,543.95 116.91,543.97 117.82,543.99 118.74,544.00 119.67,544.01 120.60,544.02 121.55,544.03 122.51,544.03 123.48,544.04 124.46,544.04 125.45,544.04 126.45,544.03 127.46,544.03 128.48,544.02 129.51,544.00 130.55,543.99 131.60,543.97 132.65,543.95 133.72,543.92 134.80,543.89 135.89,543.86 136.99,543.83 138.10,543.79 139.22,543.75 140.35,543.71 141.48,543.66 142.63,543.62 143.79,543.57 144.95,543.52 146.13,543.47 147.32,543.42 148.51,543.37 149.72,543.31 150.93,543.26 152.16,543.21 153.39,543.16 154.64,543.11 155.89,543.06 157.15,543.01 158.42,542.96 159.71,542.90 161.00,542.85 162.30,542.79 163.61,542.73 164.93,542.67 166.26,542.61 167.59,542.55 168.94,542.49 170.30,542.43 171.66,542.37 173.04,542.31 174.42,542.26 175.82,542.21 177.22,542.17 178.63,542.13 180.05,542.09 181.48,542.07 182.92,542.05 184.37,542.04 185.83,542.03 187.30,542.04 188.78,542.05 190.26,542.07 191.76,542.10 193.26,542.13 194.77,542.16 196.29,542.20 197.83,542.25 199.37,542.29 200.91,542.34 202.47,542.39 204.04,542.44 205.62,542.49 207.20,542.54 208.79,542.58 210.40,542.63 212.01,542.67 213.63,542.71 215.26,542.76 216.90,542.80 218.55,542.85 220.20,542.90 221.87,542.95 223.54,543.00 225.22,543.05 226.92,543.10 228.62,543.15 230.33,543.20 232.04,543.26 233.77,543.31 235.51,543.36 237.25,543.41" fill="none" stroke="#d63a3a" stroke-width="1.3" stroke-linejoin="round"/>
<polyline clip-path="url(#c6)" points="81.81,507.99 81.83,508.09 81.87,508.31 81.93,508.65 82.01,509.08 82.11,509.60 82.23,510.19 82.37,510.85 82.52,511.58 82.68,512.34 82.87,513.16 83.07,514.00 83.28,514.87 83.51,515.76 83.75,516.65 84.00,517.56 84.27,518.46 84.56,519.35 84.86,520.24 85.17,521.11 85.49,521.96 85.83,522.78 86.18,523.59 86.54,524.36 86.92,525.11 87.31,525.82 87.71,526.51 88.13,527.16 88.56,527.78 89.00,528.37 89.45,528.93 89.91,529.46 90.39,529.96 90.88,530.43 91.38,530.87 91.89,531.29 92.41,531.68 92.95,532.05 93.50,532.39 94.06,532.72 94.63,533.02 95.21,533.31 95.81,533.58 96.41,533.84 97.03,534.07 97.66,534.30 98.30,534.52 98.95,534.72 99.61,534.91 100.28,535.09 100.97,535.27 101.66,535.44 102.37,535.60 103.08,535.75 103.81,535.90 104.55,536.04 105.30,536.18 106.06,536.31 106.83,536.44 107.61,536.57 108.41,536.69 109.21,536.81 110.02,536.93 110.85,537.04 111.68,537.15 112.53,537.26 113.38,537.36 114.25,537.46 115.13,537.56 116.01,537.66 116.91,537.75 117.82,537.85 118.74,537.93 119.67,538.02 120.60,538.10 121.55,538.18 122.51,538.26 123.48,538.33 124.46,538.40 125.45,538.47 126.45,538.53 127.46,538.59 128.48,538.64 129.51,538.69 130.55,538.74 131.60,538.78 132.65,538.82 133.72,538.86 134.80,538.90 135.89,538.93 136.99,538.96 138.10,538.99 139.22,539.02 140.35,539.05 141.48,539.07 142.63,539.09 143.79,539.11 144.95,539.12 146.13,539.13 147.32,539.14 148.51,539.15 149.72,539.15 150.93,539.15 152.16,539.15 153.39,539.14 154.64,539.13 155.89,539.12 157.15,539.10 158.42,539.08 159.71,539.05 161.00,539.01 162.30,538.97 163.61,538.92 164.93,538.87 166.26,538.82 167.59,538.76 168.94,538.70 170.30,538.63 171.66,538.57 173.04,538.51 174.42,538.44 175.82,538.38 177.22,538.33 178.63,538.27 180.05,538.22 181.48,538.18 182.92,538.15 184.37,538.12 185.83,538.09 187.30,538.07 188.78,538.05 190.26,538.04 191.76,538.03 193.26,538.02 194.77,538.01 196.29,538.01 197.83,538.01 199.37,538.01 200.91,538.02 202.47,538.03 204.04,538.04 205.62,538.06 207.20,538.08 208.79,538.10 210.40,538.13 212.01,538.16 213.63,538.20 215.26,538.25 216.90,538.30 218.55,538.35 220.20,538.41 221.87,538.48 223.54,538.55 225.22,538.62 226.92,538.69 228.62,538.76 230.33,538.83 232.04,538.90 233.77,538.97 235.51,539.04 237.25,539.11" fill="none" stroke="#2f8fe0" stroke-width="1.3" stroke-linejoin="round"/>
<polyline clip-path="url(#c6)" points="81.81,485.50 81.83,485.64 81.87,485.98 81.93,486.50 82.01,487.16 82.11,487.96 82.23,488.88 82.37,489.90 82.52,491.01 82.68,492.19 82.87,493.44 83.07,494.74 83.28,496.08 83.51,497.44 83.75,498.83 84.00,500.22 84.27,501.61 84.56,502.99 84.86,504.36 85.17,505.70 85.49,507.01 85.83,508.29 86.18,509.52 86.54,510.72 86.92,511.88 87.31,512.98 87.71,514.04 88.13,515.05 88.56,516.02 89.00,516.93 89.45,517.80 89.91,518.62 90.39,519.40 90.88,520.13 91.38,520.82 91.89,521.47 92.41,522.09 92.95,522.66 93.50,523.21 94.06,523.72 94.63,524.20 95.21,524.66 95.81,525.09 96.41,525.49 97.03,525.88 97.66,526.24 98.30,526.59 98.95,526.92 99.61,527.24 100.28,527.55 100.97,527.85 101.66,528.13 102.37,528.41 103.08,528.68 103.81,528.95 104.55,529.21 105.30,529.47 106.06,529.73 106.83,529.98 107.61,530.23 108.41,530.48 109.21,530.73 110.02,530.97 110.85,531.21 111.68,531.45 112.53,531.69 113.38,531.93 114.25,532.16 115.13,532.39 116.01,532.62 116.91,532.84 117.82,533.06 118.74,533.27 119.67,533.48 120.60,533.69 121.55,533.89 122.51,534.08 123.48,534.26 124.46,534.43 125.45,534.60 126.45,534.75 127.46,534.90 128.48,535.03 129.51,535.14 130.55,535.24 131.60,535.33 132.65,535.41 133.72,535.48 134.80,535.54 135.89,535.58 136.99,535.62 138.10,535.65 139.22,535.67 140.35,535.69 141.48,535.69 142.63,535.69 143.79,535.69 144.95,535.68 146.13,535.67 147.32,535.66 148.51,535.64 149.72,535.63 150.93,535.61 152.16,535.60 153.39,535.59 154.64,535.59 155.89,535.58 157.15,535.59 158.42,535.60 159.71,535.61 161.00,535.62 162.30,535.63 163.61,535.64 164.93,535.66 166.26,535.67 167.59,535.68 168.94,535.70 170.30,535.71 171.66,535.72 173.04,535.73 174.42,535.75 175.82,535.76 177.22,535.77 178.63,535.77 180.05,535.78 181.48,535.78 182.92,535.78 184.37,535.78 185.83,535.78 187.30,535.78 188.78,535.78 190.26,535.77 191.76,535.77 193.26,535.76 194.77,535.76 196.29,535.75 197.83,535.74 199.37,535.73 200.91,535.72 202.47,535.70 204.04,535.68 205.62,535.66 207.20,535.64 208.79,535.62 210.40,535.59 212.01,535.56 213.63,535.52 215.26,535.48 216.90,535.44 218.55,535.39 220.20,535.35 221.87,535.30 223.54,535.24 225.22,535.19 226.92,535.13 228.62,535.08 230.33,535.02 232.04,534.97 233.77,534.91 235.51,534.86 237.25,534.81" fill="none" stroke="#b8f070" stroke-width="1.3" stroke-linejoin="round"/>
<polyline clip-path="url(#c6)" points="81.81,470.15 81.83,470.32 81.87,470.74 81.93,471.37 82.01,472.19 82.11,473.16 82.23,474.28 82.37,475.53 82.52,476.89 82.68,478.34 82.87,479.87 83.07,481.46 83.28,483.10 83.51,484.77 83.75,486.47 84.00,488.18 84.27,489.88 84.56,491.58 84.86,493.25 85.17,494.90 85.49,496.51 85.83,498.09 86.18,499.61 86.54,501.09 86.92,502.51 87.31,503.88 87.71,505.19 88.13,506.44 88.56,507.63 89.00,508.77 89.45,509.84 89.91,510.86 90.39,511.83 90.88,512.74 91.38,513.60 91.89,514.42 92.41,515.18 92.95,515.91 93.50,516.59 94.06,517.23 94.63,517.84 95.21,518.42 95.81,518.96 96.41,519.48 97.03,519.97 97.66,520.43 98.30,520.88 98.95,521.31 99.61,521.72 100.28,522.11 100.97,522.49 101.66,522.86 102.37,523.23 103.08,523.58 103.81,523.93 104.55,524.27 105.30,524.61 106.06,524.95 106.83,525.29 107.61,525.62 108.41,525.95 109.21,526.28 110.02,526.61 110.85,526.93 111.68,527.25 112.53,527.57 113.38,527.89 114.25,528.21 115.13,528.52 116.01,528.82 116.91,529.12 117.82,529.42 118.74,529.71 119.67,529.99 120.60,530.27 121.55,530.54 122.51,530.79 123.48,531.04 124.46,531.27 125.45,531.49 126.45,531.69 127.46,531.88 128.48,532.05 129.51,532.20 130.55,532.32 131.60,532.43 132.65,532.52 133.72,532.60 134.80,532.66 135.89,532.70 136.99,532.73 138.10,532.75 139.22,532.75 140.35,532.75 141.48,532.73 142.63,532.71 143.79,532.67 144.95,532.64 146.13,532.59 147.32,532.55 148.51,532.50 149.72,532.45 150.93,532.41 152.16,532.36 153.39,532.33 154.64,532.30 155.89,532.27 157.15,532.26 158.42,532.26 159.71,532.25 161.00,532.25 162.30,532.24 163.61,532.24 164.93,532.24 166.26,532.24 167.59,532.24 168.94,532.24 170.30,532.25 171.66,532.25 173.04,532.25 174.42,532.25 175.82,532.26 177.22,532.26 178.63,532.26 180.05,532.26 181.48,532.27 182.92,532.27 184.37,532.26 185.83,532.26 187.30,532.26 188.78,532.25 190.26,532.25 191.76,532.24 193.26,532.24 194.77,532.23 196.29,532.23 197.83,532.22 199.37,532.22 200.91,532.22 202.47,532.22 204.04,532.22 205.62,532.23 207.20,532.24 208.79,532.25 210.40,532.26 212.01,532.28 213.63,532.31 215.26,532.33 216.90,532.36 218.55,532.40 220.20,532.43 221.87,532.47 223.54,532.51 225.22,532.55 226.92,532.60 228.62,532.64 230.33,532.69 232.04,532.73 233.77,532.77 235.51,532.81 237.25,532.85" fill="none" stroke="#f4a0a6" stroke-width="1.3" stroke-linejoin="round"/>
<polyline clip-path="url(#c6)" points="81.81,452.42 81.83,452.63 81.87,453.17 81.93,453.96 82.01,454.98 82.11,456.21 82.23,457.62 82.37,459.19 82.52,460.90 82.68,462.72 82.87,464.65 83.07,466.65 83.28,468.72 83.51,470.83 83.75,472.97 84.00,475.12 84.27,477.27 84.56,479.41 84.86,481.52 85.17,483.61 85.49,485.64 85.83,487.63 86.18,489.56 86.54,491.43 86.92,493.23 87.31,494.97 87.71,496.63 88.13,498.22 88.56,499.73 89.00,501.18 89.45,502.55 89.91,503.85 90.39,505.08 90.88,506.25 91.38,507.35 91.89,508.40 92.41,509.38 92.95,510.31 93.50,511.19 94.06,512.02 94.63,512.81 95.21,513.56 95.81,514.27 96.41,514.94 97.03,515.58 97.66,516.20 98.30,516.78 98.95,517.35 99.61,517.89 100.28,518.42 100.97,518.94 101.66,519.44 102.37,519.93 103.08,520.42 103.81,520.90 104.55,521.39 105.30,521.87 106.06,522.35 106.83,522.83 107.61,523.31 108.41,523.80 109.21,524.28 110.02,524.77 110.85,525.25 111.68,525.73 112.53,526.22 113.38,526.70 114.25,527.18 115.13,527.65 116.01,528.12 116.91,528.58 117.82,529.04 118.74,529.48 119.67,529.92 120.60,530.34 121.55,530.74 122.51,531.13 123.48,531.50 124.46,531.85 125.45,532.17 126.45,532.46 127.46,532.73 128.48,532.96 129.51,533.16 130.55,533.31 131.60,533.43 132.65,533.51 133.72,533.57 134.80,533.58 135.89,533.57 136.99,533.54 138.10,533.47 139.22,533.38 140.35,533.28 141.48,533.15 142.63,533.01 143.79,532.86 144.95,532.69 146.13,532.52 147.32,532.35 148.51,532.17 149.72,532.00 150.93,531.84 152.16,531.69 153.39,531.55 154.64,531.43 155.89,531.34 157.15,531.27 158.42,531.23 159.71,531.19 161.00,531.16 162.30,531.15 163.61,531.14 164.93,531.14 166.26,531.15 167.59,531.16 168.94,531.18 170.30,531.20 171.66,531.22 173.04,531.25 174.42,531.27 175.82,531.29 177.22,531.31 178.63,531.32 180.05,531.32 181.48,531.32 182.92,531.30 184.37,531.27 185.83,531.23 187.30,531.19 188.78,531.14 190.26,531.08 191.76,531.01 193.26,530.95 194.77,530.88 196.29,530.80 197.83,530.73 199.37,530.66 200.91,530.59 202.47,530.53 204.04,530.47 205.62,530.42 207.20,530.37 208.79,530.33 210.40,530.31 212.01,530.30 213.63,530.29 215.26,530.30 216.90,530.31 218.55,530.33 220.20,530.35 221.87,530.38 223.54,530.41 225.22,530.45 226.92,530.49 228.62,530.53 230.33,530.57 232.04,530.60 233.77,530.64 235.51,530.67 237.25,530.70" fill="none" stroke="#3a36d8" stroke-width="1.3" stroke-linejoin="round"/>
<polyline clip-path="url(#c6)" points="81.81,440.65 81.83,440.89 81.87,441.50 81.93,442.41 82.01,443.57 82.11,444.98 82.23,446.59 82.37,448.38 82.52,450.33 82.68,452.42 82.87,454.62 83.07,456.91 83.28,459.27 83.51,461.69 83.75,464.14 84.00,466.61 84.27,469.08 84.56,471.53 84.86,473.97 85.17,476.36 85.49,478.70 85.83,480.99 86.18,483.22 86.54,485.38 86.92,487.46 87.31,489.47 87.71,491.40 88.13,493.25 88.56,495.01 89.00,496.69 89.45,498.29 89.91,499.82 90.39,501.26 90.88,502.63 91.38,503.93 91.89,505.16 92.41,506.32 92.95,507.42 93.50,508.46 94.06,509.45 94.63,510.38 95.21,511.26 95.81,512.10 96.41,512.90 97.03,513.66 97.66,514.38 98.30,515.08 98.95,515.74 99.61,516.37 100.28,516.98 100.97,517.57 101.66,518.14 102.37,518.70 103.08,519.24 103.81,519.76 104.55,520.28 105.30,520.79 106.06,521.29 106.83,521.79 107.61,522.27 108.41,522.76 109.21,523.23 110.02,523.70 110.85,524.16 111.68,524.62 112.53,525.07 113.38,525.52 114.25,525.95 115.13,526.38 116.01,526.80 116.91,527.21 117.82,527.62 118.74,528.01 119.67,528.39 120.60,528.75 121.55,529.10 122.51,529.44 123.48,529.75 124.46,530.05 125.45,530.33 126.45,530.59 127.46,530.82 128.48,531.03 129.51,531.21 130.55,531.35 131.60,531.47 132.65,531.57 133.72,531.64 134.80,531.68 135.89,531.71 136.99,531.71 138.10,531.69 139.22,531.65 140.35,531.60 141.48,531.53 142.63,531.45 143.79,531.36 144.95,531.26 146.13,531.16 147.32,531.05 148.51,530.93 149.72,530.82 150.93,530.71 152.16,530.61 153.39,530.51 154.64,530.42 155.89,530.35 157.15,530.30 158.42,530.25 159.71,530.20 161.00,530.16 162.30,530.13 163.61,530.09 164.93,530.06 166.26,530.03 167.59,530.00 168.94,529.97 170.30,529.95 171.66,529.92 173.04,529.90 174.42,529.88 175.82,529.86 177.22,529.83 178.63,529.81 180.05,529.79 181.48,529.76 182.92,529.74 184.37,529.71 185.83,529.67 187.30,529.64 188.78,529.60 190.26,529.56 191.76,529.53 193.26,529.49 194.77,529.45 196.29,529.42 197.83,529.38 199.37,529.35 200.91,529.33 202.47,529.31 204.04,529.30 205.62,529.29 207.20,529.30 208.79,529.31 210.40,529.33 212.01,529.36 213.63,529.41 215.26,529.47 216.90,529.54 218.55,529.61 220.20,529.70 221.87,529.79 223.54,529.89 225.22,529.99 226.92,530.09 228.62,530.20 230.33,530.30 232.04,530.41 233.77,530.51 235.51,530.61 237.25,530.70" fill="none" stroke="#e048e0" stroke-width="1.3" stroke-linejoin="round"/>
<polyline clip-path="url(#c6)" points="81.81,389.85 81.83,390.24 81.87,391.19 81.93,392.60 82.01,394.43 82.11,396.62 82.23,399.13 82.37,401.93 82.52,404.98 82.68,408.24 82.87,411.68 83.07,415.27 83.28,418.97 83.51,422.76 83.75,426.60 84.00,430.47 84.27,434.34 84.56,438.20 84.86,442.02 85.17,445.78 85.49,449.48 85.83,453.09 86.18,456.60 86.54,460.01 86.92,463.31 87.31,466.49 87.71,469.55 88.13,472.49 88.56,475.29 89.00,477.98 89.45,480.54 89.91,482.97 90.39,485.29 90.88,487.49 91.38,489.58 91.89,491.56 92.41,493.43 92.95,495.21 93.50,496.90 94.06,498.49 94.63,500.01 95.21,501.44 95.81,502.81 96.41,504.10 97.03,505.33 97.66,506.49 98.30,507.60 98.95,508.66 99.61,509.67 100.28,510.63 100.97,511.56 101.66,512.44 102.37,513.28 103.08,514.09 103.81,514.87 104.55,515.62 105.30,516.35 106.06,517.05 106.83,517.72 107.61,518.38 108.41,519.01 109.21,519.62 110.02,520.21 110.85,520.78 111.68,521.33 112.53,521.87 113.38,522.38 114.25,522.88 115.13,523.36 116.01,523.82 116.91,524.26 117.82,524.69 118.74,525.09 119.67,525.48 120.60,525.85 121.55,526.20 122.51,526.53 123.48,526.85 124.46,527.14 125.45,527.41 126.45,527.66 127.46,527.89 128.48,528.09 129.51,528.27 130.55,528.42 131.60,528.56 132.65,528.66 133.72,528.75 134.80,528.81 135.89,528.85 136.99,528.88 138.10,528.88 139.22,528.87 140.35,528.85 141.48,528.81 142.63,528.76 143.79,528.69 144.95,528.62 146.13,528.54 147.32,528.45 148.51,528.36 149.72,528.27 150.93,528.17 152.16,528.08 153.39,527.99 154.64,527.90 155.89,527.82 157.15,527.75 158.42,527.68 159.71,527.60 161.00,527.52 162.30,527.43 163.61,527.35 164.93,527.26 166.26,527.17 167.59,527.08 168.94,526.99 170.30,526.90 171.66,526.82 173.04,526.74 174.42,526.67 175.82,526.60 177.22,526.54 178.63,526.49 180.05,526.45 181.48,526.42 182.92,526.40 184.37,526.40 185.83,526.40 187.30,526.42 188.78,526.45 190.26,526.50 191.76,526.55 193.26,526.61 194.77,526.68 196.29,526.76 197.83,526.85 199.37,526.94 200.91,527.05 202.47,527.16 204.04,527.27 205.62,527.39 207.20,527.51 208.79,527.64 210.40,527.76 212.01,527.90 213.63,528.04 215.26,528.20 216.90,528.36 218.55,528.54 220.20,528.72 221.87,528.91 223.54,529.10 225.22,529.30 226.92,529.50 228.62,529.70 230.33,529.90 232.04,530.11 233.77,530.31 235.51,530.51 237.25,530.70" fill="none" stroke="#58d058" stroke-width="1.3" stroke-linejoin="round"/>
<polyline clip-path="url(#c6)" points="81.81,373.97 81.83,374.39 81.87,375.43 81.93,376.98 82.01,378.98 82.11,381.37 82.23,384.13 82.37,387.19 82.52,390.53 82.68,394.11 82.87,397.88 83.07,401.82 83.28,405.88 83.51,410.03 83.75,414.25 84.00,418.50 84.27,422.76 84.56,427.00 84.86,431.21 85.17,435.35 85.49,439.43 85.83,443.41 86.18,447.29 86.54,451.06 86.92,454.71 87.31,458.23 87.71,461.62 88.13,464.88 88.56,468.00 89.00,470.99 89.45,473.84 89.91,476.55 90.39,479.14 90.88,481.60 91.38,483.95 91.89,486.17 92.41,488.28 92.95,490.28 93.50,492.18 94.06,493.99 94.63,495.70 95.21,497.32 95.81,498.87 96.41,500.34 97.03,501.73 97.66,503.06 98.30,504.33 98.95,505.53 99.61,506.68 100.28,507.78 100.97,508.83 101.66,509.84 102.37,510.80 103.08,511.72 103.81,512.61 104.55,513.46 105.30,514.28 106.06,515.06 106.83,515.82 107.61,516.55 108.41,517.26 109.21,517.94 110.02,518.60 110.85,519.23 111.68,519.83 112.53,520.42 113.38,520.98 114.25,521.52 115.13,522.04 116.01,522.54 116.91,523.02 117.82,523.48 118.74,523.91 119.67,524.33 120.60,524.72 121.55,525.09 122.51,525.44 123.48,525.77 124.46,526.08 125.45,526.37 126.45,526.63 127.46,526.87 128.48,527.09 129.51,527.28 130.55,527.45 131.60,527.60 132.65,527.72 133.72,527.81 134.80,527.88 135.89,527.94 136.99,527.97 138.10,527.98 139.22,527.98 140.35,527.96 141.48,527.93 142.63,527.89 143.79,527.83 144.95,527.76 146.13,527.69 147.32,527.61 148.51,527.53 149.72,527.44 150.93,527.35 152.16,527.26 153.39,527.18 154.64,527.10 155.89,527.03 157.15,526.97 158.42,526.91 159.71,526.85 161.00,526.78 162.30,526.72 163.61,526.65 164.93,526.58 166.26,526.51 167.59,526.45 168.94,526.38 170.30,526.32 171.66,526.26 173.04,526.21 174.42,526.16 175.82,526.12 177.22,526.08 178.63,526.05 180.05,526.03 181.48,526.01 182.92,526.01 184.37,526.01 185.83,526.03 187.30,526.05 188.78,526.09 190.26,526.13 191.76,526.18 193.26,526.25 194.77,526.32 196.29,526.39 197.83,526.48 199.37,526.57 200.91,526.67 202.47,526.78 204.04,526.89 205.62,527.00 207.20,527.12 208.79,527.25 210.40,527.37 212.01,527.51 213.63,527.65 215.26,527.81 216.90,527.97 218.55,528.14 220.20,528.33 221.87,528.51 223.54,528.71 225.22,528.91 226.92,529.11 228.62,529.31 230.33,529.51 232.04,529.72 233.77,529.92 235.51,530.12 237.25,530.31" fill="none" stroke="#333333" stroke-width="1.3" stroke-linejoin="round"/>
<rect x="63.4" y="417.7" width="187.3" height="149" fill="none" stroke="#333" stroke-width="1.15"/>
<line x1="76.45" y1="566.7" x2="76.45" y2="564.2" stroke="#222" stroke-width="1.1"/>
<line x1="76.45" y1="417.7" x2="76.45" y2="419.5" stroke="#222" stroke-width="1.1"/>
<text x="76.45" y="578.9" font-size="10.8" text-anchor="middle">0.0</text>
<line x1="103.25" y1="566.7" x2="103.25" y2="564.2" stroke="#222" stroke-width="1.1"/>
<line x1="103.25" y1="417.7" x2="103.25" y2="419.5" stroke="#222" stroke-width="1.1"/>
<text x="103.25" y="578.9" font-size="10.8" text-anchor="middle">0.5</text>
<line x1="130.05" y1="566.7" x2="130.05" y2="564.2" stroke="#222" stroke-width="1.1"/>
<line x1="130.05" y1="417.7" x2="130.05" y2="419.5" stroke="#222" stroke-width="1.1"/>
<text x="130.05" y="578.9" font-size="10.8" text-anchor="middle">1.0</text>
<line x1="156.85" y1="566.7" x2="156.85" y2="564.2" stroke="#222" stroke-width="1.1"/>
<line x1="156.85" y1="417.7" x2="156.85" y2="419.5" stroke="#222" stroke-width="1.1"/>
<text x="156.85" y="578.9" font-size="10.8" text-anchor="middle">1.5</text>
<line x1="183.65" y1="566.7" x2="183.65" y2="564.2" stroke="#222" stroke-width="1.1"/>
<line x1="183.65" y1="417.7" x2="183.65" y2="419.5" stroke="#222" stroke-width="1.1"/>
<text x="183.65" y="578.9" font-size="10.8" text-anchor="middle">2.0</text>
<line x1="210.45" y1="566.7" x2="210.45" y2="564.2" stroke="#222" stroke-width="1.1"/>
<line x1="210.45" y1="417.7" x2="210.45" y2="419.5" stroke="#222" stroke-width="1.1"/>
<text x="210.45" y="578.9" font-size="10.8" text-anchor="middle">2.5</text>
<line x1="237.25" y1="566.7" x2="237.25" y2="564.2" stroke="#222" stroke-width="1.1"/>
<line x1="237.25" y1="417.7" x2="237.25" y2="419.5" stroke="#222" stroke-width="1.1"/>
<text x="237.25" y="578.9" font-size="10.8" text-anchor="middle">3.0</text>
<line x1="63.4" y1="566.7" x2="65.9" y2="566.7" stroke="#222" stroke-width="1.1"/>
<text x="60.2" y="570.6" font-size="10.8" text-anchor="end">0.0</text>
<line x1="63.4" y1="536.9" x2="65.9" y2="536.9" stroke="#222" stroke-width="1.1"/>
<text x="60.2" y="540.8" font-size="10.8" text-anchor="end">0.2</text>
<line x1="63.4" y1="507.1" x2="65.9" y2="507.1" stroke="#222" stroke-width="1.1"/>
<text x="60.2" y="511" font-size="10.8" text-anchor="end">0.4</text>
<line x1="63.4" y1="477.3" x2="65.9" y2="477.3" stroke="#222" stroke-width="1.1"/>
<text x="60.2" y="481.2" font-size="10.8" text-anchor="end">0.6</text>
<line x1="63.4" y1="447.5" x2="65.9" y2="447.5" stroke="#222" stroke-width="1.1"/>
<text x="60.2" y="451.4" font-size="10.8" text-anchor="end">0.8</text>
<line x1="63.4" y1="417.7" x2="65.9" y2="417.7" stroke="#222" stroke-width="1.1"/>
<text x="60.2" y="421.6" font-size="10.8" text-anchor="end">1.0</text>
<text x="157.05" y="588.5" font-size="10.6" text-anchor="middle"><tspan font-style="italic">T</tspan>(s)</text>
<text x="0" y="0" font-size="11.2" text-anchor="middle" transform="translate(41.2 491.6) rotate(-90)"><tspan font-style="italic">C</tspan><tspan font-size="7.5" dy="2.5">r</tspan><tspan dy="-2.5"> , mean values</tspan></text>
<line x1="307.75" y1="421.4" x2="307.75" y2="566.7" stroke="#9a9a9a" stroke-width="1.05" stroke-dasharray="2.3 2.63"/>
<line x1="334.55" y1="421.4" x2="334.55" y2="566.7" stroke="#9a9a9a" stroke-width="1.05" stroke-dasharray="2.3 2.63"/>
<line x1="361.35" y1="421.4" x2="361.35" y2="566.7" stroke="#9a9a9a" stroke-width="1.05" stroke-dasharray="2.3 2.63"/>
<line x1="388.15" y1="421.4" x2="388.15" y2="566.7" stroke="#9a9a9a" stroke-width="1.05" stroke-dasharray="2.3 2.63"/>
<line x1="414.95" y1="421.4" x2="414.95" y2="566.7" stroke="#9a9a9a" stroke-width="1.05" stroke-dasharray="2.3 2.63"/>
<line x1="441.75" y1="421.4" x2="441.75" y2="566.7" stroke="#9a9a9a" stroke-width="1.05" stroke-dasharray="2.3 2.63"/>
<line x1="468.55" y1="421.4" x2="468.55" y2="566.7" stroke="#9a9a9a" stroke-width="1.05" stroke-dasharray="2.3 2.63"/>
<line x1="299.6" y1="536.9" x2="480" y2="536.9" stroke="#a6a6a6" stroke-width="1.1" stroke-dasharray="2.1 2.83"/>
<line x1="299.6" y1="507.1" x2="480" y2="507.1" stroke="#a6a6a6" stroke-width="1.1" stroke-dasharray="2.1 2.83"/>
<line x1="299.6" y1="477.3" x2="480" y2="477.3" stroke="#a6a6a6" stroke-width="1.1" stroke-dasharray="2.1 2.83"/>
<line x1="299.6" y1="447.5" x2="480" y2="447.5" stroke="#a6a6a6" stroke-width="1.1" stroke-dasharray="2.1 2.83"/>
<polyline clip-path="url(#c7)" points="313.11,531.24 313.13,531.28 313.17,531.38 313.23,531.54 313.31,531.74 313.41,531.98 313.53,532.26 313.67,532.57 313.82,532.90 313.98,533.26 314.17,533.63 314.37,534.02 314.58,534.43 314.81,534.84 315.05,535.25 315.30,535.67 315.57,536.09 315.86,536.50 316.16,536.91 316.47,537.31 316.79,537.71 317.13,538.09 317.48,538.46 317.84,538.81 318.22,539.16 318.61,539.48 319.01,539.80 319.43,540.10 319.86,540.38 320.30,540.65 320.75,540.91 321.21,541.15 321.69,541.38 322.18,541.59 322.68,541.79 323.19,541.98 323.71,542.16 324.25,542.33 324.80,542.48 325.36,542.63 325.93,542.76 326.51,542.89 327.11,543.01 327.71,543.13 328.33,543.24 328.96,543.34 329.60,543.43 330.25,543.52 330.91,543.61 331.58,543.69 332.27,543.77 332.96,543.84 333.67,543.91 334.38,543.98 335.11,544.05 335.85,544.11 336.60,544.18 337.36,544.24 338.13,544.31 338.91,544.37 339.71,544.43 340.51,544.49 341.32,544.55 342.15,544.61 342.98,544.67 343.83,544.73 344.68,544.79 345.55,544.84 346.43,544.90 347.31,544.95 348.21,545.00 349.12,545.05 350.04,545.10 350.97,545.14 351.90,545.18 352.85,545.22 353.81,545.26 354.78,545.29 355.76,545.31 356.75,545.34 357.75,545.35 358.76,545.36 359.78,545.37 360.81,545.37 361.85,545.36 362.90,545.35 363.95,545.32 365.02,545.30 366.10,545.26 367.19,545.22 368.29,545.18 369.40,545.12 370.52,545.07 371.65,545.01 372.78,544.95 373.93,544.88 375.09,544.81 376.25,544.73 377.43,544.66 378.62,544.58 379.81,544.50 381.02,544.42 382.23,544.35 383.46,544.27 384.69,544.19 385.94,544.12 387.19,544.05 388.45,543.98 389.72,543.91 391.01,543.84 392.30,543.76 393.60,543.69 394.91,543.61 396.23,543.52 397.56,543.44 398.89,543.36 400.24,543.28 401.60,543.20 402.96,543.12 404.34,543.04 405.72,542.97 407.12,542.90 408.52,542.83 409.93,542.78 411.35,542.72 412.78,542.68 414.22,542.64 415.67,542.62 417.13,542.60 418.60,542.58 420.08,542.57 421.56,542.57 423.06,542.58 424.56,542.59 426.07,542.61 427.59,542.63 429.13,542.65 430.67,542.69 432.21,542.72 433.77,542.76 435.34,542.81 436.92,542.85 438.50,542.91 440.09,542.96 441.70,543.02 443.31,543.08 444.93,543.15 446.56,543.23 448.20,543.31 449.85,543.41 451.50,543.50 453.17,543.60 454.84,543.71 456.52,543.82 458.22,543.93 459.92,544.04 461.63,544.15 463.34,544.26 465.07,544.37 466.81,544.48 468.55,544.58" fill="none" stroke="#d63a3a" stroke-width="1.3" stroke-linejoin="round"/>
<polyline clip-path="url(#c7)" points="313.11,509.48 313.13,509.57 313.17,509.78 313.23,510.09 313.31,510.49 313.41,510.97 313.53,511.52 313.67,512.13 313.82,512.80 313.98,513.51 314.17,514.26 314.37,515.04 314.58,515.84 314.81,516.66 315.05,517.49 315.30,518.33 315.57,519.16 315.86,519.99 316.16,520.80 316.47,521.61 316.79,522.39 317.13,523.15 317.48,523.89 317.84,524.61 318.22,525.29 318.61,525.95 319.01,526.58 319.43,527.18 319.86,527.76 320.30,528.30 320.75,528.81 321.21,529.30 321.69,529.75 322.18,530.19 322.68,530.59 323.19,530.97 323.71,531.33 324.25,531.67 324.80,531.99 325.36,532.29 325.93,532.57 326.51,532.83 327.11,533.08 327.71,533.32 328.33,533.54 328.96,533.75 329.60,533.95 330.25,534.14 330.91,534.33 331.58,534.50 332.27,534.68 332.96,534.84 333.67,535.00 334.38,535.16 335.11,535.32 335.85,535.47 336.60,535.62 337.36,535.77 338.13,535.92 338.91,536.06 339.71,536.21 340.51,536.35 341.32,536.50 342.15,536.64 342.98,536.78 343.83,536.92 344.68,537.06 345.55,537.20 346.43,537.33 347.31,537.47 348.21,537.60 349.12,537.73 350.04,537.86 350.97,537.99 351.90,538.12 352.85,538.24 353.81,538.36 354.78,538.47 355.76,538.59 356.75,538.69 357.75,538.80 358.76,538.89 359.78,538.98 360.81,539.07 361.85,539.14 362.90,539.22 363.95,539.29 365.02,539.36 366.10,539.43 367.19,539.50 368.29,539.56 369.40,539.63 370.52,539.68 371.65,539.74 372.78,539.79 373.93,539.84 375.09,539.89 376.25,539.93 377.43,539.97 378.62,540.00 379.81,540.03 381.02,540.05 382.23,540.07 383.46,540.09 384.69,540.10 385.94,540.10 387.19,540.09 388.45,540.08 389.72,540.06 391.01,540.03 392.30,539.98 393.60,539.93 394.91,539.86 396.23,539.79 397.56,539.71 398.89,539.63 400.24,539.54 401.60,539.45 402.96,539.36 404.34,539.27 405.72,539.17 407.12,539.09 408.52,539.00 409.93,538.92 411.35,538.85 412.78,538.79 414.22,538.74 415.67,538.70 417.13,538.67 418.60,538.64 420.08,538.62 421.56,538.60 423.06,538.58 424.56,538.57 426.07,538.57 427.59,538.57 429.13,538.57 430.67,538.58 432.21,538.59 433.77,538.60 435.34,538.62 436.92,538.64 438.50,538.66 440.09,538.69 441.70,538.72 443.31,538.75 444.93,538.79 446.56,538.83 448.20,538.88 449.85,538.94 451.50,539.00 453.17,539.06 454.84,539.13 456.52,539.20 458.22,539.27 459.92,539.35 461.63,539.42 463.34,539.49 465.07,539.56 466.81,539.63 468.55,539.69" fill="none" stroke="#2f8fe0" stroke-width="1.3" stroke-linejoin="round"/>
<polyline clip-path="url(#c7)" points="313.11,488.62 313.13,488.76 313.17,489.08 313.23,489.57 313.31,490.19 313.41,490.95 313.53,491.81 313.67,492.77 313.82,493.81 313.98,494.93 314.17,496.10 314.37,497.32 314.58,498.58 314.81,499.87 315.05,501.17 315.30,502.48 315.57,503.79 315.86,505.09 316.16,506.38 316.47,507.64 316.79,508.87 317.13,510.08 317.48,511.24 317.84,512.37 318.22,513.46 318.61,514.50 319.01,515.50 319.43,516.45 319.86,517.36 320.30,518.22 320.75,519.04 321.21,519.81 321.69,520.54 322.18,521.24 322.68,521.89 323.19,522.50 323.71,523.08 324.25,523.62 324.80,524.13 325.36,524.61 325.93,525.07 326.51,525.50 327.11,525.90 327.71,526.28 328.33,526.65 328.96,526.99 329.60,527.32 330.25,527.63 330.91,527.93 331.58,528.22 332.27,528.49 332.96,528.76 333.67,529.02 334.38,529.27 335.11,529.52 335.85,529.76 336.60,530.00 337.36,530.24 338.13,530.47 338.91,530.70 339.71,530.92 340.51,531.15 341.32,531.37 342.15,531.58 342.98,531.80 343.83,532.01 344.68,532.22 345.55,532.43 346.43,532.64 347.31,532.84 348.21,533.04 349.12,533.24 350.04,533.43 350.97,533.61 351.90,533.80 352.85,533.97 353.81,534.15 354.78,534.31 355.76,534.47 356.75,534.62 357.75,534.77 358.76,534.90 359.78,535.03 360.81,535.14 361.85,535.25 362.90,535.34 363.95,535.43 365.02,535.51 366.10,535.59 367.19,535.65 368.29,535.72 369.40,535.77 370.52,535.82 371.65,535.87 372.78,535.91 373.93,535.94 375.09,535.98 376.25,536.00 377.43,536.03 378.62,536.05 379.81,536.07 381.02,536.09 382.23,536.10 383.46,536.12 384.69,536.13 385.94,536.15 387.19,536.16 388.45,536.18 389.72,536.19 391.01,536.21 392.30,536.22 393.60,536.22 394.91,536.23 396.23,536.23 397.56,536.23 398.89,536.23 400.24,536.23 401.60,536.22 402.96,536.22 404.34,536.21 405.72,536.21 407.12,536.20 408.52,536.19 409.93,536.19 411.35,536.18 412.78,536.18 414.22,536.18 415.67,536.17 417.13,536.18 418.60,536.18 420.08,536.19 421.56,536.19 423.06,536.20 424.56,536.21 426.07,536.22 427.59,536.23 429.13,536.24 430.67,536.24 432.21,536.25 433.77,536.25 435.34,536.24 436.92,536.23 438.50,536.22 440.09,536.20 441.70,536.18 443.31,536.14 444.93,536.10 446.56,536.06 448.20,536.01 449.85,535.95 451.50,535.89 453.17,535.83 454.84,535.76 456.52,535.69 458.22,535.62 459.92,535.55 461.63,535.47 463.34,535.40 465.07,535.33 466.81,535.26 468.55,535.20" fill="none" stroke="#b8f070" stroke-width="1.3" stroke-linejoin="round"/>
<polyline clip-path="url(#c7)" points="313.11,473.43 313.13,473.59 313.17,474.00 313.23,474.60 313.31,475.38 313.41,476.31 313.53,477.39 313.67,478.58 313.82,479.88 313.98,481.27 314.17,482.73 314.37,484.25 314.58,485.82 314.81,487.43 315.05,489.05 315.30,490.69 315.57,492.32 315.86,493.95 316.16,495.55 316.47,497.13 316.79,498.68 317.13,500.18 317.48,501.65 317.84,503.06 318.22,504.43 318.61,505.74 319.01,507.00 319.43,508.20 319.86,509.35 320.30,510.44 320.75,511.47 321.21,512.45 321.69,513.38 322.18,514.26 322.68,515.09 323.19,515.88 323.71,516.61 324.25,517.31 324.80,517.97 325.36,518.59 325.93,519.17 326.51,519.72 327.11,520.25 327.71,520.74 328.33,521.21 328.96,521.65 329.60,522.07 330.25,522.48 330.91,522.86 331.58,523.23 332.27,523.58 332.96,523.92 333.67,524.25 334.38,524.57 335.11,524.88 335.85,525.17 336.60,525.47 337.36,525.75 338.13,526.03 338.91,526.30 339.71,526.57 340.51,526.83 341.32,527.08 342.15,527.33 342.98,527.57 343.83,527.81 344.68,528.05 345.55,528.28 346.43,528.51 347.31,528.73 348.21,528.95 349.12,529.16 350.04,529.36 350.97,529.57 351.90,529.76 352.85,529.95 353.81,530.14 354.78,530.31 355.76,530.48 356.75,530.65 357.75,530.80 358.76,530.95 359.78,531.09 360.81,531.22 361.85,531.34 362.90,531.46 363.95,531.57 365.02,531.67 366.10,531.77 367.19,531.86 368.29,531.94 369.40,532.02 370.52,532.10 371.65,532.17 372.78,532.24 373.93,532.30 375.09,532.36 376.25,532.42 377.43,532.47 378.62,532.52 379.81,532.57 381.02,532.62 382.23,532.66 383.46,532.70 384.69,532.74 385.94,532.78 387.19,532.82 388.45,532.86 389.72,532.90 391.01,532.93 392.30,532.97 393.60,533.00 394.91,533.03 396.23,533.06 397.56,533.08 398.89,533.11 400.24,533.13 401.60,533.15 402.96,533.17 404.34,533.19 405.72,533.20 407.12,533.21 408.52,533.22 409.93,533.23 411.35,533.24 412.78,533.24 414.22,533.24 415.67,533.24 417.13,533.24 418.60,533.23 420.08,533.22 421.56,533.20 423.06,533.18 424.56,533.16 426.07,533.14 427.59,533.12 429.13,533.09 430.67,533.06 432.21,533.03 433.77,533.00 435.34,532.97 436.92,532.94 438.50,532.91 440.09,532.88 441.70,532.85 443.31,532.82 444.93,532.79 446.56,532.76 448.20,532.72 449.85,532.69 451.50,532.65 453.17,532.61 454.84,532.58 456.52,532.54 458.22,532.50 459.92,532.46 461.63,532.42 463.34,532.38 465.07,532.34 466.81,532.30 468.55,532.26" fill="none" stroke="#f4a0a6" stroke-width="1.3" stroke-linejoin="round"/>
<polyline clip-path="url(#c7)" points="313.11,453.46 313.13,453.67 313.17,454.19 313.23,454.97 313.31,455.97 313.41,457.17 313.53,458.55 313.67,460.09 313.82,461.76 313.98,463.55 314.17,465.43 314.37,467.39 314.58,469.41 314.81,471.48 315.05,473.57 315.30,475.68 315.57,477.79 315.86,479.88 316.16,481.95 316.47,483.99 316.79,485.98 317.13,487.92 317.48,489.81 317.84,491.64 318.22,493.40 318.61,495.10 319.01,496.72 319.43,498.28 319.86,499.76 320.30,501.17 320.75,502.51 321.21,503.78 321.69,504.99 322.18,506.13 322.68,507.21 323.19,508.23 323.71,509.19 324.25,510.10 324.80,510.96 325.36,511.77 325.93,512.54 326.51,513.27 327.11,513.96 327.71,514.62 328.33,515.25 328.96,515.85 329.60,516.43 330.25,516.99 330.91,517.53 331.58,518.05 332.27,518.56 332.96,519.05 333.67,519.54 334.38,520.03 335.11,520.51 335.85,520.99 336.60,521.48 337.36,521.96 338.13,522.44 338.91,522.92 339.71,523.41 340.51,523.89 341.32,524.38 342.15,524.87 342.98,525.35 343.83,525.84 344.68,526.33 345.55,526.81 346.43,527.29 347.31,527.77 348.21,528.24 349.12,528.71 350.04,529.16 350.97,529.61 351.90,530.05 352.85,530.47 353.81,530.88 354.78,531.27 355.76,531.65 356.75,532.00 357.75,532.32 358.76,532.62 359.78,532.89 360.81,533.13 361.85,533.33 362.90,533.51 363.95,533.66 365.02,533.78 366.10,533.88 367.19,533.95 368.29,534.01 369.40,534.04 370.52,534.05 371.65,534.05 372.78,534.03 373.93,534.00 375.09,533.95 376.25,533.90 377.43,533.83 378.62,533.76 379.81,533.69 381.02,533.61 382.23,533.53 383.46,533.45 384.69,533.39 385.94,533.32 387.19,533.27 388.45,533.23 389.72,533.20 391.01,533.16 392.30,533.12 393.60,533.08 394.91,533.04 396.23,533.00 397.56,532.95 398.89,532.91 400.24,532.86 401.60,532.81 402.96,532.76 404.34,532.71 405.72,532.65 407.12,532.60 408.52,532.54 409.93,532.48 411.35,532.42 412.78,532.36 414.22,532.30 415.67,532.23 417.13,532.16 418.60,532.08 420.08,531.99 421.56,531.90 423.06,531.80 424.56,531.71 426.07,531.61 427.59,531.51 429.13,531.42 430.67,531.32 432.21,531.24 433.77,531.16 435.34,531.08 436.92,531.02 438.50,530.96 440.09,530.92 441.70,530.90 443.31,530.89 444.93,530.89 446.56,530.91 448.20,530.93 449.85,530.97 451.50,531.02 453.17,531.08 454.84,531.14 456.52,531.21 458.22,531.28 459.92,531.35 461.63,531.42 463.34,531.49 465.07,531.56 466.81,531.62 468.55,531.68" fill="none" stroke="#3a36d8" stroke-width="1.3" stroke-linejoin="round"/>
<polyline clip-path="url(#c7)" points="313.11,445.86 313.13,446.09 313.17,446.65 313.23,447.49 313.31,448.57 313.41,449.86 313.53,451.35 313.67,453.00 313.82,454.81 313.98,456.73 314.17,458.77 314.37,460.88 314.58,463.06 314.81,465.30 315.05,467.56 315.30,469.83 315.57,472.11 315.86,474.38 316.16,476.62 316.47,478.83 316.79,480.99 317.13,483.10 317.48,485.15 317.84,487.14 318.22,489.06 318.61,490.91 319.01,492.68 319.43,494.38 319.86,496.00 320.30,497.55 320.75,499.02 321.21,500.42 321.69,501.74 322.18,503.00 322.68,504.19 323.19,505.32 323.71,506.38 324.25,507.39 324.80,508.35 325.36,509.25 325.93,510.11 326.51,510.92 327.11,511.70 327.71,512.44 328.33,513.14 328.96,513.81 329.60,514.46 330.25,515.08 330.91,515.68 331.58,516.26 332.27,516.83 332.96,517.38 333.67,517.92 334.38,518.45 335.11,518.98 335.85,519.51 336.60,520.03 337.36,520.56 338.13,521.08 338.91,521.60 339.71,522.12 340.51,522.64 341.32,523.16 342.15,523.68 342.98,524.20 343.83,524.71 344.68,525.22 345.55,525.73 346.43,526.24 347.31,526.73 348.21,527.22 349.12,527.71 350.04,528.18 350.97,528.64 351.90,529.09 352.85,529.52 353.81,529.94 354.78,530.33 355.76,530.71 356.75,531.06 357.75,531.38 358.76,531.67 359.78,531.94 360.81,532.16 361.85,532.35 362.90,532.50 363.95,532.63 365.02,532.72 366.10,532.78 367.19,532.81 368.29,532.82 369.40,532.81 370.52,532.77 371.65,532.72 372.78,532.64 373.93,532.55 375.09,532.45 376.25,532.34 377.43,532.22 378.62,532.09 379.81,531.96 381.02,531.83 382.23,531.71 383.46,531.60 384.69,531.49 385.94,531.40 387.19,531.33 388.45,531.28 389.72,531.24 391.01,531.20 392.30,531.17 393.60,531.15 394.91,531.13 396.23,531.11 397.56,531.10 398.89,531.09 400.24,531.08 401.60,531.07 402.96,531.07 404.34,531.06 405.72,531.05 407.12,531.04 408.52,531.02 409.93,531.01 411.35,530.98 412.78,530.95 414.22,530.92 415.67,530.87 417.13,530.81 418.60,530.75 420.08,530.67 421.56,530.58 423.06,530.49 424.56,530.40 426.07,530.30 427.59,530.20 429.13,530.11 430.67,530.02 432.21,529.94 433.77,529.86 435.34,529.80 436.92,529.75 438.50,529.72 440.09,529.71 441.70,529.72 443.31,529.75 444.93,529.81 446.56,529.88 448.20,529.97 449.85,530.08 451.50,530.20 453.17,530.33 454.84,530.48 456.52,530.63 458.22,530.78 459.92,530.94 461.63,531.10 463.34,531.25 465.07,531.40 466.81,531.54 468.55,531.68" fill="none" stroke="#e048e0" stroke-width="1.3" stroke-linejoin="round"/>
<polyline clip-path="url(#c7)" points="313.11,405.54 313.13,405.88 313.17,406.71 313.23,407.95 313.31,409.56 313.41,411.48 313.53,413.69 313.67,416.15 313.82,418.83 313.98,421.69 314.17,424.72 314.37,427.87 314.58,431.12 314.81,434.44 315.05,437.82 315.30,441.21 315.57,444.62 315.86,448.00 316.16,451.36 316.47,454.66 316.79,457.91 317.13,461.07 317.48,464.16 317.84,467.15 318.22,470.04 318.61,472.83 319.01,475.51 319.43,478.09 319.86,480.55 320.30,482.90 320.75,485.14 321.21,487.27 321.69,489.30 322.18,491.23 322.68,493.06 323.19,494.79 323.71,496.43 324.25,497.99 324.80,499.47 325.36,500.87 325.93,502.19 326.51,503.45 327.11,504.65 327.71,505.78 328.33,506.86 328.96,507.89 329.60,508.87 330.25,509.81 330.91,510.71 331.58,511.57 332.27,512.39 332.96,513.19 333.67,513.95 334.38,514.69 335.11,515.41 335.85,516.11 336.60,516.79 337.36,517.45 338.13,518.09 338.91,518.72 339.71,519.34 340.51,519.94 341.32,520.52 342.15,521.09 342.98,521.65 343.83,522.20 344.68,522.73 345.55,523.25 346.43,523.75 347.31,524.24 348.21,524.72 349.12,525.18 350.04,525.62 350.97,526.05 351.90,526.46 352.85,526.86 353.81,527.23 354.78,527.59 355.76,527.92 356.75,528.23 357.75,528.52 358.76,528.79 359.78,529.02 360.81,529.23 361.85,529.41 362.90,529.57 363.95,529.70 365.02,529.80 366.10,529.88 367.19,529.94 368.29,529.98 369.40,530.00 370.52,530.00 371.65,529.98 372.78,529.95 373.93,529.90 375.09,529.85 376.25,529.78 377.43,529.70 378.62,529.62 379.81,529.53 381.02,529.43 382.23,529.34 383.46,529.25 384.69,529.16 385.94,529.07 387.19,528.99 388.45,528.92 389.72,528.85 391.01,528.78 392.30,528.69 393.60,528.60 394.91,528.51 396.23,528.42 397.56,528.32 398.89,528.22 400.24,528.12 401.60,528.02 402.96,527.93 404.34,527.84 405.72,527.75 407.12,527.67 408.52,527.59 409.93,527.52 411.35,527.47 412.78,527.42 414.22,527.39 415.67,527.37 417.13,527.36 418.60,527.36 420.08,527.37 421.56,527.38 423.06,527.41 424.56,527.45 426.07,527.49 427.59,527.55 429.13,527.61 430.67,527.68 432.21,527.75 433.77,527.84 435.34,527.93 436.92,528.02 438.50,528.13 440.09,528.24 441.70,528.35 443.31,528.47 444.93,528.61 446.56,528.76 448.20,528.92 449.85,529.09 451.50,529.28 453.17,529.46 454.84,529.66 456.52,529.86 458.22,530.07 459.92,530.27 461.63,530.48 463.34,530.69 465.07,530.89 466.81,531.09 468.55,531.29" fill="none" stroke="#58d058" stroke-width="1.3" stroke-linejoin="round"/>
<polyline clip-path="url(#c7)" points="313.11,365.55 313.13,366.00 313.17,367.11 313.23,368.76 313.31,370.90 313.41,373.46 313.53,376.40 313.67,379.67 313.82,383.24 313.98,387.06 314.17,391.09 314.37,395.29 314.58,399.63 314.81,404.07 315.05,408.58 315.30,413.12 315.57,417.67 315.86,422.20 316.16,426.70 316.47,431.13 316.79,435.48 317.13,439.74 317.48,443.89 317.84,447.92 318.22,451.82 318.61,455.58 319.01,459.21 319.43,462.69 319.86,466.03 320.30,469.22 320.75,472.27 321.21,475.18 321.69,477.95 322.18,480.58 322.68,483.09 323.19,485.47 323.71,487.72 324.25,489.87 324.80,491.90 325.36,493.83 325.93,495.66 326.51,497.40 327.11,499.05 327.71,500.62 328.33,502.11 328.96,503.53 329.60,504.88 330.25,506.16 330.91,507.38 331.58,508.55 332.27,509.66 332.96,510.71 333.67,511.73 334.38,512.69 335.11,513.61 335.85,514.50 336.60,515.34 337.36,516.15 338.13,516.93 338.91,517.67 339.71,518.38 340.51,519.07 341.32,519.72 342.15,520.35 342.98,520.95 343.83,521.52 344.68,522.07 345.55,522.59 346.43,523.09 347.31,523.56 348.21,524.01 349.12,524.44 350.04,524.85 350.97,525.23 351.90,525.59 352.85,525.93 353.81,526.25 354.78,526.55 355.76,526.82 356.75,527.07 357.75,527.31 358.76,527.52 359.78,527.71 360.81,527.88 361.85,528.03 362.90,528.16 363.95,528.26 365.02,528.34 366.10,528.40 367.19,528.44 368.29,528.46 369.40,528.46 370.52,528.45 371.65,528.42 372.78,528.38 373.93,528.33 375.09,528.27 376.25,528.20 377.43,528.12 378.62,528.03 379.81,527.95 381.02,527.86 382.23,527.76 383.46,527.67 384.69,527.59 385.94,527.50 387.19,527.43 388.45,527.36 389.72,527.30 391.01,527.23 392.30,527.16 393.60,527.10 394.91,527.03 396.23,526.96 397.56,526.90 398.89,526.84 400.24,526.78 401.60,526.72 402.96,526.67 404.34,526.62 405.72,526.57 407.12,526.53 408.52,526.49 409.93,526.46 411.35,526.43 412.78,526.42 414.22,526.40 415.67,526.40 417.13,526.39 418.60,526.40 420.08,526.41 421.56,526.42 423.06,526.44 424.56,526.47 426.07,526.50 427.59,526.55 429.13,526.60 430.67,526.66 432.21,526.72 433.77,526.80 435.34,526.89 436.92,526.99 438.50,527.11 440.09,527.23 441.70,527.37 443.31,527.53 444.93,527.70 446.56,527.90 448.20,528.11 449.85,528.34 451.50,528.58 453.17,528.83 454.84,529.10 456.52,529.37 458.22,529.64 459.92,529.92 461.63,530.20 463.34,530.48 465.07,530.76 466.81,531.03 468.55,531.29" fill="none" stroke="#333333" stroke-width="1.3" stroke-linejoin="round"/>
<rect x="294.7" y="417.7" width="187.3" height="149" fill="none" stroke="#333" stroke-width="1.15"/>
<line x1="307.75" y1="566.7" x2="307.75" y2="564.2" stroke="#222" stroke-width="1.1"/>
<line x1="307.75" y1="417.7" x2="307.75" y2="419.5" stroke="#222" stroke-width="1.1"/>
<text x="307.75" y="578.9" font-size="10.8" text-anchor="middle">0.0</text>
<line x1="334.55" y1="566.7" x2="334.55" y2="564.2" stroke="#222" stroke-width="1.1"/>
<line x1="334.55" y1="417.7" x2="334.55" y2="419.5" stroke="#222" stroke-width="1.1"/>
<text x="334.55" y="578.9" font-size="10.8" text-anchor="middle">0.5</text>
<line x1="361.35" y1="566.7" x2="361.35" y2="564.2" stroke="#222" stroke-width="1.1"/>
<line x1="361.35" y1="417.7" x2="361.35" y2="419.5" stroke="#222" stroke-width="1.1"/>
<text x="361.35" y="578.9" font-size="10.8" text-anchor="middle">1.0</text>
<line x1="388.15" y1="566.7" x2="388.15" y2="564.2" stroke="#222" stroke-width="1.1"/>
<line x1="388.15" y1="417.7" x2="388.15" y2="419.5" stroke="#222" stroke-width="1.1"/>
<text x="388.15" y="578.9" font-size="10.8" text-anchor="middle">1.5</text>
<line x1="414.95" y1="566.7" x2="414.95" y2="564.2" stroke="#222" stroke-width="1.1"/>
<line x1="414.95" y1="417.7" x2="414.95" y2="419.5" stroke="#222" stroke-width="1.1"/>
<text x="414.95" y="578.9" font-size="10.8" text-anchor="middle">2.0</text>
<line x1="441.75" y1="566.7" x2="441.75" y2="564.2" stroke="#222" stroke-width="1.1"/>
<line x1="441.75" y1="417.7" x2="441.75" y2="419.5" stroke="#222" stroke-width="1.1"/>
<text x="441.75" y="578.9" font-size="10.8" text-anchor="middle">2.5</text>
<line x1="468.55" y1="566.7" x2="468.55" y2="564.2" stroke="#222" stroke-width="1.1"/>
<line x1="468.55" y1="417.7" x2="468.55" y2="419.5" stroke="#222" stroke-width="1.1"/>
<text x="468.55" y="578.9" font-size="10.8" text-anchor="middle">3.0</text>
<line x1="294.7" y1="566.7" x2="297.2" y2="566.7" stroke="#222" stroke-width="1.1"/>
<text x="291.5" y="570.6" font-size="10.8" text-anchor="end">0.0</text>
<line x1="294.7" y1="536.9" x2="297.2" y2="536.9" stroke="#222" stroke-width="1.1"/>
<text x="291.5" y="540.8" font-size="10.8" text-anchor="end">0.2</text>
<line x1="294.7" y1="507.1" x2="297.2" y2="507.1" stroke="#222" stroke-width="1.1"/>
<text x="291.5" y="511" font-size="10.8" text-anchor="end">0.4</text>
<line x1="294.7" y1="477.3" x2="297.2" y2="477.3" stroke="#222" stroke-width="1.1"/>
<text x="291.5" y="481.2" font-size="10.8" text-anchor="end">0.6</text>
<line x1="294.7" y1="447.5" x2="297.2" y2="447.5" stroke="#222" stroke-width="1.1"/>
<text x="291.5" y="451.4" font-size="10.8" text-anchor="end">0.8</text>
<line x1="294.7" y1="417.7" x2="297.2" y2="417.7" stroke="#222" stroke-width="1.1"/>
<text x="291.5" y="421.6" font-size="10.8" text-anchor="end">1.0</text>
<text x="388.35" y="588.5" font-size="10.6" text-anchor="middle"><tspan font-style="italic">T</tspan>(s)</text>
<text x="0" y="0" font-size="11.2" text-anchor="middle" transform="translate(272.5 491.6) rotate(-90)"><tspan font-style="italic">C</tspan><tspan font-size="7.5" dy="2.5">r</tspan><tspan dy="-2.5"> , mean values</tspan></text>
<line x1="539.45" y1="421.4" x2="539.45" y2="566.7" stroke="#9a9a9a" stroke-width="1.05" stroke-dasharray="2.3 2.63"/>
<line x1="566.25" y1="421.4" x2="566.25" y2="566.7" stroke="#9a9a9a" stroke-width="1.05" stroke-dasharray="2.3 2.63"/>
<line x1="593.05" y1="421.4" x2="593.05" y2="566.7" stroke="#9a9a9a" stroke-width="1.05" stroke-dasharray="2.3 2.63"/>
<line x1="619.85" y1="421.4" x2="619.85" y2="566.7" stroke="#9a9a9a" stroke-width="1.05" stroke-dasharray="2.3 2.63"/>
<line x1="646.65" y1="421.4" x2="646.65" y2="566.7" stroke="#9a9a9a" stroke-width="1.05" stroke-dasharray="2.3 2.63"/>
<line x1="673.45" y1="421.4" x2="673.45" y2="566.7" stroke="#9a9a9a" stroke-width="1.05" stroke-dasharray="2.3 2.63"/>
<line x1="700.25" y1="421.4" x2="700.25" y2="566.7" stroke="#9a9a9a" stroke-width="1.05" stroke-dasharray="2.3 2.63"/>
<line x1="531.3" y1="536.9" x2="711.7" y2="536.9" stroke="#a6a6a6" stroke-width="1.1" stroke-dasharray="2.1 2.83"/>
<line x1="531.3" y1="507.1" x2="711.7" y2="507.1" stroke="#a6a6a6" stroke-width="1.1" stroke-dasharray="2.1 2.83"/>
<line x1="531.3" y1="477.3" x2="711.7" y2="477.3" stroke="#a6a6a6" stroke-width="1.1" stroke-dasharray="2.1 2.83"/>
<line x1="531.3" y1="447.5" x2="711.7" y2="447.5" stroke="#a6a6a6" stroke-width="1.1" stroke-dasharray="2.1 2.83"/>
<polyline clip-path="url(#c8)" points="544.81,532.58 544.83,532.62 544.87,532.72 544.93,532.87 545.01,533.07 545.11,533.30 545.23,533.57 545.37,533.87 545.52,534.19 545.68,534.54 545.87,534.91 546.07,535.29 546.28,535.68 546.51,536.08 546.75,536.48 547.00,536.89 547.27,537.30 547.56,537.70 547.86,538.10 548.17,538.49 548.49,538.87 548.83,539.24 549.18,539.61 549.54,539.95 549.92,540.29 550.31,540.61 550.71,540.92 551.13,541.21 551.56,541.49 552.00,541.76 552.45,542.01 552.91,542.25 553.39,542.47 553.88,542.68 554.38,542.88 554.89,543.07 555.41,543.24 555.95,543.40 556.50,543.56 557.06,543.70 557.63,543.84 558.21,543.96 558.81,544.08 559.41,544.19 560.03,544.30 560.66,544.39 561.30,544.48 561.95,544.57 562.61,544.65 563.28,544.72 563.97,544.79 564.66,544.85 565.37,544.91 566.08,544.96 566.81,545.01 567.55,545.06 568.30,545.10 569.06,545.14 569.83,545.18 570.61,545.21 571.41,545.24 572.21,545.27 573.02,545.30 573.85,545.32 574.68,545.35 575.53,545.36 576.38,545.38 577.25,545.40 578.13,545.41 579.01,545.42 579.91,545.43 580.82,545.43 581.74,545.44 582.67,545.44 583.60,545.44 584.55,545.44 585.51,545.44 586.48,545.43 587.46,545.43 588.45,545.42 589.45,545.41 590.46,545.40 591.48,545.39 592.51,545.37 593.55,545.36 594.60,545.34 595.65,545.32 596.72,545.30 597.80,545.28 598.89,545.26 599.99,545.24 601.10,545.21 602.22,545.18 603.35,545.16 604.48,545.13 605.63,545.10 606.79,545.06 607.95,545.03 609.13,544.99 610.32,544.95 611.51,544.91 612.72,544.87 613.93,544.83 615.16,544.78 616.39,544.73 617.64,544.68 618.89,544.63 620.15,544.57 621.42,544.51 622.71,544.44 624.00,544.36 625.30,544.28 626.61,544.19 627.93,544.10 629.26,544.01 630.59,543.91 631.94,543.82 633.30,543.72 634.66,543.63 636.04,543.53 637.42,543.44 638.82,543.36 640.22,543.28 641.63,543.20 643.05,543.14 644.48,543.08 645.92,543.04 647.37,543.00 648.83,542.98 650.30,542.97 651.78,542.96 653.26,542.96 654.76,542.97 656.26,542.98 657.77,543.00 659.29,543.03 660.83,543.06 662.37,543.09 663.91,543.13 665.47,543.18 667.04,543.22 668.62,543.27 670.20,543.31 671.79,543.36 673.40,543.41 675.01,543.46 676.63,543.51 678.26,543.57 679.90,543.64 681.55,543.71 683.20,543.78 684.87,543.86 686.54,543.93 688.22,544.01 689.92,544.10 691.62,544.18 693.33,544.26 695.04,544.34 696.77,544.43 698.51,544.51 700.25,544.58" fill="none" stroke="#d63a3a" stroke-width="1.3" stroke-linejoin="round"/>
<polyline clip-path="url(#c8)" points="544.81,512.46 544.83,512.54 544.87,512.74 544.93,513.03 545.01,513.41 545.11,513.87 545.23,514.39 545.37,514.97 545.52,515.59 545.68,516.27 545.87,516.98 546.07,517.71 546.28,518.47 546.51,519.25 546.75,520.03 547.00,520.82 547.27,521.61 547.56,522.39 547.86,523.16 548.17,523.92 548.49,524.66 548.83,525.38 549.18,526.08 549.54,526.76 549.92,527.41 550.31,528.03 550.71,528.63 551.13,529.20 551.56,529.74 552.00,530.25 552.45,530.74 552.91,531.20 553.39,531.63 553.88,532.04 554.38,532.43 554.89,532.79 555.41,533.13 555.95,533.45 556.50,533.75 557.06,534.03 557.63,534.30 558.21,534.55 558.81,534.79 559.41,535.01 560.03,535.22 560.66,535.42 561.30,535.61 561.95,535.79 562.61,535.96 563.28,536.12 563.97,536.28 564.66,536.44 565.37,536.58 566.08,536.73 566.81,536.87 567.55,537.01 568.30,537.14 569.06,537.28 569.83,537.41 570.61,537.54 571.41,537.67 572.21,537.79 573.02,537.92 573.85,538.04 574.68,538.16 575.53,538.28 576.38,538.40 577.25,538.52 578.13,538.64 579.01,538.75 579.91,538.86 580.82,538.97 581.74,539.08 582.67,539.19 583.60,539.29 584.55,539.39 585.51,539.49 586.48,539.58 587.46,539.67 588.45,539.76 589.45,539.84 590.46,539.92 591.48,539.99 592.51,540.05 593.55,540.11 594.60,540.17 595.65,540.23 596.72,540.28 597.80,540.33 598.89,540.38 599.99,540.43 601.10,540.47 602.22,540.51 603.35,540.55 604.48,540.58 605.63,540.62 606.79,540.64 607.95,540.67 609.13,540.69 610.32,540.71 611.51,540.72 612.72,540.73 613.93,540.73 615.16,540.73 616.39,540.72 617.64,540.71 618.89,540.69 620.15,540.67 621.42,540.63 622.71,540.58 624.00,540.53 625.30,540.46 626.61,540.38 627.93,540.30 629.26,540.21 630.59,540.12 631.94,540.02 633.30,539.92 634.66,539.81 636.04,539.71 637.42,539.61 638.82,539.51 640.22,539.42 641.63,539.33 643.05,539.26 644.48,539.19 645.92,539.13 647.37,539.09 648.83,539.05 650.30,539.02 651.78,538.99 653.26,538.97 654.76,538.96 656.26,538.95 657.77,538.95 659.29,538.95 660.83,538.95 662.37,538.96 663.91,538.97 665.47,538.99 667.04,539.01 668.62,539.03 670.20,539.05 671.79,539.08 673.40,539.11 675.01,539.14 676.63,539.18 678.26,539.22 679.90,539.28 681.55,539.33 683.20,539.39 684.87,539.46 686.54,539.52 688.22,539.59 689.92,539.66 691.62,539.74 693.33,539.81 695.04,539.88 696.77,539.95 698.51,540.02 700.25,540.09" fill="none" stroke="#2f8fe0" stroke-width="1.3" stroke-linejoin="round"/>
<polyline clip-path="url(#c8)" points="544.81,491.16 544.83,491.29 544.87,491.60 544.93,492.08 545.01,492.69 545.11,493.42 545.23,494.27 545.37,495.20 545.52,496.22 545.68,497.31 545.87,498.46 546.07,499.65 546.28,500.88 546.51,502.14 546.75,503.41 547.00,504.69 547.27,505.97 547.56,507.24 547.86,508.49 548.17,509.72 548.49,510.93 548.83,512.11 549.18,513.25 549.54,514.35 549.92,515.41 550.31,516.43 550.71,517.40 551.13,518.33 551.56,519.22 552.00,520.07 552.45,520.87 552.91,521.62 553.39,522.34 553.88,523.01 554.38,523.65 554.89,524.25 555.41,524.81 555.95,525.35 556.50,525.85 557.06,526.32 557.63,526.76 558.21,527.18 558.81,527.58 559.41,527.95 560.03,528.30 560.66,528.64 561.30,528.96 561.95,529.26 562.61,529.55 563.28,529.83 563.97,530.09 564.66,530.35 565.37,530.60 566.08,530.84 566.81,531.08 567.55,531.31 568.30,531.53 569.06,531.75 569.83,531.97 570.61,532.18 571.41,532.39 572.21,532.59 573.02,532.80 573.85,533.00 574.68,533.19 575.53,533.39 576.38,533.58 577.25,533.76 578.13,533.95 579.01,534.13 579.91,534.31 580.82,534.48 581.74,534.65 582.67,534.82 583.60,534.98 584.55,535.13 585.51,535.28 586.48,535.42 587.46,535.56 588.45,535.69 589.45,535.81 590.46,535.93 591.48,536.03 592.51,536.13 593.55,536.21 594.60,536.29 595.65,536.36 596.72,536.42 597.80,536.48 598.89,536.53 599.99,536.57 601.10,536.61 602.22,536.64 603.35,536.67 604.48,536.69 605.63,536.70 606.79,536.72 607.95,536.73 609.13,536.74 610.32,536.74 611.51,536.74 612.72,536.74 613.93,536.75 615.16,536.75 616.39,536.75 617.64,536.75 618.89,536.76 620.15,536.76 621.42,536.77 622.71,536.78 624.00,536.78 625.30,536.78 626.61,536.79 627.93,536.79 629.26,536.79 630.59,536.79 631.94,536.79 633.30,536.78 634.66,536.78 636.04,536.78 637.42,536.78 638.82,536.77 640.22,536.77 641.63,536.77 643.05,536.77 644.48,536.76 645.92,536.76 647.37,536.76 648.83,536.76 650.30,536.76 651.78,536.77 653.26,536.77 654.76,536.78 656.26,536.78 657.77,536.79 659.29,536.79 660.83,536.80 662.37,536.80 663.91,536.80 665.47,536.80 667.04,536.80 668.62,536.80 670.20,536.79 671.79,536.78 673.40,536.76 675.01,536.74 676.63,536.72 678.26,536.69 679.90,536.66 681.55,536.63 683.20,536.59 684.87,536.55 686.54,536.51 688.22,536.47 689.92,536.43 691.62,536.38 693.33,536.34 695.04,536.30 696.77,536.26 698.51,536.21 700.25,536.18" fill="none" stroke="#b8f070" stroke-width="1.3" stroke-linejoin="round"/>
<polyline clip-path="url(#c8)" points="544.81,479.83 544.83,479.98 544.87,480.34 544.93,480.88 545.01,481.57 545.11,482.40 545.23,483.36 545.37,484.42 545.52,485.58 545.68,486.81 545.87,488.11 546.07,489.47 546.28,490.87 546.51,492.29 546.75,493.74 547.00,495.19 547.27,496.65 547.56,498.09 547.86,499.52 548.17,500.92 548.49,502.30 548.83,503.64 549.18,504.94 549.54,506.20 549.92,507.41 550.31,508.58 550.71,509.69 551.13,510.76 551.56,511.78 552.00,512.75 552.45,513.67 552.91,514.54 553.39,515.36 553.88,516.14 554.38,516.88 554.89,517.57 555.41,518.23 555.95,518.84 556.50,519.43 557.06,519.98 557.63,520.50 558.21,520.99 558.81,521.45 559.41,521.89 560.03,522.31 560.66,522.70 561.30,523.08 561.95,523.44 562.61,523.79 563.28,524.12 563.97,524.44 564.66,524.76 565.37,525.06 566.08,525.35 566.81,525.64 567.55,525.93 568.30,526.21 569.06,526.48 569.83,526.75 570.61,527.02 571.41,527.29 572.21,527.55 573.02,527.81 573.85,528.07 574.68,528.32 575.53,528.58 576.38,528.82 577.25,529.07 578.13,529.31 579.01,529.55 579.91,529.79 580.82,530.02 581.74,530.24 582.67,530.46 583.60,530.67 584.55,530.88 585.51,531.08 586.48,531.27 587.46,531.46 588.45,531.63 589.45,531.79 590.46,531.94 591.48,532.08 592.51,532.20 593.55,532.32 594.60,532.41 595.65,532.50 596.72,532.58 597.80,532.64 598.89,532.70 599.99,532.74 601.10,532.78 602.22,532.81 603.35,532.83 604.48,532.85 605.63,532.86 606.79,532.86 607.95,532.86 609.13,532.86 610.32,532.85 611.51,532.85 612.72,532.84 613.93,532.84 615.16,532.83 616.39,532.83 617.64,532.83 618.89,532.84 620.15,532.85 621.42,532.87 622.71,532.89 624.00,532.91 625.30,532.94 626.61,532.96 627.93,532.99 629.26,533.01 630.59,533.04 631.94,533.07 633.30,533.09 634.66,533.12 636.04,533.14 637.42,533.16 638.82,533.19 640.22,533.20 641.63,533.22 643.05,533.23 644.48,533.24 645.92,533.24 647.37,533.24 648.83,533.23 650.30,533.22 651.78,533.21 653.26,533.19 654.76,533.16 656.26,533.14 657.77,533.11 659.29,533.08 660.83,533.05 662.37,533.02 663.91,532.99 665.47,532.96 667.04,532.93 668.62,532.91 670.20,532.89 671.79,532.87 673.40,532.85 675.01,532.84 676.63,532.83 678.26,532.83 679.90,532.82 681.55,532.82 683.20,532.82 684.87,532.82 686.54,532.83 688.22,532.83 689.92,532.83 691.62,532.84 693.33,532.84 695.04,532.85 696.77,532.85 698.51,532.85 700.25,532.85" fill="none" stroke="#f4a0a6" stroke-width="1.3" stroke-linejoin="round"/>
<polyline clip-path="url(#c8)" points="544.81,462.25 544.83,462.44 544.87,462.91 544.93,463.61 545.01,464.50 545.11,465.58 545.23,466.82 545.37,468.20 545.52,469.70 545.68,471.30 545.87,472.99 546.07,474.75 546.28,476.57 546.51,478.42 546.75,480.30 547.00,482.19 547.27,484.08 547.56,485.95 547.86,487.81 548.17,489.64 548.49,491.42 548.83,493.17 549.18,494.86 549.54,496.49 549.92,498.07 550.31,499.59 550.71,501.05 551.13,502.44 551.56,503.76 552.00,505.03 552.45,506.23 552.91,507.36 553.39,508.44 553.88,509.46 554.38,510.42 554.89,511.33 555.41,512.19 555.95,513.01 556.50,513.78 557.06,514.50 557.63,515.19 558.21,515.84 558.81,516.46 559.41,517.06 560.03,517.62 560.66,518.16 561.30,518.69 561.95,519.19 562.61,519.68 563.28,520.16 563.97,520.62 564.66,521.08 565.37,521.54 566.08,521.99 566.81,522.45 567.55,522.90 568.30,523.37 569.06,523.83 569.83,524.30 570.61,524.78 571.41,525.26 572.21,525.75 573.02,526.23 573.85,526.73 574.68,527.22 575.53,527.72 576.38,528.22 577.25,528.71 578.13,529.21 579.01,529.70 579.91,530.19 580.82,530.67 581.74,531.14 582.67,531.60 583.60,532.05 584.55,532.49 585.51,532.91 586.48,533.31 587.46,533.68 588.45,534.03 589.45,534.35 590.46,534.64 591.48,534.89 592.51,535.10 593.55,535.27 594.60,535.41 595.65,535.51 596.72,535.57 597.80,535.60 598.89,535.61 599.99,535.58 601.10,535.53 602.22,535.45 603.35,535.36 604.48,535.24 605.63,535.10 606.79,534.95 607.95,534.79 609.13,534.62 610.32,534.44 611.51,534.26 612.72,534.09 613.93,533.91 615.16,533.74 616.39,533.58 617.64,533.44 618.89,533.32 620.15,533.22 621.42,533.13 622.71,533.04 624.00,532.95 625.30,532.86 626.61,532.77 627.93,532.69 629.26,532.60 630.59,532.52 631.94,532.44 633.30,532.36 634.66,532.28 636.04,532.21 637.42,532.13 638.82,532.06 640.22,531.99 641.63,531.91 643.05,531.85 644.48,531.78 645.92,531.71 647.37,531.65 648.83,531.58 650.30,531.52 651.78,531.45 653.26,531.39 654.76,531.33 656.26,531.27 657.77,531.21 659.29,531.16 660.83,531.11 662.37,531.07 663.91,531.02 665.47,530.99 667.04,530.96 668.62,530.93 670.20,530.91 671.79,530.90 673.40,530.90 675.01,530.90 676.63,530.92 678.26,530.94 679.90,530.97 681.55,531.02 683.20,531.06 684.87,531.12 686.54,531.18 688.22,531.24 689.92,531.30 691.62,531.37 693.33,531.44 695.04,531.50 696.77,531.56 698.51,531.62 700.25,531.68" fill="none" stroke="#3a36d8" stroke-width="1.3" stroke-linejoin="round"/>
<polyline clip-path="url(#c8)" points="544.81,449.74 544.83,449.96 544.87,450.50 544.93,451.31 545.01,452.36 545.11,453.62 545.23,455.06 545.37,456.67 545.52,458.42 545.68,460.29 545.87,462.27 546.07,464.32 546.28,466.44 546.51,468.61 546.75,470.81 547.00,473.02 547.27,475.23 547.56,477.43 547.86,479.61 548.17,481.76 548.49,483.86 548.83,485.91 549.18,487.91 549.54,489.84 549.92,491.71 550.31,493.50 550.71,495.23 551.13,496.88 551.56,498.46 552.00,499.96 552.45,501.40 552.91,502.76 553.39,504.05 553.88,505.28 554.38,506.44 554.89,507.53 555.41,508.57 555.95,509.56 556.50,510.49 557.06,511.37 557.63,512.20 558.21,513.00 558.81,513.75 559.41,514.46 560.03,515.15 560.66,515.80 561.30,516.42 561.95,517.02 562.61,517.59 563.28,518.15 563.97,518.69 564.66,519.21 565.37,519.72 566.08,520.22 566.81,520.71 567.55,521.20 568.30,521.68 569.06,522.16 569.83,522.63 570.61,523.10 571.41,523.57 572.21,524.04 573.02,524.50 573.85,524.95 574.68,525.41 575.53,525.86 576.38,526.30 577.25,526.74 578.13,527.18 579.01,527.61 579.91,528.03 580.82,528.44 581.74,528.84 582.67,529.23 583.60,529.61 584.55,529.98 585.51,530.32 586.48,530.66 587.46,530.97 588.45,531.26 589.45,531.53 590.46,531.78 591.48,531.99 592.51,532.18 593.55,532.33 594.60,532.46 595.65,532.56 596.72,532.63 597.80,532.68 598.89,532.70 599.99,532.70 601.10,532.69 602.22,532.65 603.35,532.59 604.48,532.52 605.63,532.44 606.79,532.35 607.95,532.24 609.13,532.13 610.32,532.02 611.51,531.91 612.72,531.79 613.93,531.68 615.16,531.57 616.39,531.48 617.64,531.39 618.89,531.33 620.15,531.28 621.42,531.24 622.71,531.20 624.00,531.17 625.30,531.14 626.61,531.12 627.93,531.10 629.26,531.08 630.59,531.06 631.94,531.05 633.30,531.04 634.66,531.03 636.04,531.02 637.42,531.01 638.82,531.00 640.22,530.98 641.63,530.97 643.05,530.95 644.48,530.93 645.92,530.91 647.37,530.88 648.83,530.85 650.30,530.81 651.78,530.76 653.26,530.71 654.76,530.66 656.26,530.61 657.77,530.56 659.29,530.51 660.83,530.46 662.37,530.42 663.91,530.38 665.47,530.34 667.04,530.32 668.62,530.30 670.20,530.29 671.79,530.29 673.40,530.31 675.01,530.34 676.63,530.38 678.26,530.44 679.90,530.50 681.55,530.58 683.20,530.66 684.87,530.75 686.54,530.85 688.22,530.95 689.92,531.06 691.62,531.17 693.33,531.28 695.04,531.38 696.77,531.49 698.51,531.59 700.25,531.68" fill="none" stroke="#e048e0" stroke-width="1.3" stroke-linejoin="round"/>
<polyline clip-path="url(#c8)" points="544.81,417.70 544.83,418.00 544.87,418.75 544.93,419.86 545.01,421.30 545.11,423.02 545.23,425.00 545.37,427.20 545.52,429.60 545.68,432.17 545.87,434.88 546.07,437.70 546.28,440.61 546.51,443.59 546.75,446.61 547.00,449.65 547.27,452.70 547.56,455.73 547.86,458.74 548.17,461.69 548.49,464.60 548.83,467.43 549.18,470.19 549.54,472.87 549.92,475.46 550.31,477.95 550.71,480.35 551.13,482.65 551.56,484.85 552.00,486.95 552.45,488.95 552.91,490.86 553.39,492.67 553.88,494.39 554.38,496.03 554.89,497.57 555.41,499.04 555.95,500.43 556.50,501.75 557.06,503.00 557.63,504.18 558.21,505.31 558.81,506.38 559.41,507.40 560.03,508.37 560.66,509.29 561.30,510.17 561.95,511.02 562.61,511.83 563.28,512.61 563.97,513.37 564.66,514.10 565.37,514.80 566.08,515.49 566.81,516.16 567.55,516.81 568.30,517.46 569.06,518.09 569.83,518.71 570.61,519.32 571.41,519.93 572.21,520.52 573.02,521.10 573.85,521.68 574.68,522.24 575.53,522.80 576.38,523.35 577.25,523.88 578.13,524.41 579.01,524.92 579.91,525.42 580.82,525.91 581.74,526.38 582.67,526.84 583.60,527.28 584.55,527.70 585.51,528.10 586.48,528.49 587.46,528.84 588.45,529.18 589.45,529.48 590.46,529.76 591.48,530.00 592.51,530.21 593.55,530.39 594.60,530.53 595.65,530.64 596.72,530.71 597.80,530.76 598.89,530.78 599.99,530.77 601.10,530.74 602.22,530.69 603.35,530.61 604.48,530.52 605.63,530.42 606.79,530.30 607.95,530.17 609.13,530.03 610.32,529.88 611.51,529.74 612.72,529.59 613.93,529.45 615.16,529.32 616.39,529.20 617.64,529.09 618.89,529.00 620.15,528.93 621.42,528.86 622.71,528.81 624.00,528.75 625.30,528.70 626.61,528.66 627.93,528.62 629.26,528.58 630.59,528.54 631.94,528.51 633.30,528.48 634.66,528.46 636.04,528.44 637.42,528.42 638.82,528.40 640.22,528.39 641.63,528.38 643.05,528.37 644.48,528.36 645.92,528.36 647.37,528.35 648.83,528.35 650.30,528.35 651.78,528.35 653.26,528.36 654.76,528.37 656.26,528.38 657.77,528.40 659.29,528.42 660.83,528.45 662.37,528.48 663.91,528.52 665.47,528.57 667.04,528.62 668.62,528.69 670.20,528.76 671.79,528.84 673.40,528.94 675.01,529.04 676.63,529.16 678.26,529.30 679.90,529.45 681.55,529.61 683.20,529.78 684.87,529.95 686.54,530.14 688.22,530.33 689.92,530.52 691.62,530.72 693.33,530.92 695.04,531.11 696.77,531.31 698.51,531.50 700.25,531.68" fill="none" stroke="#58d058" stroke-width="1.3" stroke-linejoin="round"/>
<polyline clip-path="url(#c8)" points="544.81,387.73 544.83,388.12 544.87,389.08 544.93,390.50 545.01,392.34 545.11,394.55 545.23,397.09 545.37,399.92 545.52,402.99 545.68,406.29 545.87,409.77 546.07,413.39 546.28,417.13 546.51,420.96 546.75,424.85 547.00,428.77 547.27,432.69 547.56,436.60 547.86,440.48 548.17,444.30 548.49,448.05 548.83,451.72 549.18,455.30 549.54,458.77 549.92,462.14 550.31,465.38 550.71,468.51 551.13,471.51 551.56,474.39 552.00,477.14 552.45,479.76 552.91,482.27 553.39,484.66 553.88,486.93 554.38,489.08 554.89,491.13 555.41,493.08 555.95,494.92 556.50,496.67 557.06,498.34 557.63,499.92 558.21,501.41 558.81,502.84 559.41,504.19 560.03,505.48 560.66,506.70 561.30,507.87 561.95,508.98 562.61,510.04 563.28,511.05 563.97,512.02 564.66,512.94 565.37,513.82 566.08,514.67 566.81,515.48 567.55,516.27 568.30,517.02 569.06,517.75 569.83,518.44 570.61,519.12 571.41,519.77 572.21,520.40 573.02,521.00 573.85,521.58 574.68,522.14 575.53,522.68 576.38,523.20 577.25,523.70 578.13,524.18 579.01,524.64 579.91,525.08 580.82,525.50 581.74,525.89 582.67,526.27 583.60,526.63 584.55,526.97 585.51,527.28 586.48,527.58 587.46,527.85 588.45,528.10 589.45,528.33 590.46,528.53 591.48,528.71 592.51,528.87 593.55,529.00 594.60,529.10 595.65,529.17 596.72,529.22 597.80,529.24 598.89,529.24 599.99,529.22 601.10,529.18 602.22,529.12 603.35,529.04 604.48,528.95 605.63,528.85 606.79,528.73 607.95,528.61 609.13,528.48 610.32,528.34 611.51,528.20 612.72,528.06 613.93,527.92 615.16,527.79 616.39,527.66 617.64,527.55 618.89,527.44 620.15,527.36 621.42,527.27 622.71,527.19 624.00,527.12 625.30,527.04 626.61,526.97 627.93,526.90 629.26,526.84 630.59,526.78 631.94,526.72 633.30,526.67 634.66,526.62 636.04,526.58 637.42,526.54 638.82,526.50 640.22,526.47 641.63,526.45 643.05,526.43 644.48,526.41 645.92,526.40 647.37,526.40 648.83,526.40 650.30,526.40 651.78,526.41 653.26,526.42 654.76,526.44 656.26,526.47 657.77,526.50 659.29,526.55 660.83,526.60 662.37,526.66 663.91,526.73 665.47,526.80 667.04,526.89 668.62,527.00 670.20,527.11 671.79,527.23 673.40,527.37 675.01,527.53 676.63,527.70 678.26,527.90 679.90,528.11 681.55,528.34 683.20,528.58 684.87,528.83 686.54,529.10 688.22,529.37 689.92,529.64 691.62,529.92 693.33,530.20 695.04,530.48 696.77,530.76 698.51,531.03 700.25,531.29" fill="none" stroke="#333333" stroke-width="1.3" stroke-linejoin="round"/>
<rect x="526.4" y="417.7" width="187.3" height="149" fill="none" stroke="#333" stroke-width="1.15"/>
<line x1="539.45" y1="566.7" x2="539.45" y2="564.2" stroke="#222" stroke-width="1.1"/>
<line x1="539.45" y1="417.7" x2="539.45" y2="419.5" stroke="#222" stroke-width="1.1"/>
<text x="539.45" y="578.9" font-size="10.8" text-anchor="middle">0.0</text>
<line x1="566.25" y1="566.7" x2="566.25" y2="564.2" stroke="#222" stroke-width="1.1"/>
<line x1="566.25" y1="417.7" x2="566.25" y2="419.5" stroke="#222" stroke-width="1.1"/>
<text x="566.25" y="578.9" font-size="10.8" text-anchor="middle">0.5</text>
<line x1="593.05" y1="566.7" x2="593.05" y2="564.2" stroke="#222" stroke-width="1.1"/>
<line x1="593.05" y1="417.7" x2="593.05" y2="419.5" stroke="#222" stroke-width="1.1"/>
<text x="593.05" y="578.9" font-size="10.8" text-anchor="middle">1.0</text>
<line x1="619.85" y1="566.7" x2="619.85" y2="564.2" stroke="#222" stroke-width="1.1"/>
<line x1="619.85" y1="417.7" x2="619.85" y2="419.5" stroke="#222" stroke-width="1.1"/>
<text x="619.85" y="578.9" font-size="10.8" text-anchor="middle">1.5</text>
<line x1="646.65" y1="566.7" x2="646.65" y2="564.2" stroke="#222" stroke-width="1.1"/>
<line x1="646.65" y1="417.7" x2="646.65" y2="419.5" stroke="#222" stroke-width="1.1"/>
<text x="646.65" y="578.9" font-size="10.8" text-anchor="middle">2.0</text>
<line x1="673.45" y1="566.7" x2="673.45" y2="564.2" stroke="#222" stroke-width="1.1"/>
<line x1="673.45" y1="417.7" x2="673.45" y2="419.5" stroke="#222" stroke-width="1.1"/>
<text x="673.45" y="578.9" font-size="10.8" text-anchor="middle">2.5</text>
<line x1="700.25" y1="566.7" x2="700.25" y2="564.2" stroke="#222" stroke-width="1.1"/>
<line x1="700.25" y1="417.7" x2="700.25" y2="419.5" stroke="#222" stroke-width="1.1"/>
<text x="700.25" y="578.9" font-size="10.8" text-anchor="middle">3.0</text>
<line x1="526.4" y1="566.7" x2="528.9" y2="566.7" stroke="#222" stroke-width="1.1"/>
<text x="523.2" y="570.6" font-size="10.8" text-anchor="end">0.0</text>
<line x1="526.4" y1="536.9" x2="528.9" y2="536.9" stroke="#222" stroke-width="1.1"/>
<text x="523.2" y="540.8" font-size="10.8" text-anchor="end">0.2</text>
<line x1="526.4" y1="507.1" x2="528.9" y2="507.1" stroke="#222" stroke-width="1.1"/>
<text x="523.2" y="511" font-size="10.8" text-anchor="end">0.4</text>
<line x1="526.4" y1="477.3" x2="528.9" y2="477.3" stroke="#222" stroke-width="1.1"/>
<text x="523.2" y="481.2" font-size="10.8" text-anchor="end">0.6</text>
<line x1="526.4" y1="447.5" x2="528.9" y2="447.5" stroke="#222" stroke-width="1.1"/>
<text x="523.2" y="451.4" font-size="10.8" text-anchor="end">0.8</text>
<line x1="526.4" y1="417.7" x2="528.9" y2="417.7" stroke="#222" stroke-width="1.1"/>
<text x="523.2" y="421.6" font-size="10.8" text-anchor="end">1.0</text>
<text x="620.05" y="588.5" font-size="10.6" text-anchor="middle"><tspan font-style="italic">T</tspan>(s)</text>
<text x="0" y="0" font-size="11.2" text-anchor="middle" transform="translate(504.2 491.6) rotate(-90)"><tspan font-style="italic">C</tspan><tspan font-size="7.5" dy="2.5">r</tspan><tspan dy="-2.5"> , mean values</tspan></text>
<rect x="145.4" y="606.8" width="452" height="24.9" fill="#fff" stroke="#333" stroke-width="1.2"/>
<text x="153.6" y="624" font-size="10" font-style="italic">DI<tspan font-style="normal">=</tspan></text>
<line x1="181.9" y1="623" x2="219.4" y2="623" stroke="#e86464" stroke-width="1.6"/>
<text x="0" y="0" font-size="10.3" text-anchor="middle" transform="translate(199.5 620.2) scale(0.93 1)">0.1</text>
<line x1="234.16" y1="623" x2="271.66" y2="623" stroke="#5ea4ea" stroke-width="1.6"/>
<text x="0" y="0" font-size="10.3" text-anchor="middle" transform="translate(251.76 620.2) scale(0.93 1)">0.2</text>
<line x1="286.42" y1="623" x2="323.92" y2="623" stroke="#c4f08c" stroke-width="1.6"/>
<text x="0" y="0" font-size="10.3" text-anchor="middle" transform="translate(304.02 620.2) scale(0.93 1)">0.3</text>
<line x1="338.68" y1="623" x2="376.18" y2="623" stroke="#f4aab0" stroke-width="1.6"/>
<text x="0" y="0" font-size="10.3" text-anchor="middle" transform="translate(356.28 620.2) scale(0.93 1)">0.4</text>
<line x1="390.94" y1="623" x2="428.44" y2="623" stroke="#7a78ee" stroke-width="1.6"/>
<text x="0" y="0" font-size="10.3" text-anchor="middle" transform="translate(408.54 620.2) scale(0.93 1)">0.5</text>
<line x1="443.2" y1="623" x2="480.7" y2="623" stroke="#e864e8" stroke-width="1.6"/>
<text x="0" y="0" font-size="10.3" text-anchor="middle" transform="translate(460.8 620.2) scale(0.93 1)">0.6</text>
<line x1="495.46" y1="623" x2="532.96" y2="623" stroke="#94e494" stroke-width="1.6"/>
<text x="0" y="0" font-size="10.3" text-anchor="middle" transform="translate(513.06 620.2) scale(0.93 1)">0.8</text>
<line x1="547.72" y1="623" x2="585.22" y2="623" stroke="#606060" stroke-width="1.6"/>
<text x="0" y="0" font-size="10.3" text-anchor="middle" transform="translate(565.32 620.2) scale(0.93 1)">1.0</text>
</svg></body></html>
